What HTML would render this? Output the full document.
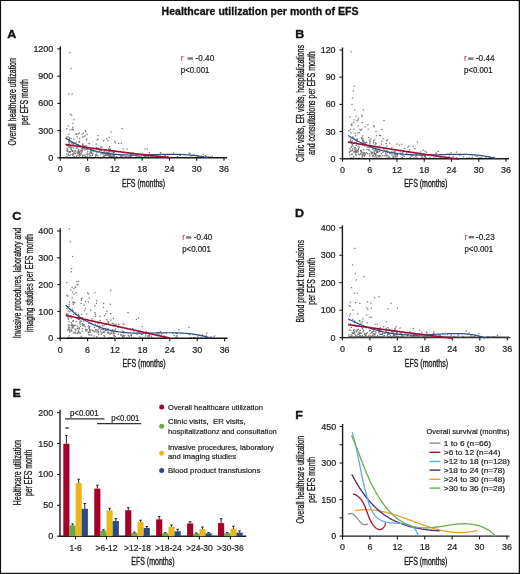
<!DOCTYPE html>
<html><head><meta charset="utf-8"><style>html,body{margin:0;padding:0;background:#fff;width:520px;height:574px;overflow:hidden}</style></head><body>
<svg width="520" height="574" viewBox="0 0 520 574" style="display:block;will-change:transform;font-family:'Liberation Sans', sans-serif">
<rect x="0" y="0" width="520" height="574" fill="#fff"/>
<rect x="0" y="0" width="520" height="1" fill="#111"/>
<rect x="0" y="0" width="1.1" height="574" fill="#111"/>
<rect x="518.7" y="0" width="1.3" height="574" fill="#111"/>
<rect x="0" y="572.8" width="520" height="1.2" fill="#111"/>
<text x="260.0" y="14.9" font-size="10.55" text-anchor="middle" font-weight="bold" fill="#111" stroke="#111" stroke-width="0.3">Healthcare utilization per month of EFS</text>
<text transform="translate(7.20,38.20) scale(1.06,1)" font-size="11.8" font-weight="bold" fill="#111" stroke="#111" stroke-width="0.35">A</text>
<text transform="translate(295.30,38.20) scale(1.06,1)" font-size="11.8" font-weight="bold" fill="#111" stroke="#111" stroke-width="0.35">B</text>
<text transform="translate(12.30,219.70) scale(1.06,1)" font-size="11.8" font-weight="bold" fill="#111" stroke="#111" stroke-width="0.35">C</text>
<text transform="translate(294.90,216.90) scale(1.06,1)" font-size="11.8" font-weight="bold" fill="#111" stroke="#111" stroke-width="0.35">D</text>
<text transform="translate(12.60,396.50) scale(1.06,1)" font-size="11.8" font-weight="bold" fill="#111" stroke="#111" stroke-width="0.35">E</text>
<text transform="translate(295.20,418.70) scale(1.06,1)" font-size="11.8" font-weight="bold" fill="#111" stroke="#111" stroke-width="0.35">F</text>
<rect x="69.23" y="51.91" width="1.25" height="1.25" fill="#727272"/>
<rect x="70.59" y="67.79" width="1.25" height="1.25" fill="#727272"/>
<rect x="68.32" y="93.20" width="1.25" height="1.25" fill="#727272"/>
<rect x="71.50" y="93.20" width="1.25" height="1.25" fill="#727272"/>
<rect x="69.68" y="113.62" width="1.25" height="1.25" fill="#727272"/>
<rect x="71.05" y="114.53" width="1.25" height="1.25" fill="#727272"/>
<rect x="73.32" y="119.06" width="1.25" height="1.25" fill="#727272"/>
<rect x="72.41" y="122.69" width="1.25" height="1.25" fill="#727272"/>
<rect x="84.69" y="129.96" width="1.25" height="1.25" fill="#727272"/>
<rect x="81.51" y="133.59" width="1.25" height="1.25" fill="#727272"/>
<rect x="97.42" y="134.95" width="1.25" height="1.25" fill="#727272"/>
<rect x="106.06" y="138.12" width="1.25" height="1.25" fill="#727272"/>
<rect x="114.24" y="140.84" width="1.25" height="1.25" fill="#727272"/>
<rect x="76.70" y="156.96" width="1.25" height="1.25" fill="#727272"/>
<rect x="98.57" y="157.00" width="1.25" height="1.25" fill="#727272"/>
<rect x="72.99" y="142.42" width="1.25" height="1.25" fill="#727272"/>
<rect x="100.78" y="149.83" width="1.25" height="1.25" fill="#727272"/>
<rect x="205.27" y="156.05" width="1.25" height="1.25" fill="#727272"/>
<rect x="69.00" y="142.40" width="1.25" height="1.25" fill="#727272"/>
<rect x="99.85" y="157.16" width="1.25" height="1.25" fill="#727272"/>
<rect x="73.05" y="153.18" width="1.25" height="1.25" fill="#727272"/>
<rect x="77.49" y="152.15" width="1.25" height="1.25" fill="#727272"/>
<rect x="110.27" y="155.11" width="1.25" height="1.25" fill="#727272"/>
<rect x="78.44" y="150.86" width="1.25" height="1.25" fill="#727272"/>
<rect x="100.65" y="152.39" width="1.25" height="1.25" fill="#727272"/>
<rect x="75.78" y="155.52" width="1.25" height="1.25" fill="#727272"/>
<rect x="192.90" y="156.89" width="1.25" height="1.25" fill="#727272"/>
<rect x="108.58" y="150.94" width="1.25" height="1.25" fill="#727272"/>
<rect x="83.13" y="148.16" width="1.25" height="1.25" fill="#727272"/>
<rect x="68.16" y="141.52" width="1.25" height="1.25" fill="#727272"/>
<rect x="84.98" y="156.01" width="1.25" height="1.25" fill="#727272"/>
<rect x="124.37" y="155.62" width="1.25" height="1.25" fill="#727272"/>
<rect x="112.90" y="152.44" width="1.25" height="1.25" fill="#727272"/>
<rect x="75.69" y="141.51" width="1.25" height="1.25" fill="#727272"/>
<rect x="72.09" y="150.76" width="1.25" height="1.25" fill="#727272"/>
<rect x="103.94" y="156.80" width="1.25" height="1.25" fill="#727272"/>
<rect x="143.27" y="155.83" width="1.25" height="1.25" fill="#727272"/>
<rect x="84.56" y="148.22" width="1.25" height="1.25" fill="#727272"/>
<rect x="66.91" y="157.12" width="1.25" height="1.25" fill="#727272"/>
<rect x="66.46" y="149.64" width="1.25" height="1.25" fill="#727272"/>
<rect x="72.01" y="150.32" width="1.25" height="1.25" fill="#727272"/>
<rect x="131.19" y="153.76" width="1.25" height="1.25" fill="#727272"/>
<rect x="108.80" y="152.36" width="1.25" height="1.25" fill="#727272"/>
<rect x="74.69" y="149.87" width="1.25" height="1.25" fill="#727272"/>
<rect x="109.89" y="153.60" width="1.25" height="1.25" fill="#727272"/>
<rect x="68.78" y="154.92" width="1.25" height="1.25" fill="#727272"/>
<rect x="79.33" y="151.39" width="1.25" height="1.25" fill="#727272"/>
<rect x="144.01" y="154.99" width="1.25" height="1.25" fill="#727272"/>
<rect x="83.30" y="136.08" width="1.25" height="1.25" fill="#727272"/>
<rect x="81.70" y="154.51" width="1.25" height="1.25" fill="#727272"/>
<rect x="164.65" y="155.56" width="1.25" height="1.25" fill="#727272"/>
<rect x="109.17" y="150.33" width="1.25" height="1.25" fill="#727272"/>
<rect x="85.11" y="131.27" width="1.25" height="1.25" fill="#727272"/>
<rect x="120.74" y="155.90" width="1.25" height="1.25" fill="#727272"/>
<rect x="81.95" y="155.92" width="1.25" height="1.25" fill="#727272"/>
<rect x="86.46" y="133.58" width="1.25" height="1.25" fill="#727272"/>
<rect x="159.93" y="151.91" width="1.25" height="1.25" fill="#727272"/>
<rect x="86.58" y="156.77" width="1.25" height="1.25" fill="#727272"/>
<rect x="112.13" y="154.12" width="1.25" height="1.25" fill="#727272"/>
<rect x="121.92" y="154.75" width="1.25" height="1.25" fill="#727272"/>
<rect x="95.75" y="147.10" width="1.25" height="1.25" fill="#727272"/>
<rect x="179.79" y="154.81" width="1.25" height="1.25" fill="#727272"/>
<rect x="184.47" y="156.57" width="1.25" height="1.25" fill="#727272"/>
<rect x="69.04" y="156.85" width="1.25" height="1.25" fill="#727272"/>
<rect x="77.92" y="152.17" width="1.25" height="1.25" fill="#727272"/>
<rect x="85.79" y="139.40" width="1.25" height="1.25" fill="#727272"/>
<rect x="78.69" y="155.20" width="1.25" height="1.25" fill="#727272"/>
<rect x="189.61" y="156.63" width="1.25" height="1.25" fill="#727272"/>
<rect x="96.81" y="156.56" width="1.25" height="1.25" fill="#727272"/>
<rect x="112.40" y="152.37" width="1.25" height="1.25" fill="#727272"/>
<rect x="109.15" y="149.40" width="1.25" height="1.25" fill="#727272"/>
<rect x="67.24" y="135.91" width="1.25" height="1.25" fill="#727272"/>
<rect x="119.86" y="154.86" width="1.25" height="1.25" fill="#727272"/>
<rect x="122.23" y="155.29" width="1.25" height="1.25" fill="#727272"/>
<rect x="113.92" y="151.45" width="1.25" height="1.25" fill="#727272"/>
<rect x="88.65" y="142.98" width="1.25" height="1.25" fill="#727272"/>
<rect x="100.05" y="146.52" width="1.25" height="1.25" fill="#727272"/>
<rect x="84.46" y="149.51" width="1.25" height="1.25" fill="#727272"/>
<rect x="118.06" y="142.81" width="1.25" height="1.25" fill="#727272"/>
<rect x="72.96" y="143.42" width="1.25" height="1.25" fill="#727272"/>
<rect x="119.68" y="156.32" width="1.25" height="1.25" fill="#727272"/>
<rect x="77.31" y="152.58" width="1.25" height="1.25" fill="#727272"/>
<rect x="76.43" y="136.31" width="1.25" height="1.25" fill="#727272"/>
<rect x="73.47" y="155.86" width="1.25" height="1.25" fill="#727272"/>
<rect x="74.67" y="152.61" width="1.25" height="1.25" fill="#727272"/>
<rect x="66.87" y="148.99" width="1.25" height="1.25" fill="#727272"/>
<rect x="132.44" y="152.44" width="1.25" height="1.25" fill="#727272"/>
<rect x="90.39" y="156.87" width="1.25" height="1.25" fill="#727272"/>
<rect x="97.53" y="138.44" width="1.25" height="1.25" fill="#727272"/>
<rect x="108.98" y="146.33" width="1.25" height="1.25" fill="#727272"/>
<rect x="113.69" y="150.20" width="1.25" height="1.25" fill="#727272"/>
<rect x="93.48" y="157.13" width="1.25" height="1.25" fill="#727272"/>
<rect x="70.23" y="154.23" width="1.25" height="1.25" fill="#727272"/>
<rect x="80.30" y="150.38" width="1.25" height="1.25" fill="#727272"/>
<rect x="68.62" y="136.99" width="1.25" height="1.25" fill="#727272"/>
<rect x="81.97" y="149.10" width="1.25" height="1.25" fill="#727272"/>
<rect x="66.06" y="153.27" width="1.25" height="1.25" fill="#727272"/>
<rect x="66.13" y="143.96" width="1.25" height="1.25" fill="#727272"/>
<rect x="66.73" y="157.05" width="1.25" height="1.25" fill="#727272"/>
<rect x="74.71" y="153.09" width="1.25" height="1.25" fill="#727272"/>
<rect x="126.11" y="156.38" width="1.25" height="1.25" fill="#727272"/>
<rect x="76.57" y="156.83" width="1.25" height="1.25" fill="#727272"/>
<rect x="197.34" y="155.34" width="1.25" height="1.25" fill="#727272"/>
<rect x="108.03" y="148.00" width="1.25" height="1.25" fill="#727272"/>
<rect x="104.15" y="152.72" width="1.25" height="1.25" fill="#727272"/>
<rect x="67.76" y="143.78" width="1.25" height="1.25" fill="#727272"/>
<rect x="102.35" y="152.98" width="1.25" height="1.25" fill="#727272"/>
<rect x="132.54" y="154.84" width="1.25" height="1.25" fill="#727272"/>
<rect x="105.87" y="149.36" width="1.25" height="1.25" fill="#727272"/>
<rect x="105.96" y="151.47" width="1.25" height="1.25" fill="#727272"/>
<rect x="97.66" y="151.41" width="1.25" height="1.25" fill="#727272"/>
<rect x="87.11" y="155.28" width="1.25" height="1.25" fill="#727272"/>
<rect x="134.90" y="157.15" width="1.25" height="1.25" fill="#727272"/>
<rect x="77.38" y="150.83" width="1.25" height="1.25" fill="#727272"/>
<rect x="86.19" y="138.04" width="1.25" height="1.25" fill="#727272"/>
<rect x="81.37" y="156.99" width="1.25" height="1.25" fill="#727272"/>
<rect x="130.59" y="153.02" width="1.25" height="1.25" fill="#727272"/>
<rect x="68.37" y="140.50" width="1.25" height="1.25" fill="#727272"/>
<rect x="146.50" y="155.63" width="1.25" height="1.25" fill="#727272"/>
<rect x="74.00" y="157.18" width="1.25" height="1.25" fill="#727272"/>
<rect x="92.03" y="153.43" width="1.25" height="1.25" fill="#727272"/>
<rect x="141.55" y="153.43" width="1.25" height="1.25" fill="#727272"/>
<rect x="77.72" y="150.49" width="1.25" height="1.25" fill="#727272"/>
<rect x="101.17" y="146.39" width="1.25" height="1.25" fill="#727272"/>
<rect x="83.95" y="146.88" width="1.25" height="1.25" fill="#727272"/>
<rect x="167.54" y="156.50" width="1.25" height="1.25" fill="#727272"/>
<rect x="81.70" y="145.03" width="1.25" height="1.25" fill="#727272"/>
<rect x="185.58" y="156.86" width="1.25" height="1.25" fill="#727272"/>
<rect x="73.43" y="151.31" width="1.25" height="1.25" fill="#727272"/>
<rect x="68.13" y="151.26" width="1.25" height="1.25" fill="#727272"/>
<rect x="105.94" y="153.36" width="1.25" height="1.25" fill="#727272"/>
<rect x="72.50" y="144.08" width="1.25" height="1.25" fill="#727272"/>
<rect x="164.63" y="154.94" width="1.25" height="1.25" fill="#727272"/>
<rect x="159.51" y="154.31" width="1.25" height="1.25" fill="#727272"/>
<rect x="70.27" y="141.53" width="1.25" height="1.25" fill="#727272"/>
<rect x="129.26" y="156.13" width="1.25" height="1.25" fill="#727272"/>
<rect x="70.59" y="148.46" width="1.25" height="1.25" fill="#727272"/>
<rect x="76.35" y="147.19" width="1.25" height="1.25" fill="#727272"/>
<rect x="73.34" y="138.52" width="1.25" height="1.25" fill="#727272"/>
<rect x="115.04" y="156.88" width="1.25" height="1.25" fill="#727272"/>
<rect x="188.00" y="157.02" width="1.25" height="1.25" fill="#727272"/>
<rect x="205.08" y="156.32" width="1.25" height="1.25" fill="#727272"/>
<rect x="77.21" y="144.23" width="1.25" height="1.25" fill="#727272"/>
<rect x="106.76" y="153.98" width="1.25" height="1.25" fill="#727272"/>
<rect x="147.71" y="155.57" width="1.25" height="1.25" fill="#727272"/>
<rect x="70.17" y="148.43" width="1.25" height="1.25" fill="#727272"/>
<rect x="75.59" y="151.41" width="1.25" height="1.25" fill="#727272"/>
<rect x="66.22" y="155.95" width="1.25" height="1.25" fill="#727272"/>
<rect x="97.54" y="148.34" width="1.25" height="1.25" fill="#727272"/>
<rect x="77.58" y="133.46" width="1.25" height="1.25" fill="#727272"/>
<rect x="90.60" y="150.24" width="1.25" height="1.25" fill="#727272"/>
<rect x="152.79" y="156.70" width="1.25" height="1.25" fill="#727272"/>
<rect x="78.14" y="141.42" width="1.25" height="1.25" fill="#727272"/>
<rect x="71.15" y="146.59" width="1.25" height="1.25" fill="#727272"/>
<rect x="148.87" y="153.96" width="1.25" height="1.25" fill="#727272"/>
<rect x="72.87" y="142.01" width="1.25" height="1.25" fill="#727272"/>
<rect x="113.42" y="154.20" width="1.25" height="1.25" fill="#727272"/>
<rect x="72.48" y="129.04" width="1.25" height="1.25" fill="#727272"/>
<rect x="171.58" y="156.73" width="1.25" height="1.25" fill="#727272"/>
<rect x="152.65" y="156.33" width="1.25" height="1.25" fill="#727272"/>
<rect x="66.09" y="136.77" width="1.25" height="1.25" fill="#727272"/>
<rect x="86.35" y="148.84" width="1.25" height="1.25" fill="#727272"/>
<rect x="129.97" y="156.98" width="1.25" height="1.25" fill="#727272"/>
<rect x="88.56" y="142.91" width="1.25" height="1.25" fill="#727272"/>
<rect x="176.77" y="156.02" width="1.25" height="1.25" fill="#727272"/>
<rect x="81.11" y="151.30" width="1.25" height="1.25" fill="#727272"/>
<rect x="126.58" y="148.43" width="1.25" height="1.25" fill="#727272"/>
<rect x="71.23" y="150.12" width="1.25" height="1.25" fill="#727272"/>
<rect x="81.05" y="147.99" width="1.25" height="1.25" fill="#727272"/>
<rect x="81.71" y="150.19" width="1.25" height="1.25" fill="#727272"/>
<rect x="96.10" y="148.39" width="1.25" height="1.25" fill="#727272"/>
<rect x="144.17" y="155.73" width="1.25" height="1.25" fill="#727272"/>
<rect x="92.59" y="151.02" width="1.25" height="1.25" fill="#727272"/>
<rect x="70.09" y="157.17" width="1.25" height="1.25" fill="#727272"/>
<rect x="113.62" y="154.74" width="1.25" height="1.25" fill="#727272"/>
<rect x="155.97" y="156.97" width="1.25" height="1.25" fill="#727272"/>
<rect x="89.87" y="154.89" width="1.25" height="1.25" fill="#727272"/>
<rect x="138.41" y="156.36" width="1.25" height="1.25" fill="#727272"/>
<rect x="134.86" y="155.06" width="1.25" height="1.25" fill="#727272"/>
<rect x="68.56" y="151.41" width="1.25" height="1.25" fill="#727272"/>
<rect x="95.02" y="154.37" width="1.25" height="1.25" fill="#727272"/>
<rect x="150.29" y="155.56" width="1.25" height="1.25" fill="#727272"/>
<rect x="109.17" y="149.21" width="1.25" height="1.25" fill="#727272"/>
<rect x="81.97" y="148.19" width="1.25" height="1.25" fill="#727272"/>
<rect x="205.76" y="156.41" width="1.25" height="1.25" fill="#727272"/>
<rect x="188.57" y="152.48" width="1.25" height="1.25" fill="#727272"/>
<rect x="68.36" y="147.03" width="1.25" height="1.25" fill="#727272"/>
<rect x="82.78" y="132.54" width="1.25" height="1.25" fill="#727272"/>
<rect x="92.35" y="149.27" width="1.25" height="1.25" fill="#727272"/>
<rect x="72.52" y="153.99" width="1.25" height="1.25" fill="#727272"/>
<rect x="87.63" y="153.70" width="1.25" height="1.25" fill="#727272"/>
<rect x="71.16" y="142.63" width="1.25" height="1.25" fill="#727272"/>
<rect x="109.92" y="154.62" width="1.25" height="1.25" fill="#727272"/>
<rect x="82.60" y="145.68" width="1.25" height="1.25" fill="#727272"/>
<rect x="95.34" y="154.00" width="1.25" height="1.25" fill="#727272"/>
<rect x="76.53" y="147.44" width="1.25" height="1.25" fill="#727272"/>
<rect x="72.12" y="142.22" width="1.25" height="1.25" fill="#727272"/>
<rect x="85.88" y="145.08" width="1.25" height="1.25" fill="#727272"/>
<rect x="121.42" y="128.03" width="1.25" height="1.25" fill="#727272"/>
<rect x="111.89" y="155.64" width="1.25" height="1.25" fill="#727272"/>
<rect x="203.11" y="156.18" width="1.25" height="1.25" fill="#727272"/>
<rect x="108.81" y="155.09" width="1.25" height="1.25" fill="#727272"/>
<rect x="74.52" y="142.56" width="1.25" height="1.25" fill="#727272"/>
<rect x="83.72" y="145.74" width="1.25" height="1.25" fill="#727272"/>
<rect x="144.73" y="156.45" width="1.25" height="1.25" fill="#727272"/>
<rect x="95.79" y="154.46" width="1.25" height="1.25" fill="#727272"/>
<rect x="96.64" y="139.33" width="1.25" height="1.25" fill="#727272"/>
<rect x="106.72" y="152.28" width="1.25" height="1.25" fill="#727272"/>
<rect x="97.48" y="147.35" width="1.25" height="1.25" fill="#727272"/>
<rect x="74.40" y="156.91" width="1.25" height="1.25" fill="#727272"/>
<rect x="78.78" y="141.09" width="1.25" height="1.25" fill="#727272"/>
<rect x="72.23" y="126.62" width="1.25" height="1.25" fill="#727272"/>
<rect x="202.50" y="153.84" width="1.25" height="1.25" fill="#727272"/>
<rect x="211.52" y="155.34" width="1.25" height="1.25" fill="#727272"/>
<rect x="172.96" y="152.53" width="1.25" height="1.25" fill="#727272"/>
<rect x="70.55" y="137.92" width="1.25" height="1.25" fill="#727272"/>
<rect x="167.35" y="154.24" width="1.25" height="1.25" fill="#727272"/>
<rect x="69.03" y="151.07" width="1.25" height="1.25" fill="#727272"/>
<rect x="200.58" y="156.93" width="1.25" height="1.25" fill="#727272"/>
<rect x="100.09" y="153.45" width="1.25" height="1.25" fill="#727272"/>
<rect x="150.36" y="156.71" width="1.25" height="1.25" fill="#727272"/>
<rect x="75.50" y="133.51" width="1.25" height="1.25" fill="#727272"/>
<rect x="120.67" y="142.56" width="1.25" height="1.25" fill="#727272"/>
<rect x="82.15" y="144.98" width="1.25" height="1.25" fill="#727272"/>
<rect x="82.47" y="157.12" width="1.25" height="1.25" fill="#727272"/>
<rect x="98.73" y="149.55" width="1.25" height="1.25" fill="#727272"/>
<rect x="82.50" y="145.34" width="1.25" height="1.25" fill="#727272"/>
<rect x="69.72" y="151.10" width="1.25" height="1.25" fill="#727272"/>
<rect x="86.70" y="152.39" width="1.25" height="1.25" fill="#727272"/>
<rect x="67.61" y="125.38" width="1.25" height="1.25" fill="#727272"/>
<rect x="82.78" y="154.84" width="1.25" height="1.25" fill="#727272"/>
<rect x="102.96" y="139.97" width="1.25" height="1.25" fill="#727272"/>
<rect x="66.77" y="150.92" width="1.25" height="1.25" fill="#727272"/>
<rect x="84.27" y="135.30" width="1.25" height="1.25" fill="#727272"/>
<rect x="163.32" y="155.70" width="1.25" height="1.25" fill="#727272"/>
<rect x="108.30" y="154.20" width="1.25" height="1.25" fill="#727272"/>
<rect x="78.86" y="140.82" width="1.25" height="1.25" fill="#727272"/>
<rect x="78.24" y="149.41" width="1.25" height="1.25" fill="#727272"/>
<rect x="69.85" y="157.04" width="1.25" height="1.25" fill="#727272"/>
<rect x="144.99" y="156.50" width="1.25" height="1.25" fill="#727272"/>
<rect x="73.18" y="152.55" width="1.25" height="1.25" fill="#727272"/>
<rect x="89.32" y="151.59" width="1.25" height="1.25" fill="#727272"/>
<rect x="69.91" y="151.08" width="1.25" height="1.25" fill="#727272"/>
<rect x="71.42" y="129.01" width="1.25" height="1.25" fill="#727272"/>
<rect x="113.58" y="155.44" width="1.25" height="1.25" fill="#727272"/>
<rect x="145.44" y="155.67" width="1.25" height="1.25" fill="#727272"/>
<rect x="76.24" y="156.80" width="1.25" height="1.25" fill="#727272"/>
<rect x="67.79" y="153.81" width="1.25" height="1.25" fill="#727272"/>
<rect x="83.33" y="156.89" width="1.25" height="1.25" fill="#727272"/>
<rect x="105.87" y="156.93" width="1.25" height="1.25" fill="#727272"/>
<rect x="108.50" y="136.64" width="1.25" height="1.25" fill="#727272"/>
<rect x="157.44" y="154.11" width="1.25" height="1.25" fill="#727272"/>
<rect x="79.92" y="154.62" width="1.25" height="1.25" fill="#727272"/>
<rect x="85.59" y="156.86" width="1.25" height="1.25" fill="#727272"/>
<rect x="72.98" y="157.07" width="1.25" height="1.25" fill="#727272"/>
<rect x="72.07" y="154.45" width="1.25" height="1.25" fill="#727272"/>
<rect x="204.82" y="155.04" width="1.25" height="1.25" fill="#727272"/>
<rect x="93.45" y="150.48" width="1.25" height="1.25" fill="#727272"/>
<rect x="109.86" y="156.84" width="1.25" height="1.25" fill="#727272"/>
<rect x="69.35" y="146.01" width="1.25" height="1.25" fill="#727272"/>
<rect x="107.78" y="153.24" width="1.25" height="1.25" fill="#727272"/>
<rect x="108.89" y="149.44" width="1.25" height="1.25" fill="#727272"/>
<rect x="74.20" y="150.14" width="1.25" height="1.25" fill="#727272"/>
<rect x="107.49" y="151.82" width="1.25" height="1.25" fill="#727272"/>
<rect x="94.97" y="155.61" width="1.25" height="1.25" fill="#727272"/>
<rect x="66.46" y="147.75" width="1.25" height="1.25" fill="#727272"/>
<rect x="110.55" y="131.45" width="1.25" height="1.25" fill="#727272"/>
<rect x="106.43" y="154.70" width="1.25" height="1.25" fill="#727272"/>
<rect x="79.85" y="153.13" width="1.25" height="1.25" fill="#727272"/>
<rect x="130.21" y="155.56" width="1.25" height="1.25" fill="#727272"/>
<rect x="89.99" y="152.30" width="1.25" height="1.25" fill="#727272"/>
<rect x="79.86" y="145.72" width="1.25" height="1.25" fill="#727272"/>
<rect x="68.68" y="138.81" width="1.25" height="1.25" fill="#727272"/>
<rect x="77.97" y="144.83" width="1.25" height="1.25" fill="#727272"/>
<rect x="107.72" y="153.56" width="1.25" height="1.25" fill="#727272"/>
<rect x="102.72" y="151.48" width="1.25" height="1.25" fill="#727272"/>
<rect x="78.99" y="138.22" width="1.25" height="1.25" fill="#727272"/>
<rect x="97.16" y="154.71" width="1.25" height="1.25" fill="#727272"/>
<rect x="129.89" y="155.77" width="1.25" height="1.25" fill="#727272"/>
<rect x="122.56" y="148.30" width="1.25" height="1.25" fill="#727272"/>
<rect x="104.05" y="155.68" width="1.25" height="1.25" fill="#727272"/>
<rect x="102.41" y="157.00" width="1.25" height="1.25" fill="#727272"/>
<rect x="137.15" y="156.30" width="1.25" height="1.25" fill="#727272"/>
<rect x="103.91" y="150.29" width="1.25" height="1.25" fill="#727272"/>
<rect x="78.78" y="156.47" width="1.25" height="1.25" fill="#727272"/>
<rect x="68.68" y="144.96" width="1.25" height="1.25" fill="#727272"/>
<rect x="157.05" y="156.81" width="1.25" height="1.25" fill="#727272"/>
<rect x="108.80" y="154.48" width="1.25" height="1.25" fill="#727272"/>
<rect x="89.10" y="155.29" width="1.25" height="1.25" fill="#727272"/>
<rect x="71.86" y="157.07" width="1.25" height="1.25" fill="#727272"/>
<rect x="95.74" y="143.42" width="1.25" height="1.25" fill="#727272"/>
<rect x="90.85" y="151.86" width="1.25" height="1.25" fill="#727272"/>
<rect x="107.93" y="156.71" width="1.25" height="1.25" fill="#727272"/>
<rect x="78.76" y="153.06" width="1.25" height="1.25" fill="#727272"/>
<rect x="113.09" y="155.53" width="1.25" height="1.25" fill="#727272"/>
<rect x="108.39" y="154.31" width="1.25" height="1.25" fill="#727272"/>
<rect x="71.85" y="128.50" width="1.25" height="1.25" fill="#727272"/>
<rect x="70.20" y="146.86" width="1.25" height="1.25" fill="#727272"/>
<rect x="90.21" y="150.74" width="1.25" height="1.25" fill="#727272"/>
<rect x="102.70" y="156.01" width="1.25" height="1.25" fill="#727272"/>
<rect x="144.36" y="148.24" width="1.25" height="1.25" fill="#727272"/>
<rect x="144.48" y="155.06" width="1.25" height="1.25" fill="#727272"/>
<rect x="166.54" y="155.87" width="1.25" height="1.25" fill="#727272"/>
<rect x="78.75" y="132.45" width="1.25" height="1.25" fill="#727272"/>
<rect x="146.66" y="148.41" width="1.25" height="1.25" fill="#727272"/>
<rect x="146.76" y="154.75" width="1.25" height="1.25" fill="#727272"/>
<rect x="106.03" y="154.68" width="1.25" height="1.25" fill="#727272"/>
<rect x="123.87" y="151.73" width="1.25" height="1.25" fill="#727272"/>
<rect x="68.41" y="133.62" width="1.25" height="1.25" fill="#727272"/>
<rect x="109.88" y="156.83" width="1.25" height="1.25" fill="#727272"/>
<rect x="103.59" y="154.92" width="1.25" height="1.25" fill="#727272"/>
<rect x="191.17" y="155.31" width="1.25" height="1.25" fill="#727272"/>
<rect x="77.22" y="154.73" width="1.25" height="1.25" fill="#727272"/>
<rect x="110.98" y="156.88" width="1.25" height="1.25" fill="#727272"/>
<rect x="109.84" y="155.90" width="1.25" height="1.25" fill="#727272"/>
<rect x="130.07" y="154.27" width="1.25" height="1.25" fill="#727272"/>
<rect x="91.74" y="154.75" width="1.25" height="1.25" fill="#727272"/>
<rect x="82.01" y="143.54" width="1.25" height="1.25" fill="#727272"/>
<rect x="125.78" y="156.28" width="1.25" height="1.25" fill="#727272"/>
<rect x="140.53" y="156.15" width="1.25" height="1.25" fill="#727272"/>
<rect x="91.98" y="157.10" width="1.25" height="1.25" fill="#727272"/>
<rect x="192.51" y="154.47" width="1.25" height="1.25" fill="#727272"/>
<rect x="104.58" y="154.97" width="1.25" height="1.25" fill="#727272"/>
<rect x="103.65" y="152.65" width="1.25" height="1.25" fill="#727272"/>
<rect x="78.72" y="151.84" width="1.25" height="1.25" fill="#727272"/>
<rect x="108.60" y="155.13" width="1.25" height="1.25" fill="#727272"/>
<rect x="71.26" y="149.67" width="1.25" height="1.25" fill="#727272"/>
<rect x="84.15" y="146.25" width="1.25" height="1.25" fill="#727272"/>
<rect x="147.66" y="155.23" width="1.25" height="1.25" fill="#727272"/>
<rect x="75.74" y="133.11" width="1.25" height="1.25" fill="#727272"/>
<rect x="102.93" y="153.24" width="1.25" height="1.25" fill="#727272"/>
<rect x="66.12" y="128.14" width="1.25" height="1.25" fill="#727272"/>
<rect x="77.82" y="149.39" width="1.25" height="1.25" fill="#727272"/>
<rect x="77.73" y="152.52" width="1.25" height="1.25" fill="#727272"/>
<rect x="102.42" y="156.58" width="1.25" height="1.25" fill="#727272"/>
<rect x="77.79" y="157.17" width="1.25" height="1.25" fill="#727272"/>
<rect x="84.95" y="145.65" width="1.25" height="1.25" fill="#727272"/>
<rect x="109.82" y="148.71" width="1.25" height="1.25" fill="#727272"/>
<rect x="103.96" y="151.21" width="1.25" height="1.25" fill="#727272"/>
<rect x="137.70" y="156.21" width="1.25" height="1.25" fill="#727272"/>
<rect x="142.79" y="154.22" width="1.25" height="1.25" fill="#727272"/>
<rect x="81.99" y="146.32" width="1.25" height="1.25" fill="#727272"/>
<rect x="108.87" y="155.28" width="1.25" height="1.25" fill="#727272"/>
<rect x="80.58" y="152.44" width="1.25" height="1.25" fill="#727272"/>
<rect x="168.65" y="157.07" width="1.25" height="1.25" fill="#727272"/>
<rect x="108.39" y="155.90" width="1.25" height="1.25" fill="#727272"/>
<rect x="79.33" y="153.02" width="1.25" height="1.25" fill="#727272"/>
<rect x="139.15" y="155.69" width="1.25" height="1.25" fill="#727272"/>
<rect x="100.04" y="149.62" width="1.25" height="1.25" fill="#727272"/>
<rect x="189.25" y="153.08" width="1.25" height="1.25" fill="#727272"/>
<rect x="90.52" y="149.39" width="1.25" height="1.25" fill="#727272"/>
<rect x="78.69" y="154.10" width="1.25" height="1.25" fill="#727272"/>
<rect x="110.59" y="156.04" width="1.25" height="1.25" fill="#727272"/>
<rect x="69.00" y="144.82" width="1.25" height="1.25" fill="#727272"/>
<rect x="95.23" y="150.88" width="1.25" height="1.25" fill="#727272"/>
<rect x="157.38" y="155.33" width="1.25" height="1.25" fill="#727272"/>
<rect x="135.97" y="155.37" width="1.25" height="1.25" fill="#727272"/>
<rect x="80.22" y="149.57" width="1.25" height="1.25" fill="#727272"/>
<rect x="107.22" y="139.97" width="1.25" height="1.25" fill="#727272"/>
<rect x="123.48" y="157.10" width="1.25" height="1.25" fill="#727272"/>
<rect x="66.88" y="150.58" width="1.25" height="1.25" fill="#727272"/>
<rect x="148.70" y="151.93" width="1.25" height="1.25" fill="#727272"/>
<rect x="112.95" y="151.48" width="1.25" height="1.25" fill="#727272"/>
<rect x="112.86" y="155.54" width="1.25" height="1.25" fill="#727272"/>
<rect x="82.28" y="143.57" width="1.25" height="1.25" fill="#727272"/>
<rect x="71.81" y="153.52" width="1.25" height="1.25" fill="#727272"/>
<rect x="77.66" y="145.93" width="1.25" height="1.25" fill="#727272"/>
<rect x="81.42" y="149.84" width="1.25" height="1.25" fill="#727272"/>
<rect x="78.45" y="151.21" width="1.25" height="1.25" fill="#727272"/>
<rect x="68.81" y="137.80" width="1.25" height="1.25" fill="#727272"/>
<rect x="66.25" y="145.09" width="1.25" height="1.25" fill="#727272"/>
<rect x="210.08" y="156.14" width="1.25" height="1.25" fill="#727272"/>
<rect x="130.51" y="156.79" width="1.25" height="1.25" fill="#727272"/>
<rect x="130.70" y="153.38" width="1.25" height="1.25" fill="#727272"/>
<rect x="89.47" y="156.88" width="1.25" height="1.25" fill="#727272"/>
<rect x="110.13" y="155.68" width="1.25" height="1.25" fill="#727272"/>
<rect x="91.04" y="152.67" width="1.25" height="1.25" fill="#727272"/>
<rect x="111.16" y="151.28" width="1.25" height="1.25" fill="#727272"/>
<rect x="207.60" y="156.10" width="1.25" height="1.25" fill="#727272"/>
<rect x="69.35" y="129.38" width="1.25" height="1.25" fill="#727272"/>
<rect x="209.51" y="157.06" width="1.25" height="1.25" fill="#727272"/>
<rect x="196.87" y="156.10" width="1.25" height="1.25" fill="#727272"/>
<rect x="119.34" y="156.83" width="1.25" height="1.25" fill="#727272"/>
<rect x="96.27" y="152.06" width="1.25" height="1.25" fill="#727272"/>
<rect x="68.31" y="144.52" width="1.25" height="1.25" fill="#727272"/>
<rect x="67.48" y="154.54" width="1.25" height="1.25" fill="#727272"/>
<rect x="88.97" y="153.12" width="1.25" height="1.25" fill="#727272"/>
<rect x="84.51" y="155.75" width="1.25" height="1.25" fill="#727272"/>
<rect x="84.18" y="154.26" width="1.25" height="1.25" fill="#727272"/>
<rect x="114.81" y="142.18" width="1.25" height="1.25" fill="#727272"/>
<rect x="90.89" y="148.08" width="1.25" height="1.25" fill="#727272"/>
<rect x="75.78" y="156.96" width="1.25" height="1.25" fill="#727272"/>
<rect x="86.26" y="154.02" width="1.25" height="1.25" fill="#727272"/>
<rect x="125.92" y="156.30" width="1.25" height="1.25" fill="#727272"/>
<rect x="81.66" y="136.40" width="1.25" height="1.25" fill="#727272"/>
<rect x="99.52" y="156.78" width="1.25" height="1.25" fill="#727272"/>
<rect x="67.73" y="145.44" width="1.25" height="1.25" fill="#727272"/>
<rect x="69.24" y="156.93" width="1.25" height="1.25" fill="#727272"/>
<rect x="104.78" y="153.69" width="1.25" height="1.25" fill="#727272"/>
<rect x="115.89" y="156.03" width="1.25" height="1.25" fill="#727272"/>
<rect x="72.69" y="147.34" width="1.25" height="1.25" fill="#727272"/>
<rect x="87.10" y="150.71" width="1.25" height="1.25" fill="#727272"/>
<rect x="128.38" y="155.70" width="1.25" height="1.25" fill="#727272"/>
<line x1="60.30" y1="46.40" x2="60.30" y2="158.50" stroke="#1a1a1a" stroke-width="1.4"/>
<line x1="59.60" y1="157.80" x2="226.99" y2="157.80" stroke="#1a1a1a" stroke-width="1.4"/>
<line x1="57.30" y1="48.90" x2="60.30" y2="48.90" stroke="#1a1a1a" stroke-width="1.1"/>
<text transform="translate(53.30,51.90) scale(1.080,1)" font-size="8.30" text-anchor="end" fill="#222" font-weight="normal"  stroke="#222" stroke-width="0.20">1200</text>
<line x1="57.30" y1="76.20" x2="60.30" y2="76.20" stroke="#1a1a1a" stroke-width="1.1"/>
<text transform="translate(53.30,79.20) scale(1.080,1)" font-size="8.30" text-anchor="end" fill="#222" font-weight="normal"  stroke="#222" stroke-width="0.20">900</text>
<line x1="57.30" y1="103.40" x2="60.30" y2="103.40" stroke="#1a1a1a" stroke-width="1.1"/>
<text transform="translate(53.30,106.40) scale(1.080,1)" font-size="8.30" text-anchor="end" fill="#222" font-weight="normal"  stroke="#222" stroke-width="0.20">600</text>
<line x1="57.30" y1="130.60" x2="60.30" y2="130.60" stroke="#1a1a1a" stroke-width="1.1"/>
<text transform="translate(53.30,133.60) scale(1.080,1)" font-size="8.30" text-anchor="end" fill="#222" font-weight="normal"  stroke="#222" stroke-width="0.20">300</text>
<line x1="57.30" y1="157.80" x2="60.30" y2="157.80" stroke="#1a1a1a" stroke-width="1.1"/>
<text transform="translate(53.30,160.80) scale(1.080,1)" font-size="8.30" text-anchor="end" fill="#222" font-weight="normal"  stroke="#222" stroke-width="0.20">0</text>
<line x1="60.30" y1="157.80" x2="60.30" y2="160.80" stroke="#1a1a1a" stroke-width="1.1"/>
<text transform="translate(60.30,172.40) scale(1.080,1)" font-size="8.30" text-anchor="middle" fill="#222" font-weight="normal"  stroke="#222" stroke-width="0.20">0</text>
<line x1="87.58" y1="157.80" x2="87.58" y2="160.80" stroke="#1a1a1a" stroke-width="1.1"/>
<text transform="translate(87.58,172.40) scale(1.080,1)" font-size="8.30" text-anchor="middle" fill="#222" font-weight="normal"  stroke="#222" stroke-width="0.20">6</text>
<line x1="114.86" y1="157.80" x2="114.86" y2="160.80" stroke="#1a1a1a" stroke-width="1.1"/>
<text transform="translate(114.86,172.40) scale(1.080,1)" font-size="8.30" text-anchor="middle" fill="#222" font-weight="normal"  stroke="#222" stroke-width="0.20">12</text>
<line x1="142.15" y1="157.80" x2="142.15" y2="160.80" stroke="#1a1a1a" stroke-width="1.1"/>
<text transform="translate(142.15,172.40) scale(1.080,1)" font-size="8.30" text-anchor="middle" fill="#222" font-weight="normal"  stroke="#222" stroke-width="0.20">18</text>
<line x1="169.43" y1="157.80" x2="169.43" y2="160.80" stroke="#1a1a1a" stroke-width="1.1"/>
<text transform="translate(169.43,172.40) scale(1.080,1)" font-size="8.30" text-anchor="middle" fill="#222" font-weight="normal"  stroke="#222" stroke-width="0.20">24</text>
<line x1="196.71" y1="157.80" x2="196.71" y2="160.80" stroke="#1a1a1a" stroke-width="1.1"/>
<text transform="translate(196.71,172.40) scale(1.080,1)" font-size="8.30" text-anchor="middle" fill="#222" font-weight="normal"  stroke="#222" stroke-width="0.20">30</text>
<line x1="223.99" y1="157.80" x2="223.99" y2="160.80" stroke="#1a1a1a" stroke-width="1.1"/>
<text transform="translate(223.99,172.40) scale(1.080,1)" font-size="8.30" text-anchor="middle" fill="#222" font-weight="normal"  stroke="#222" stroke-width="0.20">36</text>
<path d="M65.40,138.02 L66.40,138.65 L67.40,139.27 L68.40,139.87 L69.40,140.46 L70.40,141.03 L71.40,141.58 L72.40,142.13 L73.40,142.65 L74.40,143.17 L75.40,143.67 L76.40,144.15 L77.40,144.63 L78.40,145.09 L79.40,145.53 L80.40,145.96 L81.40,146.38 L82.40,146.79 L83.40,147.19 L84.40,147.57 L85.40,147.94 L86.40,148.30 L87.40,148.64 L88.40,148.98 L89.40,149.30 L90.40,149.61 L91.40,149.92 L92.40,150.21 L93.40,150.49 L94.40,150.76 L95.40,151.02 L96.40,151.26 L97.40,151.50 L98.40,151.73 L99.40,151.95 L100.40,152.16 L101.40,152.36 L102.40,152.56 L103.40,152.74 L104.40,152.92 L105.40,153.08 L106.40,153.24 L107.40,153.39 L108.40,153.53 L109.40,153.67 L110.40,153.79 L111.40,153.91 L112.40,154.03 L113.40,154.13 L114.40,154.23 L115.40,154.32 L116.40,154.41 L117.40,154.49 L118.40,154.56 L119.40,154.63 L120.40,154.69 L121.40,154.75 L122.40,154.80 L123.40,154.84 L124.40,154.88 L125.40,154.92 L126.40,154.95 L127.40,154.97 L128.40,155.00 L129.40,155.01 L130.40,155.03 L131.40,155.04 L132.40,155.04 L133.40,155.05 L134.40,155.04 L135.40,155.04 L136.40,155.03 L137.40,155.03 L138.40,155.01 L139.40,155.00 L140.40,154.98 L141.40,154.96 L142.40,154.94 L143.40,154.92 L144.40,154.90 L145.40,154.87 L146.40,154.84 L147.40,154.82 L148.40,154.79 L149.40,154.76 L150.40,154.73 L151.40,154.70 L152.40,154.67 L153.40,154.64 L154.40,154.61 L155.40,154.58 L156.40,154.55 L157.40,154.52 L158.40,154.49 L159.40,154.47 L160.40,154.44 L161.40,154.42 L162.40,154.40 L163.40,154.37 L164.40,154.35 L165.40,154.34 L166.40,154.32 L167.40,154.31 L168.40,154.30 L169.40,154.29 L170.40,154.29 L171.40,154.29 L172.40,154.29 L173.40,154.29 L174.40,154.30 L175.40,154.31 L176.40,154.33 L177.40,154.35 L178.40,154.37 L179.40,154.40 L180.40,154.43 L181.40,154.47 L182.40,154.51 L183.40,154.56 L184.40,154.61 L185.40,154.67 L186.40,154.73 L187.40,154.80 L188.40,154.87 L189.40,154.95 L190.40,155.04 L191.40,155.13 L192.40,155.23 L193.40,155.33 L194.40,155.45 L195.40,155.57 L196.40,155.69 L197.40,155.82 L198.40,155.96 L199.40,156.11 L200.40,156.27 L201.40,156.43 L202.40,156.60 L203.40,156.78 L204.40,156.97 L205.40,157.17 L206.40,157.37 L207.40,157.59 L207.50,157.61" fill="none" stroke="#2c4c8e" stroke-width="1.2"/>
<path d="M65.40,144.47 L66.40,144.62 L67.40,144.76 L68.40,144.90 L69.40,145.05 L70.40,145.19 L71.40,145.33 L72.40,145.47 L73.40,145.61 L74.40,145.75 L75.40,145.89 L76.40,146.03 L77.40,146.17 L78.40,146.31 L79.40,146.45 L80.40,146.59 L81.40,146.73 L82.40,146.86 L83.40,147.00 L84.40,147.14 L85.40,147.28 L86.40,147.41 L87.40,147.55 L88.40,147.69 L89.40,147.82 L90.40,147.96 L91.40,148.09 L92.40,148.23 L93.40,148.36 L94.40,148.49 L95.40,148.63 L96.40,148.76 L97.40,148.89 L98.40,149.03 L99.40,149.16 L100.40,149.29 L101.40,149.42 L102.40,149.55 L103.40,149.69 L104.40,149.82 L105.40,149.95 L106.40,150.08 L107.40,150.21 L108.40,150.34 L109.40,150.46 L110.40,150.59 L111.40,150.72 L112.40,150.85 L113.40,150.98 L114.40,151.11 L115.40,151.23 L116.40,151.36 L117.40,151.49 L118.40,151.61 L119.40,151.74 L120.40,151.86 L121.40,151.99 L122.40,152.11 L123.40,152.24 L124.40,152.36 L125.40,152.49 L126.40,152.61 L127.40,152.73 L128.40,152.85 L129.40,152.98 L130.40,153.10 L131.40,153.22 L132.40,153.34 L133.40,153.46 L134.40,153.58 L135.40,153.71 L136.40,153.83 L137.40,153.95 L138.40,154.06 L139.40,154.18 L140.40,154.30 L141.40,154.42 L142.40,154.54 L143.40,154.66 L144.40,154.77 L145.40,154.89 L146.40,155.01 L147.40,155.13 L148.40,155.24 L149.40,155.36 L150.40,155.47 L151.40,155.59 L152.40,155.70 L153.40,155.82 L154.40,155.93 L155.40,156.05 L156.40,156.16 L157.40,156.27 L158.40,156.39 L159.40,156.50 L160.40,156.61 L161.40,156.72 L162.40,156.83 L163.40,156.95 L164.40,157.06 L165.40,157.17 L166.40,157.28 L167.40,157.39 L168.40,157.50 L169.40,157.61 L170.30,157.70" fill="none" stroke="#a00c30" stroke-width="1.6"/>
<text x="180.80" y="61.00" font-size="8.4" fill="#c43a66" stroke="#c43a66" stroke-width="0.1">r</text>
<rect x="187.50" y="57.30" width="5.4" height="2.4" fill="#777"/>
<text transform="translate(195.60,61.00) scale(0.950,1)" font-size="8.60" text-anchor="start" fill="#222" font-weight="normal"  stroke="#222" stroke-width="0.20">-0.40</text>
<text transform="translate(180.80,72.90) scale(0.960,1)" font-size="8.20" text-anchor="start" fill="#222" font-weight="normal"  stroke="#222" stroke-width="0.20">p&lt;0.001</text>
<text transform="translate(16.00,145.40) rotate(-90) scale(0.6814,1)" x="-0.00" font-size="10.20" fill="#1a1a1a" stroke="#1a1a1a" stroke-width="0.30">Overall healthcare utilization</text>
<text transform="translate(121.90,186.50) scale(0.7018,1)" x="-0.00" font-size="10.00" fill="#1a1a1a" stroke="#1a1a1a" stroke-width="0.35">EFS (months)</text>
<text transform="translate(27.90,124.90) rotate(-90) scale(0.6691,1)" x="-0.00" font-size="10.20" fill="#1a1a1a" stroke="#1a1a1a" stroke-width="0.30">per EFS month</text>
<rect x="350.51" y="51.19" width="1.25" height="1.25" fill="#727272"/>
<rect x="353.68" y="85.61" width="1.25" height="1.25" fill="#727272"/>
<rect x="352.78" y="90.14" width="1.25" height="1.25" fill="#727272"/>
<rect x="351.87" y="97.39" width="1.25" height="1.25" fill="#727272"/>
<rect x="351.41" y="103.73" width="1.25" height="1.25" fill="#727272"/>
<rect x="354.14" y="109.16" width="1.25" height="1.25" fill="#727272"/>
<rect x="362.76" y="109.16" width="1.25" height="1.25" fill="#727272"/>
<rect x="355.50" y="115.51" width="1.25" height="1.25" fill="#727272"/>
<rect x="353.23" y="121.85" width="1.25" height="1.25" fill="#727272"/>
<rect x="356.41" y="120.03" width="1.25" height="1.25" fill="#727272"/>
<rect x="364.58" y="126.38" width="1.25" height="1.25" fill="#727272"/>
<rect x="410.73" y="154.06" width="1.25" height="1.25" fill="#727272"/>
<rect x="355.36" y="151.45" width="1.25" height="1.25" fill="#727272"/>
<rect x="425.96" y="151.60" width="1.25" height="1.25" fill="#727272"/>
<rect x="448.52" y="155.67" width="1.25" height="1.25" fill="#727272"/>
<rect x="381.45" y="157.81" width="1.25" height="1.25" fill="#727272"/>
<rect x="369.01" y="145.00" width="1.25" height="1.25" fill="#727272"/>
<rect x="392.69" y="157.24" width="1.25" height="1.25" fill="#727272"/>
<rect x="352.58" y="145.47" width="1.25" height="1.25" fill="#727272"/>
<rect x="448.61" y="153.36" width="1.25" height="1.25" fill="#727272"/>
<rect x="373.72" y="151.41" width="1.25" height="1.25" fill="#727272"/>
<rect x="380.91" y="152.94" width="1.25" height="1.25" fill="#727272"/>
<rect x="369.30" y="143.14" width="1.25" height="1.25" fill="#727272"/>
<rect x="372.32" y="157.74" width="1.25" height="1.25" fill="#727272"/>
<rect x="417.07" y="153.00" width="1.25" height="1.25" fill="#727272"/>
<rect x="355.77" y="151.29" width="1.25" height="1.25" fill="#727272"/>
<rect x="351.86" y="149.80" width="1.25" height="1.25" fill="#727272"/>
<rect x="364.96" y="142.54" width="1.25" height="1.25" fill="#727272"/>
<rect x="373.63" y="152.65" width="1.25" height="1.25" fill="#727272"/>
<rect x="350.83" y="157.54" width="1.25" height="1.25" fill="#727272"/>
<rect x="376.91" y="150.50" width="1.25" height="1.25" fill="#727272"/>
<rect x="360.31" y="149.93" width="1.25" height="1.25" fill="#727272"/>
<rect x="359.27" y="128.71" width="1.25" height="1.25" fill="#727272"/>
<rect x="388.20" y="156.29" width="1.25" height="1.25" fill="#727272"/>
<rect x="387.10" y="139.18" width="1.25" height="1.25" fill="#727272"/>
<rect x="357.81" y="117.38" width="1.25" height="1.25" fill="#727272"/>
<rect x="459.24" y="154.86" width="1.25" height="1.25" fill="#727272"/>
<rect x="379.13" y="154.69" width="1.25" height="1.25" fill="#727272"/>
<rect x="357.31" y="151.10" width="1.25" height="1.25" fill="#727272"/>
<rect x="412.49" y="145.93" width="1.25" height="1.25" fill="#727272"/>
<rect x="357.64" y="125.17" width="1.25" height="1.25" fill="#727272"/>
<rect x="361.93" y="143.52" width="1.25" height="1.25" fill="#727272"/>
<rect x="435.70" y="153.20" width="1.25" height="1.25" fill="#727272"/>
<rect x="389.16" y="142.78" width="1.25" height="1.25" fill="#727272"/>
<rect x="376.96" y="150.32" width="1.25" height="1.25" fill="#727272"/>
<rect x="394.70" y="154.52" width="1.25" height="1.25" fill="#727272"/>
<rect x="382.42" y="151.61" width="1.25" height="1.25" fill="#727272"/>
<rect x="414.04" y="157.58" width="1.25" height="1.25" fill="#727272"/>
<rect x="361.57" y="156.32" width="1.25" height="1.25" fill="#727272"/>
<rect x="361.74" y="115.64" width="1.25" height="1.25" fill="#727272"/>
<rect x="396.05" y="143.42" width="1.25" height="1.25" fill="#727272"/>
<rect x="373.79" y="153.02" width="1.25" height="1.25" fill="#727272"/>
<rect x="358.09" y="145.62" width="1.25" height="1.25" fill="#727272"/>
<rect x="435.37" y="155.51" width="1.25" height="1.25" fill="#727272"/>
<rect x="374.26" y="153.77" width="1.25" height="1.25" fill="#727272"/>
<rect x="370.83" y="153.03" width="1.25" height="1.25" fill="#727272"/>
<rect x="396.27" y="154.07" width="1.25" height="1.25" fill="#727272"/>
<rect x="369.56" y="145.49" width="1.25" height="1.25" fill="#727272"/>
<rect x="361.69" y="143.59" width="1.25" height="1.25" fill="#727272"/>
<rect x="396.81" y="155.30" width="1.25" height="1.25" fill="#727272"/>
<rect x="352.59" y="157.52" width="1.25" height="1.25" fill="#727272"/>
<rect x="378.88" y="134.75" width="1.25" height="1.25" fill="#727272"/>
<rect x="357.76" y="153.54" width="1.25" height="1.25" fill="#727272"/>
<rect x="363.45" y="141.43" width="1.25" height="1.25" fill="#727272"/>
<rect x="361.57" y="155.80" width="1.25" height="1.25" fill="#727272"/>
<rect x="372.30" y="155.48" width="1.25" height="1.25" fill="#727272"/>
<rect x="374.41" y="156.05" width="1.25" height="1.25" fill="#727272"/>
<rect x="354.09" y="141.95" width="1.25" height="1.25" fill="#727272"/>
<rect x="468.37" y="157.46" width="1.25" height="1.25" fill="#727272"/>
<rect x="368.50" y="149.87" width="1.25" height="1.25" fill="#727272"/>
<rect x="351.36" y="142.74" width="1.25" height="1.25" fill="#727272"/>
<rect x="369.53" y="146.40" width="1.25" height="1.25" fill="#727272"/>
<rect x="361.88" y="155.32" width="1.25" height="1.25" fill="#727272"/>
<rect x="409.18" y="151.82" width="1.25" height="1.25" fill="#727272"/>
<rect x="371.19" y="152.98" width="1.25" height="1.25" fill="#727272"/>
<rect x="387.03" y="152.06" width="1.25" height="1.25" fill="#727272"/>
<rect x="456.07" y="157.06" width="1.25" height="1.25" fill="#727272"/>
<rect x="414.99" y="155.78" width="1.25" height="1.25" fill="#727272"/>
<rect x="354.53" y="150.68" width="1.25" height="1.25" fill="#727272"/>
<rect x="370.21" y="151.10" width="1.25" height="1.25" fill="#727272"/>
<rect x="350.02" y="149.57" width="1.25" height="1.25" fill="#727272"/>
<rect x="353.32" y="128.64" width="1.25" height="1.25" fill="#727272"/>
<rect x="352.85" y="151.22" width="1.25" height="1.25" fill="#727272"/>
<rect x="401.16" y="143.67" width="1.25" height="1.25" fill="#727272"/>
<rect x="377.69" y="148.46" width="1.25" height="1.25" fill="#727272"/>
<rect x="391.49" y="154.20" width="1.25" height="1.25" fill="#727272"/>
<rect x="360.23" y="149.78" width="1.25" height="1.25" fill="#727272"/>
<rect x="350.88" y="146.27" width="1.25" height="1.25" fill="#727272"/>
<rect x="358.67" y="131.94" width="1.25" height="1.25" fill="#727272"/>
<rect x="422.39" y="157.16" width="1.25" height="1.25" fill="#727272"/>
<rect x="361.87" y="139.47" width="1.25" height="1.25" fill="#727272"/>
<rect x="362.20" y="137.89" width="1.25" height="1.25" fill="#727272"/>
<rect x="351.67" y="140.25" width="1.25" height="1.25" fill="#727272"/>
<rect x="421.59" y="155.31" width="1.25" height="1.25" fill="#727272"/>
<rect x="363.70" y="155.64" width="1.25" height="1.25" fill="#727272"/>
<rect x="479.63" y="157.43" width="1.25" height="1.25" fill="#727272"/>
<rect x="355.24" y="150.84" width="1.25" height="1.25" fill="#727272"/>
<rect x="481.11" y="157.65" width="1.25" height="1.25" fill="#727272"/>
<rect x="416.21" y="156.43" width="1.25" height="1.25" fill="#727272"/>
<rect x="354.08" y="151.53" width="1.25" height="1.25" fill="#727272"/>
<rect x="350.47" y="146.45" width="1.25" height="1.25" fill="#727272"/>
<rect x="355.51" y="150.01" width="1.25" height="1.25" fill="#727272"/>
<rect x="362.70" y="152.30" width="1.25" height="1.25" fill="#727272"/>
<rect x="423.98" y="156.03" width="1.25" height="1.25" fill="#727272"/>
<rect x="379.24" y="149.09" width="1.25" height="1.25" fill="#727272"/>
<rect x="351.61" y="157.91" width="1.25" height="1.25" fill="#727272"/>
<rect x="355.56" y="148.50" width="1.25" height="1.25" fill="#727272"/>
<rect x="354.17" y="142.50" width="1.25" height="1.25" fill="#727272"/>
<rect x="438.02" y="155.88" width="1.25" height="1.25" fill="#727272"/>
<rect x="439.60" y="156.82" width="1.25" height="1.25" fill="#727272"/>
<rect x="393.80" y="151.65" width="1.25" height="1.25" fill="#727272"/>
<rect x="385.32" y="151.62" width="1.25" height="1.25" fill="#727272"/>
<rect x="361.96" y="140.35" width="1.25" height="1.25" fill="#727272"/>
<rect x="362.06" y="135.36" width="1.25" height="1.25" fill="#727272"/>
<rect x="408.22" y="145.32" width="1.25" height="1.25" fill="#727272"/>
<rect x="409.74" y="156.78" width="1.25" height="1.25" fill="#727272"/>
<rect x="357.50" y="119.27" width="1.25" height="1.25" fill="#727272"/>
<rect x="429.24" y="157.13" width="1.25" height="1.25" fill="#727272"/>
<rect x="357.73" y="157.66" width="1.25" height="1.25" fill="#727272"/>
<rect x="364.09" y="158.06" width="1.25" height="1.25" fill="#727272"/>
<rect x="387.56" y="157.56" width="1.25" height="1.25" fill="#727272"/>
<rect x="411.81" y="154.48" width="1.25" height="1.25" fill="#727272"/>
<rect x="377.97" y="155.53" width="1.25" height="1.25" fill="#727272"/>
<rect x="402.33" y="151.39" width="1.25" height="1.25" fill="#727272"/>
<rect x="375.64" y="143.19" width="1.25" height="1.25" fill="#727272"/>
<rect x="393.46" y="150.54" width="1.25" height="1.25" fill="#727272"/>
<rect x="472.08" y="154.15" width="1.25" height="1.25" fill="#727272"/>
<rect x="382.73" y="147.49" width="1.25" height="1.25" fill="#727272"/>
<rect x="374.09" y="148.37" width="1.25" height="1.25" fill="#727272"/>
<rect x="355.55" y="157.67" width="1.25" height="1.25" fill="#727272"/>
<rect x="377.81" y="151.31" width="1.25" height="1.25" fill="#727272"/>
<rect x="368.21" y="136.84" width="1.25" height="1.25" fill="#727272"/>
<rect x="352.38" y="157.75" width="1.25" height="1.25" fill="#727272"/>
<rect x="357.29" y="151.29" width="1.25" height="1.25" fill="#727272"/>
<rect x="380.89" y="143.50" width="1.25" height="1.25" fill="#727272"/>
<rect x="362.35" y="141.23" width="1.25" height="1.25" fill="#727272"/>
<rect x="368.22" y="148.94" width="1.25" height="1.25" fill="#727272"/>
<rect x="402.58" y="155.12" width="1.25" height="1.25" fill="#727272"/>
<rect x="368.93" y="141.45" width="1.25" height="1.25" fill="#727272"/>
<rect x="383.47" y="149.85" width="1.25" height="1.25" fill="#727272"/>
<rect x="355.20" y="153.87" width="1.25" height="1.25" fill="#727272"/>
<rect x="392.25" y="156.31" width="1.25" height="1.25" fill="#727272"/>
<rect x="424.09" y="154.82" width="1.25" height="1.25" fill="#727272"/>
<rect x="394.71" y="154.53" width="1.25" height="1.25" fill="#727272"/>
<rect x="349.86" y="140.26" width="1.25" height="1.25" fill="#727272"/>
<rect x="448.86" y="156.87" width="1.25" height="1.25" fill="#727272"/>
<rect x="383.06" y="148.18" width="1.25" height="1.25" fill="#727272"/>
<rect x="416.49" y="154.76" width="1.25" height="1.25" fill="#727272"/>
<rect x="369.16" y="155.17" width="1.25" height="1.25" fill="#727272"/>
<rect x="396.86" y="154.45" width="1.25" height="1.25" fill="#727272"/>
<rect x="362.51" y="139.55" width="1.25" height="1.25" fill="#727272"/>
<rect x="410.62" y="154.09" width="1.25" height="1.25" fill="#727272"/>
<rect x="354.67" y="147.24" width="1.25" height="1.25" fill="#727272"/>
<rect x="362.85" y="148.95" width="1.25" height="1.25" fill="#727272"/>
<rect x="354.14" y="151.13" width="1.25" height="1.25" fill="#727272"/>
<rect x="357.70" y="149.24" width="1.25" height="1.25" fill="#727272"/>
<rect x="364.36" y="157.99" width="1.25" height="1.25" fill="#727272"/>
<rect x="373.27" y="150.13" width="1.25" height="1.25" fill="#727272"/>
<rect x="396.11" y="157.73" width="1.25" height="1.25" fill="#727272"/>
<rect x="424.48" y="150.53" width="1.25" height="1.25" fill="#727272"/>
<rect x="373.53" y="126.17" width="1.25" height="1.25" fill="#727272"/>
<rect x="388.84" y="156.57" width="1.25" height="1.25" fill="#727272"/>
<rect x="375.72" y="151.68" width="1.25" height="1.25" fill="#727272"/>
<rect x="364.39" y="145.48" width="1.25" height="1.25" fill="#727272"/>
<rect x="372.04" y="148.63" width="1.25" height="1.25" fill="#727272"/>
<rect x="412.54" y="154.40" width="1.25" height="1.25" fill="#727272"/>
<rect x="349.32" y="148.07" width="1.25" height="1.25" fill="#727272"/>
<rect x="375.40" y="130.95" width="1.25" height="1.25" fill="#727272"/>
<rect x="370.26" y="138.46" width="1.25" height="1.25" fill="#727272"/>
<rect x="427.90" y="157.78" width="1.25" height="1.25" fill="#727272"/>
<rect x="449.05" y="157.98" width="1.25" height="1.25" fill="#727272"/>
<rect x="351.80" y="144.03" width="1.25" height="1.25" fill="#727272"/>
<rect x="362.36" y="140.69" width="1.25" height="1.25" fill="#727272"/>
<rect x="437.72" y="150.91" width="1.25" height="1.25" fill="#727272"/>
<rect x="401.32" y="157.18" width="1.25" height="1.25" fill="#727272"/>
<rect x="371.32" y="151.88" width="1.25" height="1.25" fill="#727272"/>
<rect x="411.08" y="155.02" width="1.25" height="1.25" fill="#727272"/>
<rect x="384.48" y="149.84" width="1.25" height="1.25" fill="#727272"/>
<rect x="372.75" y="147.90" width="1.25" height="1.25" fill="#727272"/>
<rect x="366.36" y="148.96" width="1.25" height="1.25" fill="#727272"/>
<rect x="350.57" y="150.48" width="1.25" height="1.25" fill="#727272"/>
<rect x="355.15" y="152.33" width="1.25" height="1.25" fill="#727272"/>
<rect x="375.09" y="153.28" width="1.25" height="1.25" fill="#727272"/>
<rect x="360.71" y="150.91" width="1.25" height="1.25" fill="#727272"/>
<rect x="450.37" y="151.93" width="1.25" height="1.25" fill="#727272"/>
<rect x="433.25" y="157.03" width="1.25" height="1.25" fill="#727272"/>
<rect x="371.83" y="155.24" width="1.25" height="1.25" fill="#727272"/>
<rect x="350.43" y="157.77" width="1.25" height="1.25" fill="#727272"/>
<rect x="394.45" y="151.17" width="1.25" height="1.25" fill="#727272"/>
<rect x="369.73" y="157.60" width="1.25" height="1.25" fill="#727272"/>
<rect x="356.39" y="138.28" width="1.25" height="1.25" fill="#727272"/>
<rect x="355.76" y="139.67" width="1.25" height="1.25" fill="#727272"/>
<rect x="385.09" y="152.91" width="1.25" height="1.25" fill="#727272"/>
<rect x="416.85" y="141.25" width="1.25" height="1.25" fill="#727272"/>
<rect x="372.59" y="154.65" width="1.25" height="1.25" fill="#727272"/>
<rect x="371.04" y="152.11" width="1.25" height="1.25" fill="#727272"/>
<rect x="468.88" y="157.29" width="1.25" height="1.25" fill="#727272"/>
<rect x="406.07" y="152.82" width="1.25" height="1.25" fill="#727272"/>
<rect x="362.80" y="151.83" width="1.25" height="1.25" fill="#727272"/>
<rect x="378.98" y="146.88" width="1.25" height="1.25" fill="#727272"/>
<rect x="424.68" y="156.23" width="1.25" height="1.25" fill="#727272"/>
<rect x="364.50" y="142.31" width="1.25" height="1.25" fill="#727272"/>
<rect x="490.62" y="156.93" width="1.25" height="1.25" fill="#727272"/>
<rect x="369.94" y="140.80" width="1.25" height="1.25" fill="#727272"/>
<rect x="488.74" y="156.46" width="1.25" height="1.25" fill="#727272"/>
<rect x="361.18" y="128.70" width="1.25" height="1.25" fill="#727272"/>
<rect x="349.95" y="157.47" width="1.25" height="1.25" fill="#727272"/>
<rect x="350.20" y="138.65" width="1.25" height="1.25" fill="#727272"/>
<rect x="351.16" y="124.90" width="1.25" height="1.25" fill="#727272"/>
<rect x="375.82" y="135.04" width="1.25" height="1.25" fill="#727272"/>
<rect x="446.35" y="153.32" width="1.25" height="1.25" fill="#727272"/>
<rect x="352.56" y="158.05" width="1.25" height="1.25" fill="#727272"/>
<rect x="382.27" y="155.20" width="1.25" height="1.25" fill="#727272"/>
<rect x="358.91" y="154.23" width="1.25" height="1.25" fill="#727272"/>
<rect x="478.30" y="157.25" width="1.25" height="1.25" fill="#727272"/>
<rect x="364.14" y="152.24" width="1.25" height="1.25" fill="#727272"/>
<rect x="348.32" y="130.01" width="1.25" height="1.25" fill="#727272"/>
<rect x="471.51" y="156.75" width="1.25" height="1.25" fill="#727272"/>
<rect x="361.05" y="138.13" width="1.25" height="1.25" fill="#727272"/>
<rect x="353.54" y="150.75" width="1.25" height="1.25" fill="#727272"/>
<rect x="480.11" y="157.12" width="1.25" height="1.25" fill="#727272"/>
<rect x="396.19" y="156.09" width="1.25" height="1.25" fill="#727272"/>
<rect x="377.09" y="155.08" width="1.25" height="1.25" fill="#727272"/>
<rect x="374.82" y="153.30" width="1.25" height="1.25" fill="#727272"/>
<rect x="393.46" y="153.56" width="1.25" height="1.25" fill="#727272"/>
<rect x="379.73" y="134.98" width="1.25" height="1.25" fill="#727272"/>
<rect x="381.34" y="128.77" width="1.25" height="1.25" fill="#727272"/>
<rect x="361.67" y="153.63" width="1.25" height="1.25" fill="#727272"/>
<rect x="435.43" y="157.39" width="1.25" height="1.25" fill="#727272"/>
<rect x="400.83" y="153.66" width="1.25" height="1.25" fill="#727272"/>
<rect x="356.76" y="139.06" width="1.25" height="1.25" fill="#727272"/>
<rect x="364.53" y="153.57" width="1.25" height="1.25" fill="#727272"/>
<rect x="401.80" y="152.31" width="1.25" height="1.25" fill="#727272"/>
<rect x="372.13" y="152.27" width="1.25" height="1.25" fill="#727272"/>
<rect x="357.56" y="157.97" width="1.25" height="1.25" fill="#727272"/>
<rect x="374.88" y="142.08" width="1.25" height="1.25" fill="#727272"/>
<rect x="419.46" y="154.27" width="1.25" height="1.25" fill="#727272"/>
<rect x="409.86" y="157.81" width="1.25" height="1.25" fill="#727272"/>
<rect x="373.96" y="139.26" width="1.25" height="1.25" fill="#727272"/>
<rect x="375.78" y="156.45" width="1.25" height="1.25" fill="#727272"/>
<rect x="359.87" y="152.98" width="1.25" height="1.25" fill="#727272"/>
<rect x="366.83" y="153.11" width="1.25" height="1.25" fill="#727272"/>
<rect x="388.64" y="157.71" width="1.25" height="1.25" fill="#727272"/>
<rect x="391.26" y="147.24" width="1.25" height="1.25" fill="#727272"/>
<rect x="378.56" y="156.38" width="1.25" height="1.25" fill="#727272"/>
<rect x="377.35" y="157.66" width="1.25" height="1.25" fill="#727272"/>
<rect x="389.05" y="152.85" width="1.25" height="1.25" fill="#727272"/>
<rect x="361.60" y="122.00" width="1.25" height="1.25" fill="#727272"/>
<rect x="386.22" y="145.44" width="1.25" height="1.25" fill="#727272"/>
<rect x="386.54" y="157.54" width="1.25" height="1.25" fill="#727272"/>
<rect x="401.65" y="157.03" width="1.25" height="1.25" fill="#727272"/>
<rect x="396.00" y="153.38" width="1.25" height="1.25" fill="#727272"/>
<rect x="357.32" y="132.30" width="1.25" height="1.25" fill="#727272"/>
<rect x="374.26" y="144.17" width="1.25" height="1.25" fill="#727272"/>
<rect x="349.09" y="154.49" width="1.25" height="1.25" fill="#727272"/>
<rect x="380.12" y="155.29" width="1.25" height="1.25" fill="#727272"/>
<rect x="357.33" y="157.89" width="1.25" height="1.25" fill="#727272"/>
<rect x="382.53" y="138.06" width="1.25" height="1.25" fill="#727272"/>
<rect x="353.00" y="137.65" width="1.25" height="1.25" fill="#727272"/>
<rect x="378.72" y="155.36" width="1.25" height="1.25" fill="#727272"/>
<rect x="358.68" y="157.55" width="1.25" height="1.25" fill="#727272"/>
<rect x="351.18" y="154.08" width="1.25" height="1.25" fill="#727272"/>
<rect x="386.03" y="154.41" width="1.25" height="1.25" fill="#727272"/>
<rect x="350.62" y="141.11" width="1.25" height="1.25" fill="#727272"/>
<rect x="363.78" y="142.48" width="1.25" height="1.25" fill="#727272"/>
<rect x="393.37" y="151.93" width="1.25" height="1.25" fill="#727272"/>
<rect x="391.15" y="151.12" width="1.25" height="1.25" fill="#727272"/>
<rect x="353.45" y="119.25" width="1.25" height="1.25" fill="#727272"/>
<rect x="350.72" y="124.26" width="1.25" height="1.25" fill="#727272"/>
<rect x="358.71" y="146.80" width="1.25" height="1.25" fill="#727272"/>
<rect x="379.34" y="155.60" width="1.25" height="1.25" fill="#727272"/>
<rect x="350.23" y="132.11" width="1.25" height="1.25" fill="#727272"/>
<rect x="466.13" y="157.44" width="1.25" height="1.25" fill="#727272"/>
<rect x="367.54" y="128.58" width="1.25" height="1.25" fill="#727272"/>
<rect x="416.00" y="157.99" width="1.25" height="1.25" fill="#727272"/>
<rect x="362.05" y="144.36" width="1.25" height="1.25" fill="#727272"/>
<rect x="375.52" y="150.68" width="1.25" height="1.25" fill="#727272"/>
<rect x="375.17" y="149.70" width="1.25" height="1.25" fill="#727272"/>
<rect x="353.11" y="157.74" width="1.25" height="1.25" fill="#727272"/>
<rect x="361.11" y="114.37" width="1.25" height="1.25" fill="#727272"/>
<rect x="380.89" y="157.68" width="1.25" height="1.25" fill="#727272"/>
<rect x="354.00" y="147.10" width="1.25" height="1.25" fill="#727272"/>
<rect x="353.66" y="148.65" width="1.25" height="1.25" fill="#727272"/>
<rect x="401.77" y="157.54" width="1.25" height="1.25" fill="#727272"/>
<rect x="357.00" y="149.93" width="1.25" height="1.25" fill="#727272"/>
<rect x="376.24" y="149.29" width="1.25" height="1.25" fill="#727272"/>
<rect x="368.62" y="139.51" width="1.25" height="1.25" fill="#727272"/>
<rect x="492.64" y="157.54" width="1.25" height="1.25" fill="#727272"/>
<rect x="421.38" y="155.23" width="1.25" height="1.25" fill="#727272"/>
<rect x="354.66" y="149.37" width="1.25" height="1.25" fill="#727272"/>
<rect x="349.61" y="140.49" width="1.25" height="1.25" fill="#727272"/>
<rect x="398.62" y="144.47" width="1.25" height="1.25" fill="#727272"/>
<rect x="365.89" y="151.95" width="1.25" height="1.25" fill="#727272"/>
<rect x="355.78" y="154.67" width="1.25" height="1.25" fill="#727272"/>
<rect x="354.97" y="135.22" width="1.25" height="1.25" fill="#727272"/>
<rect x="369.39" y="145.09" width="1.25" height="1.25" fill="#727272"/>
<rect x="351.83" y="148.23" width="1.25" height="1.25" fill="#727272"/>
<rect x="414.42" y="148.01" width="1.25" height="1.25" fill="#727272"/>
<rect x="384.45" y="154.93" width="1.25" height="1.25" fill="#727272"/>
<rect x="422.42" y="149.78" width="1.25" height="1.25" fill="#727272"/>
<rect x="368.87" y="153.15" width="1.25" height="1.25" fill="#727272"/>
<rect x="425.49" y="157.41" width="1.25" height="1.25" fill="#727272"/>
<rect x="407.22" y="151.14" width="1.25" height="1.25" fill="#727272"/>
<rect x="368.26" y="146.84" width="1.25" height="1.25" fill="#727272"/>
<rect x="403.55" y="155.77" width="1.25" height="1.25" fill="#727272"/>
<rect x="363.08" y="148.93" width="1.25" height="1.25" fill="#727272"/>
<rect x="421.16" y="156.76" width="1.25" height="1.25" fill="#727272"/>
<rect x="399.52" y="151.43" width="1.25" height="1.25" fill="#727272"/>
<rect x="389.78" y="157.78" width="1.25" height="1.25" fill="#727272"/>
<rect x="361.51" y="151.87" width="1.25" height="1.25" fill="#727272"/>
<rect x="375.24" y="154.87" width="1.25" height="1.25" fill="#727272"/>
<rect x="367.38" y="124.04" width="1.25" height="1.25" fill="#727272"/>
<rect x="385.59" y="142.78" width="1.25" height="1.25" fill="#727272"/>
<rect x="351.25" y="123.26" width="1.25" height="1.25" fill="#727272"/>
<rect x="446.93" y="157.59" width="1.25" height="1.25" fill="#727272"/>
<rect x="394.95" y="156.36" width="1.25" height="1.25" fill="#727272"/>
<rect x="485.47" y="156.98" width="1.25" height="1.25" fill="#727272"/>
<rect x="355.67" y="144.65" width="1.25" height="1.25" fill="#727272"/>
<rect x="349.89" y="128.87" width="1.25" height="1.25" fill="#727272"/>
<rect x="392.98" y="155.52" width="1.25" height="1.25" fill="#727272"/>
<rect x="355.49" y="151.75" width="1.25" height="1.25" fill="#727272"/>
<rect x="381.17" y="140.73" width="1.25" height="1.25" fill="#727272"/>
<rect x="455.80" y="151.54" width="1.25" height="1.25" fill="#727272"/>
<rect x="378.81" y="145.33" width="1.25" height="1.25" fill="#727272"/>
<rect x="480.34" y="157.88" width="1.25" height="1.25" fill="#727272"/>
<rect x="362.81" y="153.50" width="1.25" height="1.25" fill="#727272"/>
<rect x="360.45" y="151.20" width="1.25" height="1.25" fill="#727272"/>
<rect x="352.99" y="156.01" width="1.25" height="1.25" fill="#727272"/>
<rect x="386.08" y="140.03" width="1.25" height="1.25" fill="#727272"/>
<rect x="476.59" y="155.96" width="1.25" height="1.25" fill="#727272"/>
<rect x="408.97" y="149.07" width="1.25" height="1.25" fill="#727272"/>
<rect x="369.73" y="145.00" width="1.25" height="1.25" fill="#727272"/>
<rect x="354.50" y="132.57" width="1.25" height="1.25" fill="#727272"/>
<rect x="452.35" y="156.00" width="1.25" height="1.25" fill="#727272"/>
<rect x="372.85" y="141.18" width="1.25" height="1.25" fill="#727272"/>
<rect x="373.06" y="140.05" width="1.25" height="1.25" fill="#727272"/>
<rect x="424.64" y="156.42" width="1.25" height="1.25" fill="#727272"/>
<rect x="355.92" y="151.02" width="1.25" height="1.25" fill="#727272"/>
<rect x="363.23" y="154.65" width="1.25" height="1.25" fill="#727272"/>
<rect x="352.48" y="136.57" width="1.25" height="1.25" fill="#727272"/>
<rect x="394.45" y="152.88" width="1.25" height="1.25" fill="#727272"/>
<rect x="386.13" y="149.59" width="1.25" height="1.25" fill="#727272"/>
<rect x="407.51" y="146.49" width="1.25" height="1.25" fill="#727272"/>
<rect x="377.12" y="151.88" width="1.25" height="1.25" fill="#727272"/>
<rect x="410.62" y="155.44" width="1.25" height="1.25" fill="#727272"/>
<rect x="415.29" y="153.18" width="1.25" height="1.25" fill="#727272"/>
<rect x="454.21" y="157.83" width="1.25" height="1.25" fill="#727272"/>
<rect x="385.80" y="155.41" width="1.25" height="1.25" fill="#727272"/>
<rect x="361.12" y="136.87" width="1.25" height="1.25" fill="#727272"/>
<rect x="360.56" y="153.80" width="1.25" height="1.25" fill="#727272"/>
<rect x="419.93" y="151.23" width="1.25" height="1.25" fill="#727272"/>
<rect x="373.32" y="157.71" width="1.25" height="1.25" fill="#727272"/>
<rect x="404.10" y="147.78" width="1.25" height="1.25" fill="#727272"/>
<rect x="364.17" y="153.16" width="1.25" height="1.25" fill="#727272"/>
<rect x="353.55" y="157.69" width="1.25" height="1.25" fill="#727272"/>
<rect x="349.20" y="116.53" width="1.25" height="1.25" fill="#727272"/>
<rect x="365.84" y="142.00" width="1.25" height="1.25" fill="#727272"/>
<rect x="375.10" y="146.25" width="1.25" height="1.25" fill="#727272"/>
<rect x="351.65" y="136.67" width="1.25" height="1.25" fill="#727272"/>
<rect x="348.70" y="151.68" width="1.25" height="1.25" fill="#727272"/>
<rect x="384.60" y="154.84" width="1.25" height="1.25" fill="#727272"/>
<rect x="371.77" y="152.16" width="1.25" height="1.25" fill="#727272"/>
<rect x="493.78" y="156.65" width="1.25" height="1.25" fill="#727272"/>
<rect x="379.01" y="150.82" width="1.25" height="1.25" fill="#727272"/>
<rect x="375.44" y="153.31" width="1.25" height="1.25" fill="#727272"/>
<rect x="356.67" y="139.00" width="1.25" height="1.25" fill="#727272"/>
<rect x="351.45" y="153.34" width="1.25" height="1.25" fill="#727272"/>
<rect x="492.95" y="157.41" width="1.25" height="1.25" fill="#727272"/>
<rect x="366.57" y="146.48" width="1.25" height="1.25" fill="#727272"/>
<rect x="372.96" y="142.54" width="1.25" height="1.25" fill="#727272"/>
<rect x="435.49" y="152.33" width="1.25" height="1.25" fill="#727272"/>
<rect x="361.38" y="142.32" width="1.25" height="1.25" fill="#727272"/>
<rect x="355.94" y="141.28" width="1.25" height="1.25" fill="#727272"/>
<rect x="462.95" y="156.21" width="1.25" height="1.25" fill="#727272"/>
<rect x="371.23" y="146.14" width="1.25" height="1.25" fill="#727272"/>
<rect x="359.84" y="129.75" width="1.25" height="1.25" fill="#727272"/>
<rect x="390.38" y="152.98" width="1.25" height="1.25" fill="#727272"/>
<rect x="351.73" y="144.28" width="1.25" height="1.25" fill="#727272"/>
<rect x="413.20" y="157.53" width="1.25" height="1.25" fill="#727272"/>
<rect x="374.86" y="149.18" width="1.25" height="1.25" fill="#727272"/>
<rect x="419.59" y="154.90" width="1.25" height="1.25" fill="#727272"/>
<rect x="383.37" y="120.03" width="1.25" height="1.25" fill="#727272"/>
<rect x="357.81" y="147.95" width="1.25" height="1.25" fill="#727272"/>
<rect x="349.11" y="151.11" width="1.25" height="1.25" fill="#727272"/>
<rect x="387.26" y="155.13" width="1.25" height="1.25" fill="#727272"/>
<rect x="393.47" y="156.13" width="1.25" height="1.25" fill="#727272"/>
<rect x="364.36" y="154.49" width="1.25" height="1.25" fill="#727272"/>
<rect x="423.30" y="158.02" width="1.25" height="1.25" fill="#727272"/>
<rect x="435.10" y="157.93" width="1.25" height="1.25" fill="#727272"/>
<rect x="475.38" y="155.08" width="1.25" height="1.25" fill="#727272"/>
<rect x="372.94" y="125.07" width="1.25" height="1.25" fill="#727272"/>
<line x1="342.50" y1="47.50" x2="342.50" y2="159.40" stroke="#1a1a1a" stroke-width="1.4"/>
<line x1="341.80" y1="158.70" x2="508.94" y2="158.70" stroke="#1a1a1a" stroke-width="1.4"/>
<line x1="339.50" y1="50.00" x2="342.50" y2="50.00" stroke="#1a1a1a" stroke-width="1.1"/>
<text transform="translate(335.60,53.00) scale(1.080,1)" font-size="8.30" text-anchor="end" fill="#222" font-weight="normal"  stroke="#222" stroke-width="0.20">120</text>
<line x1="339.50" y1="77.20" x2="342.50" y2="77.20" stroke="#1a1a1a" stroke-width="1.1"/>
<text transform="translate(335.60,80.20) scale(1.080,1)" font-size="8.30" text-anchor="end" fill="#222" font-weight="normal"  stroke="#222" stroke-width="0.20">90</text>
<line x1="339.50" y1="104.40" x2="342.50" y2="104.40" stroke="#1a1a1a" stroke-width="1.1"/>
<text transform="translate(335.60,107.40) scale(1.080,1)" font-size="8.30" text-anchor="end" fill="#222" font-weight="normal"  stroke="#222" stroke-width="0.20">60</text>
<line x1="339.50" y1="131.50" x2="342.50" y2="131.50" stroke="#1a1a1a" stroke-width="1.1"/>
<text transform="translate(335.60,134.50) scale(1.080,1)" font-size="8.30" text-anchor="end" fill="#222" font-weight="normal"  stroke="#222" stroke-width="0.20">30</text>
<line x1="339.50" y1="158.70" x2="342.50" y2="158.70" stroke="#1a1a1a" stroke-width="1.1"/>
<text transform="translate(335.60,161.70) scale(1.080,1)" font-size="8.30" text-anchor="end" fill="#222" font-weight="normal"  stroke="#222" stroke-width="0.20">0</text>
<line x1="342.50" y1="158.70" x2="342.50" y2="161.70" stroke="#1a1a1a" stroke-width="1.1"/>
<text transform="translate(342.50,173.30) scale(1.080,1)" font-size="8.30" text-anchor="middle" fill="#222" font-weight="normal"  stroke="#222" stroke-width="0.20">0</text>
<line x1="369.74" y1="158.70" x2="369.74" y2="161.70" stroke="#1a1a1a" stroke-width="1.1"/>
<text transform="translate(369.74,173.30) scale(1.080,1)" font-size="8.30" text-anchor="middle" fill="#222" font-weight="normal"  stroke="#222" stroke-width="0.20">6</text>
<line x1="396.98" y1="158.70" x2="396.98" y2="161.70" stroke="#1a1a1a" stroke-width="1.1"/>
<text transform="translate(396.98,173.30) scale(1.080,1)" font-size="8.30" text-anchor="middle" fill="#222" font-weight="normal"  stroke="#222" stroke-width="0.20">12</text>
<line x1="424.22" y1="158.70" x2="424.22" y2="161.70" stroke="#1a1a1a" stroke-width="1.1"/>
<text transform="translate(424.22,173.30) scale(1.080,1)" font-size="8.30" text-anchor="middle" fill="#222" font-weight="normal"  stroke="#222" stroke-width="0.20">18</text>
<line x1="451.46" y1="158.70" x2="451.46" y2="161.70" stroke="#1a1a1a" stroke-width="1.1"/>
<text transform="translate(451.46,173.30) scale(1.080,1)" font-size="8.30" text-anchor="middle" fill="#222" font-weight="normal"  stroke="#222" stroke-width="0.20">24</text>
<line x1="478.70" y1="158.70" x2="478.70" y2="161.70" stroke="#1a1a1a" stroke-width="1.1"/>
<text transform="translate(478.70,173.30) scale(1.080,1)" font-size="8.30" text-anchor="middle" fill="#222" font-weight="normal"  stroke="#222" stroke-width="0.20">30</text>
<line x1="505.94" y1="158.70" x2="505.94" y2="161.70" stroke="#1a1a1a" stroke-width="1.1"/>
<text transform="translate(505.94,173.30) scale(1.080,1)" font-size="8.30" text-anchor="middle" fill="#222" font-weight="normal"  stroke="#222" stroke-width="0.20">36</text>
<path d="M348.00,135.42 L349.00,136.06 L350.00,136.68 L351.00,137.29 L352.00,137.89 L353.00,138.48 L354.00,139.05 L355.00,139.61 L356.00,140.16 L357.00,140.70 L358.00,141.23 L359.00,141.74 L360.00,142.24 L361.00,142.73 L362.00,143.21 L363.00,143.67 L364.00,144.13 L365.00,144.57 L366.00,145.00 L367.00,145.43 L368.00,145.84 L369.00,146.23 L370.00,146.62 L371.00,147.00 L372.00,147.37 L373.00,147.72 L374.00,148.07 L375.00,148.41 L376.00,148.73 L377.00,149.05 L378.00,149.35 L379.00,149.65 L380.00,149.94 L381.00,150.21 L382.00,150.48 L383.00,150.74 L384.00,150.99 L385.00,151.23 L386.00,151.46 L387.00,151.68 L388.00,151.90 L389.00,152.10 L390.00,152.30 L391.00,152.49 L392.00,152.67 L393.00,152.84 L394.00,153.01 L395.00,153.16 L396.00,153.31 L397.00,153.46 L398.00,153.59 L399.00,153.72 L400.00,153.84 L401.00,153.95 L402.00,154.06 L403.00,154.16 L404.00,154.25 L405.00,154.34 L406.00,154.42 L407.00,154.50 L408.00,154.57 L409.00,154.64 L410.00,154.69 L411.00,154.75 L412.00,154.80 L413.00,154.84 L414.00,154.88 L415.00,154.91 L416.00,154.94 L417.00,154.97 L418.00,154.99 L419.00,155.00 L420.00,155.02 L421.00,155.03 L422.00,155.03 L423.00,155.03 L424.00,155.03 L425.00,155.03 L426.00,155.02 L427.00,155.01 L428.00,155.00 L429.00,154.98 L430.00,154.96 L431.00,154.95 L432.00,154.92 L433.00,154.90 L434.00,154.88 L435.00,154.85 L436.00,154.82 L437.00,154.80 L438.00,154.77 L439.00,154.74 L440.00,154.71 L441.00,154.68 L442.00,154.65 L443.00,154.62 L444.00,154.59 L445.00,154.56 L446.00,154.53 L447.00,154.51 L448.00,154.48 L449.00,154.45 L450.00,154.43 L451.00,154.41 L452.00,154.39 L453.00,154.37 L454.00,154.36 L455.00,154.34 L456.00,154.33 L457.00,154.32 L458.00,154.32 L459.00,154.32 L460.00,154.32 L461.00,154.33 L462.00,154.34 L463.00,154.35 L464.00,154.37 L465.00,154.39 L466.00,154.42 L467.00,154.45 L468.00,154.49 L469.00,154.53 L470.00,154.58 L471.00,154.64 L472.00,154.70 L473.00,154.77 L474.00,154.84 L475.00,154.92 L476.00,155.01 L477.00,155.10 L478.00,155.20 L479.00,155.31 L480.00,155.43 L481.00,155.55 L482.00,155.69 L483.00,155.83 L484.00,155.98 L485.00,156.14 L486.00,156.31 L487.00,156.48 L488.00,156.67 L489.00,156.87 L490.00,157.08 L491.00,157.30 L492.00,157.53 L493.00,157.77 L494.00,158.02 L495.00,158.28 L496.00,158.55 L497.00,158.84" fill="none" stroke="#2c4c8e" stroke-width="1.2"/>
<path d="M348.00,142.08 L349.00,142.25 L350.00,142.42 L351.00,142.59 L352.00,142.75 L353.00,142.92 L354.00,143.09 L355.00,143.26 L356.00,143.42 L357.00,143.59 L358.00,143.76 L359.00,143.92 L360.00,144.09 L361.00,144.25 L362.00,144.42 L363.00,144.59 L364.00,144.75 L365.00,144.91 L366.00,145.08 L367.00,145.24 L368.00,145.41 L369.00,145.57 L370.00,145.73 L371.00,145.90 L372.00,146.06 L373.00,146.22 L374.00,146.38 L375.00,146.55 L376.00,146.71 L377.00,146.87 L378.00,147.03 L379.00,147.19 L380.00,147.35 L381.00,147.51 L382.00,147.67 L383.00,147.83 L384.00,147.99 L385.00,148.15 L386.00,148.31 L387.00,148.47 L388.00,148.63 L389.00,148.79 L390.00,148.94 L391.00,149.10 L392.00,149.26 L393.00,149.42 L394.00,149.57 L395.00,149.73 L396.00,149.89 L397.00,150.04 L398.00,150.20 L399.00,150.35 L400.00,150.51 L401.00,150.66 L402.00,150.82 L403.00,150.97 L404.00,151.13 L405.00,151.28 L406.00,151.44 L407.00,151.59 L408.00,151.74 L409.00,151.90 L410.00,152.05 L411.00,152.20 L412.00,152.35 L413.00,152.51 L414.00,152.66 L415.00,152.81 L416.00,152.96 L417.00,153.11 L418.00,153.26 L419.00,153.41 L420.00,153.56 L421.00,153.71 L422.00,153.86 L423.00,154.01 L424.00,154.16 L425.00,154.31 L426.00,154.46 L427.00,154.60 L428.00,154.75 L429.00,154.90 L430.00,155.05 L431.00,155.19 L432.00,155.34 L433.00,155.49 L434.00,155.63 L435.00,155.78 L436.00,155.93 L437.00,156.07 L438.00,156.22 L439.00,156.36 L440.00,156.51 L441.00,156.65 L442.00,156.80 L443.00,156.94 L444.00,157.08 L445.00,157.23 L446.00,157.37 L447.00,157.51 L448.00,157.65 L449.00,157.80 L450.00,157.94 L451.00,158.08 L452.00,158.22 L453.00,158.36 L454.00,158.51 L455.00,158.65 L456.00,158.79 L457.00,158.93 L458.00,159.07 L458.80,159.18" fill="none" stroke="#a00c30" stroke-width="1.6"/>
<text x="464.00" y="61.10" font-size="8.4" fill="#c43a66" stroke="#c43a66" stroke-width="0.1">r</text>
<rect x="468.00" y="57.40" width="5.4" height="2.4" fill="#777"/>
<text transform="translate(475.90,61.10) scale(0.950,1)" font-size="8.60" text-anchor="start" fill="#222" font-weight="normal"  stroke="#222" stroke-width="0.20">-0.44</text>
<text transform="translate(464.00,73.20) scale(0.960,1)" font-size="8.20" text-anchor="start" fill="#222" font-weight="normal"  stroke="#222" stroke-width="0.20">p&lt;0.001</text>
<text transform="translate(304.10,161.90) rotate(-90) scale(0.6843,1)" x="-0.00" font-size="10.20" fill="#1a1a1a" stroke="#1a1a1a" stroke-width="0.30">Clinic visits, ER visits, hospitalizations</text>
<text transform="translate(404.20,187.20) scale(0.7018,1)" x="-0.00" font-size="10.00" fill="#1a1a1a" stroke="#1a1a1a" stroke-width="0.35">EFS (months)</text>
<text transform="translate(315.20,155.10) rotate(-90) scale(0.6896,1)" x="-0.00" font-size="10.20" fill="#1a1a1a" stroke="#1a1a1a" stroke-width="0.30">and consultations per EFS month</text>
<rect x="68.71" y="228.23" width="1.25" height="1.25" fill="#727272"/>
<rect x="69.63" y="241.11" width="1.25" height="1.25" fill="#727272"/>
<rect x="71.91" y="255.86" width="1.25" height="1.25" fill="#727272"/>
<rect x="71.00" y="267.94" width="1.25" height="1.25" fill="#727272"/>
<rect x="70.54" y="271.15" width="1.25" height="1.25" fill="#727272"/>
<rect x="77.85" y="280.81" width="1.25" height="1.25" fill="#727272"/>
<rect x="71.45" y="286.71" width="1.25" height="1.25" fill="#727272"/>
<rect x="73.28" y="288.05" width="1.25" height="1.25" fill="#727272"/>
<rect x="75.56" y="292.08" width="1.25" height="1.25" fill="#727272"/>
<rect x="87.90" y="293.42" width="1.25" height="1.25" fill="#727272"/>
<rect x="81.50" y="297.44" width="1.25" height="1.25" fill="#727272"/>
<rect x="96.12" y="300.12" width="1.25" height="1.25" fill="#727272"/>
<rect x="102.97" y="302.81" width="1.25" height="1.25" fill="#727272"/>
<rect x="77.65" y="318.65" width="1.25" height="1.25" fill="#727272"/>
<rect x="133.10" y="330.35" width="1.25" height="1.25" fill="#727272"/>
<rect x="205.36" y="337.35" width="1.25" height="1.25" fill="#727272"/>
<rect x="137.03" y="332.59" width="1.25" height="1.25" fill="#727272"/>
<rect x="70.76" y="323.61" width="1.25" height="1.25" fill="#727272"/>
<rect x="66.37" y="308.14" width="1.25" height="1.25" fill="#727272"/>
<rect x="69.38" y="328.99" width="1.25" height="1.25" fill="#727272"/>
<rect x="74.95" y="286.80" width="1.25" height="1.25" fill="#727272"/>
<rect x="118.09" y="323.83" width="1.25" height="1.25" fill="#727272"/>
<rect x="68.40" y="320.89" width="1.25" height="1.25" fill="#727272"/>
<rect x="67.84" y="328.39" width="1.25" height="1.25" fill="#727272"/>
<rect x="101.95" y="332.28" width="1.25" height="1.25" fill="#727272"/>
<rect x="201.85" y="334.28" width="1.25" height="1.25" fill="#727272"/>
<rect x="79.95" y="332.45" width="1.25" height="1.25" fill="#727272"/>
<rect x="148.83" y="334.53" width="1.25" height="1.25" fill="#727272"/>
<rect x="71.31" y="337.32" width="1.25" height="1.25" fill="#727272"/>
<rect x="210.52" y="336.79" width="1.25" height="1.25" fill="#727272"/>
<rect x="141.88" y="333.46" width="1.25" height="1.25" fill="#727272"/>
<rect x="80.55" y="302.82" width="1.25" height="1.25" fill="#727272"/>
<rect x="78.72" y="316.76" width="1.25" height="1.25" fill="#727272"/>
<rect x="71.13" y="330.33" width="1.25" height="1.25" fill="#727272"/>
<rect x="113.29" y="335.29" width="1.25" height="1.25" fill="#727272"/>
<rect x="95.44" y="328.93" width="1.25" height="1.25" fill="#727272"/>
<rect x="85.28" y="328.53" width="1.25" height="1.25" fill="#727272"/>
<rect x="77.74" y="313.78" width="1.25" height="1.25" fill="#727272"/>
<rect x="106.26" y="319.05" width="1.25" height="1.25" fill="#727272"/>
<rect x="66.43" y="312.96" width="1.25" height="1.25" fill="#727272"/>
<rect x="188.72" y="333.98" width="1.25" height="1.25" fill="#727272"/>
<rect x="92.13" y="337.63" width="1.25" height="1.25" fill="#727272"/>
<rect x="68.31" y="335.23" width="1.25" height="1.25" fill="#727272"/>
<rect x="107.01" y="328.44" width="1.25" height="1.25" fill="#727272"/>
<rect x="72.70" y="332.26" width="1.25" height="1.25" fill="#727272"/>
<rect x="71.60" y="308.63" width="1.25" height="1.25" fill="#727272"/>
<rect x="69.69" y="308.78" width="1.25" height="1.25" fill="#727272"/>
<rect x="69.10" y="331.25" width="1.25" height="1.25" fill="#727272"/>
<rect x="75.62" y="317.05" width="1.25" height="1.25" fill="#727272"/>
<rect x="72.27" y="310.03" width="1.25" height="1.25" fill="#727272"/>
<rect x="84.49" y="336.99" width="1.25" height="1.25" fill="#727272"/>
<rect x="71.95" y="291.52" width="1.25" height="1.25" fill="#727272"/>
<rect x="74.57" y="286.31" width="1.25" height="1.25" fill="#727272"/>
<rect x="70.66" y="317.48" width="1.25" height="1.25" fill="#727272"/>
<rect x="72.29" y="327.22" width="1.25" height="1.25" fill="#727272"/>
<rect x="110.22" y="337.15" width="1.25" height="1.25" fill="#727272"/>
<rect x="115.46" y="323.88" width="1.25" height="1.25" fill="#727272"/>
<rect x="86.18" y="313.40" width="1.25" height="1.25" fill="#727272"/>
<rect x="73.21" y="301.68" width="1.25" height="1.25" fill="#727272"/>
<rect x="100.15" y="337.50" width="1.25" height="1.25" fill="#727272"/>
<rect x="146.18" y="332.35" width="1.25" height="1.25" fill="#727272"/>
<rect x="148.86" y="333.85" width="1.25" height="1.25" fill="#727272"/>
<rect x="117.42" y="326.56" width="1.25" height="1.25" fill="#727272"/>
<rect x="197.68" y="337.32" width="1.25" height="1.25" fill="#727272"/>
<rect x="76.87" y="327.61" width="1.25" height="1.25" fill="#727272"/>
<rect x="74.44" y="337.30" width="1.25" height="1.25" fill="#727272"/>
<rect x="122.94" y="331.22" width="1.25" height="1.25" fill="#727272"/>
<rect x="87.05" y="292.21" width="1.25" height="1.25" fill="#727272"/>
<rect x="147.37" y="335.22" width="1.25" height="1.25" fill="#727272"/>
<rect x="80.80" y="337.51" width="1.25" height="1.25" fill="#727272"/>
<rect x="68.28" y="317.59" width="1.25" height="1.25" fill="#727272"/>
<rect x="194.34" y="336.92" width="1.25" height="1.25" fill="#727272"/>
<rect x="74.39" y="331.58" width="1.25" height="1.25" fill="#727272"/>
<rect x="102.27" y="325.34" width="1.25" height="1.25" fill="#727272"/>
<rect x="165.39" y="335.91" width="1.25" height="1.25" fill="#727272"/>
<rect x="71.62" y="297.36" width="1.25" height="1.25" fill="#727272"/>
<rect x="65.98" y="313.82" width="1.25" height="1.25" fill="#727272"/>
<rect x="75.21" y="312.33" width="1.25" height="1.25" fill="#727272"/>
<rect x="68.43" y="305.99" width="1.25" height="1.25" fill="#727272"/>
<rect x="110.76" y="337.49" width="1.25" height="1.25" fill="#727272"/>
<rect x="73.41" y="293.46" width="1.25" height="1.25" fill="#727272"/>
<rect x="124.21" y="334.90" width="1.25" height="1.25" fill="#727272"/>
<rect x="111.66" y="322.82" width="1.25" height="1.25" fill="#727272"/>
<rect x="80.29" y="321.15" width="1.25" height="1.25" fill="#727272"/>
<rect x="108.22" y="332.11" width="1.25" height="1.25" fill="#727272"/>
<rect x="75.61" y="321.12" width="1.25" height="1.25" fill="#727272"/>
<rect x="163.24" y="336.96" width="1.25" height="1.25" fill="#727272"/>
<rect x="104.54" y="328.12" width="1.25" height="1.25" fill="#727272"/>
<rect x="84.76" y="307.95" width="1.25" height="1.25" fill="#727272"/>
<rect x="103.90" y="315.16" width="1.25" height="1.25" fill="#727272"/>
<rect x="103.12" y="327.91" width="1.25" height="1.25" fill="#727272"/>
<rect x="165.81" y="332.94" width="1.25" height="1.25" fill="#727272"/>
<rect x="111.19" y="330.94" width="1.25" height="1.25" fill="#727272"/>
<rect x="103.62" y="324.10" width="1.25" height="1.25" fill="#727272"/>
<rect x="66.56" y="306.01" width="1.25" height="1.25" fill="#727272"/>
<rect x="84.90" y="300.75" width="1.25" height="1.25" fill="#727272"/>
<rect x="96.39" y="330.29" width="1.25" height="1.25" fill="#727272"/>
<rect x="104.02" y="335.45" width="1.25" height="1.25" fill="#727272"/>
<rect x="137.84" y="317.37" width="1.25" height="1.25" fill="#727272"/>
<rect x="88.69" y="327.20" width="1.25" height="1.25" fill="#727272"/>
<rect x="145.43" y="330.60" width="1.25" height="1.25" fill="#727272"/>
<rect x="82.89" y="324.54" width="1.25" height="1.25" fill="#727272"/>
<rect x="68.82" y="327.04" width="1.25" height="1.25" fill="#727272"/>
<rect x="70.33" y="315.08" width="1.25" height="1.25" fill="#727272"/>
<rect x="81.92" y="323.06" width="1.25" height="1.25" fill="#727272"/>
<rect x="71.24" y="327.44" width="1.25" height="1.25" fill="#727272"/>
<rect x="68.64" y="337.18" width="1.25" height="1.25" fill="#727272"/>
<rect x="107.73" y="328.59" width="1.25" height="1.25" fill="#727272"/>
<rect x="88.44" y="327.63" width="1.25" height="1.25" fill="#727272"/>
<rect x="72.31" y="320.93" width="1.25" height="1.25" fill="#727272"/>
<rect x="79.16" y="337.21" width="1.25" height="1.25" fill="#727272"/>
<rect x="79.19" y="321.26" width="1.25" height="1.25" fill="#727272"/>
<rect x="86.83" y="318.84" width="1.25" height="1.25" fill="#727272"/>
<rect x="102.68" y="328.76" width="1.25" height="1.25" fill="#727272"/>
<rect x="83.40" y="304.57" width="1.25" height="1.25" fill="#727272"/>
<rect x="76.49" y="333.09" width="1.25" height="1.25" fill="#727272"/>
<rect x="76.87" y="332.35" width="1.25" height="1.25" fill="#727272"/>
<rect x="78.66" y="327.25" width="1.25" height="1.25" fill="#727272"/>
<rect x="125.91" y="336.88" width="1.25" height="1.25" fill="#727272"/>
<rect x="67.44" y="337.27" width="1.25" height="1.25" fill="#727272"/>
<rect x="80.40" y="320.22" width="1.25" height="1.25" fill="#727272"/>
<rect x="94.01" y="321.14" width="1.25" height="1.25" fill="#727272"/>
<rect x="85.81" y="337.37" width="1.25" height="1.25" fill="#727272"/>
<rect x="103.79" y="331.44" width="1.25" height="1.25" fill="#727272"/>
<rect x="94.30" y="312.00" width="1.25" height="1.25" fill="#727272"/>
<rect x="190.48" y="337.01" width="1.25" height="1.25" fill="#727272"/>
<rect x="82.11" y="317.52" width="1.25" height="1.25" fill="#727272"/>
<rect x="76.16" y="280.96" width="1.25" height="1.25" fill="#727272"/>
<rect x="117.52" y="325.80" width="1.25" height="1.25" fill="#727272"/>
<rect x="66.82" y="315.70" width="1.25" height="1.25" fill="#727272"/>
<rect x="68.67" y="324.61" width="1.25" height="1.25" fill="#727272"/>
<rect x="120.73" y="334.35" width="1.25" height="1.25" fill="#727272"/>
<rect x="81.95" y="317.16" width="1.25" height="1.25" fill="#727272"/>
<rect x="80.64" y="335.56" width="1.25" height="1.25" fill="#727272"/>
<rect x="97.29" y="322.91" width="1.25" height="1.25" fill="#727272"/>
<rect x="88.61" y="297.58" width="1.25" height="1.25" fill="#727272"/>
<rect x="70.17" y="289.40" width="1.25" height="1.25" fill="#727272"/>
<rect x="205.56" y="334.55" width="1.25" height="1.25" fill="#727272"/>
<rect x="95.79" y="302.72" width="1.25" height="1.25" fill="#727272"/>
<rect x="114.76" y="335.80" width="1.25" height="1.25" fill="#727272"/>
<rect x="205.17" y="337.10" width="1.25" height="1.25" fill="#727272"/>
<rect x="72.13" y="323.67" width="1.25" height="1.25" fill="#727272"/>
<rect x="72.72" y="313.80" width="1.25" height="1.25" fill="#727272"/>
<rect x="123.31" y="324.00" width="1.25" height="1.25" fill="#727272"/>
<rect x="108.41" y="336.86" width="1.25" height="1.25" fill="#727272"/>
<rect x="109.26" y="333.67" width="1.25" height="1.25" fill="#727272"/>
<rect x="145.22" y="334.36" width="1.25" height="1.25" fill="#727272"/>
<rect x="148.66" y="335.45" width="1.25" height="1.25" fill="#727272"/>
<rect x="74.98" y="331.57" width="1.25" height="1.25" fill="#727272"/>
<rect x="78.83" y="318.98" width="1.25" height="1.25" fill="#727272"/>
<rect x="71.35" y="337.04" width="1.25" height="1.25" fill="#727272"/>
<rect x="67.09" y="295.30" width="1.25" height="1.25" fill="#727272"/>
<rect x="72.58" y="302.20" width="1.25" height="1.25" fill="#727272"/>
<rect x="97.46" y="329.08" width="1.25" height="1.25" fill="#727272"/>
<rect x="110.35" y="319.39" width="1.25" height="1.25" fill="#727272"/>
<rect x="132.07" y="327.88" width="1.25" height="1.25" fill="#727272"/>
<rect x="121.98" y="336.02" width="1.25" height="1.25" fill="#727272"/>
<rect x="111.65" y="337.20" width="1.25" height="1.25" fill="#727272"/>
<rect x="96.14" y="337.26" width="1.25" height="1.25" fill="#727272"/>
<rect x="127.41" y="311.98" width="1.25" height="1.25" fill="#727272"/>
<rect x="122.39" y="323.23" width="1.25" height="1.25" fill="#727272"/>
<rect x="112.14" y="330.36" width="1.25" height="1.25" fill="#727272"/>
<rect x="78.01" y="331.11" width="1.25" height="1.25" fill="#727272"/>
<rect x="113.00" y="331.99" width="1.25" height="1.25" fill="#727272"/>
<rect x="88.28" y="334.12" width="1.25" height="1.25" fill="#727272"/>
<rect x="148.14" y="335.23" width="1.25" height="1.25" fill="#727272"/>
<rect x="80.75" y="299.58" width="1.25" height="1.25" fill="#727272"/>
<rect x="160.11" y="335.33" width="1.25" height="1.25" fill="#727272"/>
<rect x="136.38" y="333.60" width="1.25" height="1.25" fill="#727272"/>
<rect x="85.37" y="337.41" width="1.25" height="1.25" fill="#727272"/>
<rect x="89.99" y="309.53" width="1.25" height="1.25" fill="#727272"/>
<rect x="101.69" y="324.61" width="1.25" height="1.25" fill="#727272"/>
<rect x="105.18" y="313.31" width="1.25" height="1.25" fill="#727272"/>
<rect x="81.18" y="336.92" width="1.25" height="1.25" fill="#727272"/>
<rect x="84.64" y="326.22" width="1.25" height="1.25" fill="#727272"/>
<rect x="114.31" y="332.79" width="1.25" height="1.25" fill="#727272"/>
<rect x="121.65" y="335.23" width="1.25" height="1.25" fill="#727272"/>
<rect x="69.57" y="337.52" width="1.25" height="1.25" fill="#727272"/>
<rect x="68.99" y="301.62" width="1.25" height="1.25" fill="#727272"/>
<rect x="97.96" y="331.55" width="1.25" height="1.25" fill="#727272"/>
<rect x="87.82" y="337.12" width="1.25" height="1.25" fill="#727272"/>
<rect x="173.56" y="334.94" width="1.25" height="1.25" fill="#727272"/>
<rect x="94.94" y="315.71" width="1.25" height="1.25" fill="#727272"/>
<rect x="77.95" y="330.29" width="1.25" height="1.25" fill="#727272"/>
<rect x="95.26" y="329.57" width="1.25" height="1.25" fill="#727272"/>
<rect x="112.76" y="317.82" width="1.25" height="1.25" fill="#727272"/>
<rect x="107.70" y="331.61" width="1.25" height="1.25" fill="#727272"/>
<rect x="176.66" y="336.44" width="1.25" height="1.25" fill="#727272"/>
<rect x="79.13" y="337.42" width="1.25" height="1.25" fill="#727272"/>
<rect x="94.03" y="331.35" width="1.25" height="1.25" fill="#727272"/>
<rect x="181.41" y="332.72" width="1.25" height="1.25" fill="#727272"/>
<rect x="107.54" y="332.80" width="1.25" height="1.25" fill="#727272"/>
<rect x="99.64" y="319.94" width="1.25" height="1.25" fill="#727272"/>
<rect x="68.61" y="303.92" width="1.25" height="1.25" fill="#727272"/>
<rect x="68.39" y="316.00" width="1.25" height="1.25" fill="#727272"/>
<rect x="78.03" y="331.94" width="1.25" height="1.25" fill="#727272"/>
<rect x="85.28" y="329.18" width="1.25" height="1.25" fill="#727272"/>
<rect x="128.48" y="336.98" width="1.25" height="1.25" fill="#727272"/>
<rect x="150.07" y="337.63" width="1.25" height="1.25" fill="#727272"/>
<rect x="77.62" y="317.51" width="1.25" height="1.25" fill="#727272"/>
<rect x="68.95" y="330.27" width="1.25" height="1.25" fill="#727272"/>
<rect x="96.30" y="336.02" width="1.25" height="1.25" fill="#727272"/>
<rect x="82.00" y="324.78" width="1.25" height="1.25" fill="#727272"/>
<rect x="71.74" y="326.09" width="1.25" height="1.25" fill="#727272"/>
<rect x="77.17" y="337.33" width="1.25" height="1.25" fill="#727272"/>
<rect x="130.88" y="334.78" width="1.25" height="1.25" fill="#727272"/>
<rect x="109.89" y="332.48" width="1.25" height="1.25" fill="#727272"/>
<rect x="88.01" y="325.13" width="1.25" height="1.25" fill="#727272"/>
<rect x="133.19" y="337.04" width="1.25" height="1.25" fill="#727272"/>
<rect x="100.63" y="328.59" width="1.25" height="1.25" fill="#727272"/>
<rect x="112.96" y="333.24" width="1.25" height="1.25" fill="#727272"/>
<rect x="111.31" y="332.79" width="1.25" height="1.25" fill="#727272"/>
<rect x="150.58" y="335.62" width="1.25" height="1.25" fill="#727272"/>
<rect x="68.58" y="327.08" width="1.25" height="1.25" fill="#727272"/>
<rect x="210.40" y="335.99" width="1.25" height="1.25" fill="#727272"/>
<rect x="75.40" y="329.34" width="1.25" height="1.25" fill="#727272"/>
<rect x="200.61" y="336.53" width="1.25" height="1.25" fill="#727272"/>
<rect x="80.30" y="323.65" width="1.25" height="1.25" fill="#727272"/>
<rect x="85.53" y="330.26" width="1.25" height="1.25" fill="#727272"/>
<rect x="103.33" y="335.00" width="1.25" height="1.25" fill="#727272"/>
<rect x="178.21" y="329.07" width="1.25" height="1.25" fill="#727272"/>
<rect x="131.05" y="336.63" width="1.25" height="1.25" fill="#727272"/>
<rect x="106.36" y="310.77" width="1.25" height="1.25" fill="#727272"/>
<rect x="114.01" y="330.54" width="1.25" height="1.25" fill="#727272"/>
<rect x="90.38" y="329.66" width="1.25" height="1.25" fill="#727272"/>
<rect x="67.40" y="313.30" width="1.25" height="1.25" fill="#727272"/>
<rect x="105.39" y="329.96" width="1.25" height="1.25" fill="#727272"/>
<rect x="88.34" y="322.64" width="1.25" height="1.25" fill="#727272"/>
<rect x="71.50" y="324.72" width="1.25" height="1.25" fill="#727272"/>
<rect x="201.17" y="334.82" width="1.25" height="1.25" fill="#727272"/>
<rect x="213.01" y="336.51" width="1.25" height="1.25" fill="#727272"/>
<rect x="109.74" y="303.71" width="1.25" height="1.25" fill="#727272"/>
<rect x="141.59" y="325.86" width="1.25" height="1.25" fill="#727272"/>
<rect x="113.17" y="323.43" width="1.25" height="1.25" fill="#727272"/>
<rect x="87.78" y="301.44" width="1.25" height="1.25" fill="#727272"/>
<rect x="90.98" y="334.31" width="1.25" height="1.25" fill="#727272"/>
<rect x="110.74" y="332.68" width="1.25" height="1.25" fill="#727272"/>
<rect x="159.89" y="331.02" width="1.25" height="1.25" fill="#727272"/>
<rect x="83.33" y="325.50" width="1.25" height="1.25" fill="#727272"/>
<rect x="76.32" y="284.40" width="1.25" height="1.25" fill="#727272"/>
<rect x="102.68" y="331.35" width="1.25" height="1.25" fill="#727272"/>
<rect x="127.55" y="334.80" width="1.25" height="1.25" fill="#727272"/>
<rect x="67.03" y="337.23" width="1.25" height="1.25" fill="#727272"/>
<rect x="67.92" y="326.38" width="1.25" height="1.25" fill="#727272"/>
<rect x="194.28" y="337.02" width="1.25" height="1.25" fill="#727272"/>
<rect x="72.99" y="325.51" width="1.25" height="1.25" fill="#727272"/>
<rect x="80.81" y="298.14" width="1.25" height="1.25" fill="#727272"/>
<rect x="121.79" y="330.19" width="1.25" height="1.25" fill="#727272"/>
<rect x="207.22" y="336.48" width="1.25" height="1.25" fill="#727272"/>
<rect x="72.63" y="303.71" width="1.25" height="1.25" fill="#727272"/>
<rect x="198.63" y="334.82" width="1.25" height="1.25" fill="#727272"/>
<rect x="114.19" y="324.24" width="1.25" height="1.25" fill="#727272"/>
<rect x="87.57" y="331.31" width="1.25" height="1.25" fill="#727272"/>
<rect x="159.98" y="335.26" width="1.25" height="1.25" fill="#727272"/>
<rect x="79.14" y="332.14" width="1.25" height="1.25" fill="#727272"/>
<rect x="99.79" y="337.63" width="1.25" height="1.25" fill="#727272"/>
<rect x="106.61" y="329.26" width="1.25" height="1.25" fill="#727272"/>
<rect x="117.77" y="333.77" width="1.25" height="1.25" fill="#727272"/>
<rect x="138.86" y="330.55" width="1.25" height="1.25" fill="#727272"/>
<rect x="111.94" y="328.98" width="1.25" height="1.25" fill="#727272"/>
<rect x="67.43" y="310.49" width="1.25" height="1.25" fill="#727272"/>
<rect x="98.79" y="327.35" width="1.25" height="1.25" fill="#727272"/>
<rect x="80.93" y="313.61" width="1.25" height="1.25" fill="#727272"/>
<rect x="83.87" y="310.13" width="1.25" height="1.25" fill="#727272"/>
<rect x="66.93" y="329.57" width="1.25" height="1.25" fill="#727272"/>
<rect x="78.18" y="327.75" width="1.25" height="1.25" fill="#727272"/>
<rect x="103.55" y="336.95" width="1.25" height="1.25" fill="#727272"/>
<rect x="72.52" y="319.91" width="1.25" height="1.25" fill="#727272"/>
<rect x="82.31" y="324.68" width="1.25" height="1.25" fill="#727272"/>
<rect x="77.29" y="283.81" width="1.25" height="1.25" fill="#727272"/>
<rect x="74.90" y="313.71" width="1.25" height="1.25" fill="#727272"/>
<rect x="88.62" y="327.01" width="1.25" height="1.25" fill="#727272"/>
<rect x="91.75" y="320.71" width="1.25" height="1.25" fill="#727272"/>
<rect x="68.06" y="328.83" width="1.25" height="1.25" fill="#727272"/>
<rect x="113.63" y="337.10" width="1.25" height="1.25" fill="#727272"/>
<rect x="126.15" y="337.21" width="1.25" height="1.25" fill="#727272"/>
<rect x="104.65" y="329.99" width="1.25" height="1.25" fill="#727272"/>
<rect x="151.15" y="337.10" width="1.25" height="1.25" fill="#727272"/>
<rect x="120.06" y="334.22" width="1.25" height="1.25" fill="#727272"/>
<rect x="94.58" y="323.58" width="1.25" height="1.25" fill="#727272"/>
<rect x="114.27" y="330.35" width="1.25" height="1.25" fill="#727272"/>
<rect x="206.23" y="332.50" width="1.25" height="1.25" fill="#727272"/>
<rect x="163.49" y="335.35" width="1.25" height="1.25" fill="#727272"/>
<rect x="94.36" y="330.77" width="1.25" height="1.25" fill="#727272"/>
<rect x="74.26" y="324.59" width="1.25" height="1.25" fill="#727272"/>
<rect x="99.42" y="325.96" width="1.25" height="1.25" fill="#727272"/>
<rect x="123.48" y="335.93" width="1.25" height="1.25" fill="#727272"/>
<rect x="91.70" y="329.55" width="1.25" height="1.25" fill="#727272"/>
<rect x="89.22" y="334.67" width="1.25" height="1.25" fill="#727272"/>
<rect x="93.91" y="326.99" width="1.25" height="1.25" fill="#727272"/>
<rect x="76.74" y="327.99" width="1.25" height="1.25" fill="#727272"/>
<rect x="91.14" y="337.39" width="1.25" height="1.25" fill="#727272"/>
<rect x="74.60" y="324.74" width="1.25" height="1.25" fill="#727272"/>
<rect x="67.76" y="318.67" width="1.25" height="1.25" fill="#727272"/>
<rect x="97.99" y="333.57" width="1.25" height="1.25" fill="#727272"/>
<rect x="206.40" y="336.77" width="1.25" height="1.25" fill="#727272"/>
<rect x="161.01" y="333.48" width="1.25" height="1.25" fill="#727272"/>
<rect x="172.12" y="332.79" width="1.25" height="1.25" fill="#727272"/>
<rect x="72.13" y="326.84" width="1.25" height="1.25" fill="#727272"/>
<rect x="176.33" y="335.30" width="1.25" height="1.25" fill="#727272"/>
<rect x="82.77" y="320.60" width="1.25" height="1.25" fill="#727272"/>
<rect x="139.21" y="332.97" width="1.25" height="1.25" fill="#727272"/>
<rect x="91.81" y="323.90" width="1.25" height="1.25" fill="#727272"/>
<rect x="122.91" y="334.43" width="1.25" height="1.25" fill="#727272"/>
<rect x="76.57" y="325.52" width="1.25" height="1.25" fill="#727272"/>
<rect x="89.22" y="331.17" width="1.25" height="1.25" fill="#727272"/>
<rect x="213.99" y="335.39" width="1.25" height="1.25" fill="#727272"/>
<rect x="135.84" y="318.78" width="1.25" height="1.25" fill="#727272"/>
<rect x="142.74" y="331.87" width="1.25" height="1.25" fill="#727272"/>
<rect x="175.24" y="336.77" width="1.25" height="1.25" fill="#727272"/>
<rect x="128.53" y="335.64" width="1.25" height="1.25" fill="#727272"/>
<rect x="78.35" y="314.91" width="1.25" height="1.25" fill="#727272"/>
<rect x="82.48" y="337.61" width="1.25" height="1.25" fill="#727272"/>
<rect x="98.65" y="327.64" width="1.25" height="1.25" fill="#727272"/>
<rect x="113.80" y="334.78" width="1.25" height="1.25" fill="#727272"/>
<rect x="89.11" y="325.85" width="1.25" height="1.25" fill="#727272"/>
<rect x="102.07" y="328.87" width="1.25" height="1.25" fill="#727272"/>
<rect x="158.23" y="333.29" width="1.25" height="1.25" fill="#727272"/>
<rect x="92.91" y="330.23" width="1.25" height="1.25" fill="#727272"/>
<rect x="176.62" y="332.85" width="1.25" height="1.25" fill="#727272"/>
<rect x="96.68" y="325.28" width="1.25" height="1.25" fill="#727272"/>
<rect x="94.40" y="292.06" width="1.25" height="1.25" fill="#727272"/>
<rect x="81.77" y="327.94" width="1.25" height="1.25" fill="#727272"/>
<rect x="87.95" y="332.09" width="1.25" height="1.25" fill="#727272"/>
<rect x="103.02" y="331.29" width="1.25" height="1.25" fill="#727272"/>
<rect x="100.02" y="330.50" width="1.25" height="1.25" fill="#727272"/>
<rect x="86.72" y="329.09" width="1.25" height="1.25" fill="#727272"/>
<rect x="100.68" y="333.74" width="1.25" height="1.25" fill="#727272"/>
<rect x="100.53" y="332.17" width="1.25" height="1.25" fill="#727272"/>
<rect x="192.66" y="333.94" width="1.25" height="1.25" fill="#727272"/>
<rect x="112.27" y="330.71" width="1.25" height="1.25" fill="#727272"/>
<rect x="144.63" y="335.54" width="1.25" height="1.25" fill="#727272"/>
<rect x="73.21" y="325.23" width="1.25" height="1.25" fill="#727272"/>
<rect x="147.21" y="336.15" width="1.25" height="1.25" fill="#727272"/>
<rect x="67.06" y="337.18" width="1.25" height="1.25" fill="#727272"/>
<rect x="70.78" y="329.40" width="1.25" height="1.25" fill="#727272"/>
<rect x="130.47" y="334.00" width="1.25" height="1.25" fill="#727272"/>
<rect x="122.70" y="336.94" width="1.25" height="1.25" fill="#727272"/>
<rect x="109.97" y="289.71" width="1.25" height="1.25" fill="#727272"/>
<rect x="107.54" y="321.45" width="1.25" height="1.25" fill="#727272"/>
<rect x="79.64" y="325.80" width="1.25" height="1.25" fill="#727272"/>
<rect x="81.66" y="330.69" width="1.25" height="1.25" fill="#727272"/>
<rect x="83.26" y="324.01" width="1.25" height="1.25" fill="#727272"/>
<rect x="93.52" y="335.45" width="1.25" height="1.25" fill="#727272"/>
<rect x="99.19" y="315.53" width="1.25" height="1.25" fill="#727272"/>
<rect x="88.74" y="329.52" width="1.25" height="1.25" fill="#727272"/>
<rect x="85.43" y="330.21" width="1.25" height="1.25" fill="#727272"/>
<rect x="89.38" y="331.41" width="1.25" height="1.25" fill="#727272"/>
<rect x="70.15" y="330.74" width="1.25" height="1.25" fill="#727272"/>
<rect x="107.26" y="331.72" width="1.25" height="1.25" fill="#727272"/>
<rect x="139.16" y="336.21" width="1.25" height="1.25" fill="#727272"/>
<rect x="157.36" y="332.58" width="1.25" height="1.25" fill="#727272"/>
<rect x="89.49" y="328.85" width="1.25" height="1.25" fill="#727272"/>
<rect x="69.10" y="311.03" width="1.25" height="1.25" fill="#727272"/>
<rect x="98.52" y="325.28" width="1.25" height="1.25" fill="#727272"/>
<rect x="78.59" y="328.42" width="1.25" height="1.25" fill="#727272"/>
<rect x="140.94" y="333.92" width="1.25" height="1.25" fill="#727272"/>
<rect x="94.30" y="305.50" width="1.25" height="1.25" fill="#727272"/>
<rect x="100.02" y="322.05" width="1.25" height="1.25" fill="#727272"/>
<rect x="80.28" y="337.48" width="1.25" height="1.25" fill="#727272"/>
<rect x="67.39" y="317.05" width="1.25" height="1.25" fill="#727272"/>
<rect x="107.62" y="321.19" width="1.25" height="1.25" fill="#727272"/>
<rect x="66.11" y="281.99" width="1.25" height="1.25" fill="#727272"/>
<rect x="122.02" y="337.07" width="1.25" height="1.25" fill="#727272"/>
<rect x="94.96" y="313.63" width="1.25" height="1.25" fill="#727272"/>
<rect x="74.39" y="332.71" width="1.25" height="1.25" fill="#727272"/>
<rect x="120.89" y="326.92" width="1.25" height="1.25" fill="#727272"/>
<rect x="193.18" y="336.98" width="1.25" height="1.25" fill="#727272"/>
<rect x="80.19" y="337.38" width="1.25" height="1.25" fill="#727272"/>
<rect x="114.87" y="328.42" width="1.25" height="1.25" fill="#727272"/>
<rect x="97.44" y="330.61" width="1.25" height="1.25" fill="#727272"/>
<rect x="102.96" y="306.84" width="1.25" height="1.25" fill="#727272"/>
<rect x="96.53" y="331.78" width="1.25" height="1.25" fill="#727272"/>
<rect x="70.69" y="325.05" width="1.25" height="1.25" fill="#727272"/>
<rect x="79.26" y="322.50" width="1.25" height="1.25" fill="#727272"/>
<rect x="197.21" y="336.31" width="1.25" height="1.25" fill="#727272"/>
<rect x="74.22" y="302.15" width="1.25" height="1.25" fill="#727272"/>
<rect x="72.27" y="301.37" width="1.25" height="1.25" fill="#727272"/>
<rect x="71.26" y="309.59" width="1.25" height="1.25" fill="#727272"/>
<rect x="118.39" y="337.32" width="1.25" height="1.25" fill="#727272"/>
<rect x="130.48" y="335.06" width="1.25" height="1.25" fill="#727272"/>
<rect x="74.51" y="328.47" width="1.25" height="1.25" fill="#727272"/>
<rect x="72.82" y="337.32" width="1.25" height="1.25" fill="#727272"/>
<rect x="188.40" y="326.77" width="1.25" height="1.25" fill="#727272"/>
<rect x="77.74" y="337.38" width="1.25" height="1.25" fill="#727272"/>
<rect x="66.23" y="294.89" width="1.25" height="1.25" fill="#727272"/>
<rect x="67.46" y="324.28" width="1.25" height="1.25" fill="#727272"/>
<rect x="123.59" y="331.95" width="1.25" height="1.25" fill="#727272"/>
<rect x="141.50" y="336.92" width="1.25" height="1.25" fill="#727272"/>
<rect x="110.01" y="312.94" width="1.25" height="1.25" fill="#727272"/>
<rect x="91.30" y="318.27" width="1.25" height="1.25" fill="#727272"/>
<rect x="70.60" y="321.89" width="1.25" height="1.25" fill="#727272"/>
<rect x="108.03" y="322.35" width="1.25" height="1.25" fill="#727272"/>
<line x1="60.20" y1="228.30" x2="60.20" y2="339.00" stroke="#1a1a1a" stroke-width="1.4"/>
<line x1="59.50" y1="338.30" x2="227.61" y2="338.30" stroke="#1a1a1a" stroke-width="1.4"/>
<line x1="57.20" y1="231.00" x2="60.20" y2="231.00" stroke="#1a1a1a" stroke-width="1.1"/>
<text transform="translate(53.30,234.00) scale(1.080,1)" font-size="8.30" text-anchor="end" fill="#222" font-weight="normal"  stroke="#222" stroke-width="0.20">400</text>
<line x1="57.20" y1="257.80" x2="60.20" y2="257.80" stroke="#1a1a1a" stroke-width="1.1"/>
<text transform="translate(53.30,260.80) scale(1.080,1)" font-size="8.30" text-anchor="end" fill="#222" font-weight="normal"  stroke="#222" stroke-width="0.20">300</text>
<line x1="57.20" y1="284.60" x2="60.20" y2="284.60" stroke="#1a1a1a" stroke-width="1.1"/>
<text transform="translate(53.30,287.60) scale(1.080,1)" font-size="8.30" text-anchor="end" fill="#222" font-weight="normal"  stroke="#222" stroke-width="0.20">200</text>
<line x1="57.20" y1="311.50" x2="60.20" y2="311.50" stroke="#1a1a1a" stroke-width="1.1"/>
<text transform="translate(53.30,314.50) scale(1.080,1)" font-size="8.30" text-anchor="end" fill="#222" font-weight="normal"  stroke="#222" stroke-width="0.20">100</text>
<line x1="57.20" y1="338.30" x2="60.20" y2="338.30" stroke="#1a1a1a" stroke-width="1.1"/>
<text transform="translate(53.30,341.30) scale(1.080,1)" font-size="8.30" text-anchor="end" fill="#222" font-weight="normal"  stroke="#222" stroke-width="0.20">0</text>
<line x1="60.20" y1="338.30" x2="60.20" y2="341.30" stroke="#1a1a1a" stroke-width="1.1"/>
<text transform="translate(60.20,352.90) scale(1.080,1)" font-size="8.30" text-anchor="middle" fill="#222" font-weight="normal"  stroke="#222" stroke-width="0.20">0</text>
<line x1="87.60" y1="338.30" x2="87.60" y2="341.30" stroke="#1a1a1a" stroke-width="1.1"/>
<text transform="translate(87.60,352.90) scale(1.080,1)" font-size="8.30" text-anchor="middle" fill="#222" font-weight="normal"  stroke="#222" stroke-width="0.20">6</text>
<line x1="115.00" y1="338.30" x2="115.00" y2="341.30" stroke="#1a1a1a" stroke-width="1.1"/>
<text transform="translate(115.00,352.90) scale(1.080,1)" font-size="8.30" text-anchor="middle" fill="#222" font-weight="normal"  stroke="#222" stroke-width="0.20">12</text>
<line x1="142.41" y1="338.30" x2="142.41" y2="341.30" stroke="#1a1a1a" stroke-width="1.1"/>
<text transform="translate(142.41,352.90) scale(1.080,1)" font-size="8.30" text-anchor="middle" fill="#222" font-weight="normal"  stroke="#222" stroke-width="0.20">18</text>
<line x1="169.81" y1="338.30" x2="169.81" y2="341.30" stroke="#1a1a1a" stroke-width="1.1"/>
<text transform="translate(169.81,352.90) scale(1.080,1)" font-size="8.30" text-anchor="middle" fill="#222" font-weight="normal"  stroke="#222" stroke-width="0.20">24</text>
<line x1="197.21" y1="338.30" x2="197.21" y2="341.30" stroke="#1a1a1a" stroke-width="1.1"/>
<text transform="translate(197.21,352.90) scale(1.080,1)" font-size="8.30" text-anchor="middle" fill="#222" font-weight="normal"  stroke="#222" stroke-width="0.20">30</text>
<line x1="224.61" y1="338.30" x2="224.61" y2="341.30" stroke="#1a1a1a" stroke-width="1.1"/>
<text transform="translate(224.61,352.90) scale(1.080,1)" font-size="8.30" text-anchor="middle" fill="#222" font-weight="normal"  stroke="#222" stroke-width="0.20">36</text>
<path d="M65.70,305.21 L66.70,306.19 L67.70,307.14 L68.70,308.07 L69.70,308.98 L70.70,309.87 L71.70,310.73 L72.70,311.58 L73.70,312.40 L74.70,313.20 L75.70,313.98 L76.70,314.74 L77.70,315.48 L78.70,316.20 L79.70,316.90 L80.70,317.58 L81.70,318.25 L82.70,318.89 L83.70,319.52 L84.70,320.12 L85.70,320.71 L86.70,321.29 L87.70,321.84 L88.70,322.38 L89.70,322.90 L90.70,323.40 L91.70,323.89 L92.70,324.36 L93.70,324.82 L94.70,325.26 L95.70,325.68 L96.70,326.09 L97.70,326.49 L98.70,326.87 L99.70,327.24 L100.70,327.59 L101.70,327.93 L102.70,328.26 L103.70,328.57 L104.70,328.87 L105.70,329.15 L106.70,329.43 L107.70,329.69 L108.70,329.94 L109.70,330.18 L110.70,330.41 L111.70,330.63 L112.70,330.83 L113.70,331.03 L114.70,331.21 L115.70,331.39 L116.70,331.55 L117.70,331.70 L118.70,331.85 L119.70,331.99 L120.70,332.12 L121.70,332.23 L122.70,332.35 L123.70,332.45 L124.70,332.54 L125.70,332.63 L126.70,332.71 L127.70,332.79 L128.70,332.85 L129.70,332.91 L130.70,332.97 L131.70,333.01 L132.70,333.05 L133.70,333.09 L134.70,333.12 L135.70,333.15 L136.70,333.17 L137.70,333.18 L138.70,333.20 L139.70,333.20 L140.70,333.21 L141.70,333.21 L142.70,333.21 L143.70,333.20 L144.70,333.19 L145.70,333.18 L146.70,333.17 L147.70,333.15 L148.70,333.13 L149.70,333.11 L150.70,333.09 L151.70,333.07 L152.70,333.05 L153.70,333.02 L154.70,333.00 L155.70,332.97 L156.70,332.95 L157.70,332.93 L158.70,332.90 L159.70,332.88 L160.70,332.86 L161.70,332.84 L162.70,332.82 L163.70,332.80 L164.70,332.79 L165.70,332.77 L166.70,332.76 L167.70,332.75 L168.70,332.75 L169.70,332.75 L170.70,332.75 L171.70,332.75 L172.70,332.76 L173.70,332.77 L174.70,332.79 L175.70,332.81 L176.70,332.84 L177.70,332.87 L178.70,332.90 L179.70,332.95 L180.70,332.99 L181.70,333.05 L182.70,333.11 L183.70,333.17 L184.70,333.24 L185.70,333.32 L186.70,333.41 L187.70,333.50 L188.70,333.60 L189.70,333.71 L190.70,333.83 L191.70,333.95 L192.70,334.08 L193.70,334.23 L194.70,334.38 L195.70,334.54 L196.70,334.70 L197.70,334.88 L198.70,335.07 L199.70,335.27 L200.70,335.48 L201.70,335.70 L202.70,335.92 L203.70,336.16 L204.70,336.42 L205.70,336.68 L206.70,336.95 L207.70,337.24 L208.70,337.53 L209.70,337.84 L210.40,338.07" fill="none" stroke="#2c4c8e" stroke-width="1.2"/>
<path d="M65.70,315.35 L66.70,315.56 L67.70,315.77 L68.70,315.98 L69.70,316.19 L70.70,316.41 L71.70,316.62 L72.70,316.83 L73.70,317.04 L74.70,317.25 L75.70,317.47 L76.70,317.68 L77.70,317.89 L78.70,318.10 L79.70,318.32 L80.70,318.53 L81.70,318.74 L82.70,318.95 L83.70,319.17 L84.70,319.38 L85.70,319.59 L86.70,319.81 L87.70,320.02 L88.70,320.24 L89.70,320.45 L90.70,320.67 L91.70,320.88 L92.70,321.09 L93.70,321.31 L94.70,321.52 L95.70,321.74 L96.70,321.95 L97.70,322.17 L98.70,322.39 L99.70,322.60 L100.70,322.82 L101.70,323.03 L102.70,323.25 L103.70,323.47 L104.70,323.68 L105.70,323.90 L106.70,324.12 L107.70,324.33 L108.70,324.55 L109.70,324.77 L110.70,324.99 L111.70,325.20 L112.70,325.42 L113.70,325.64 L114.70,325.86 L115.70,326.08 L116.70,326.29 L117.70,326.51 L118.70,326.73 L119.70,326.95 L120.70,327.17 L121.70,327.39 L122.70,327.61 L123.70,327.83 L124.70,328.05 L125.70,328.27 L126.70,328.49 L127.70,328.71 L128.70,328.93 L129.70,329.15 L130.70,329.37 L131.70,329.59 L132.70,329.81 L133.70,330.03 L134.70,330.25 L135.70,330.47 L136.70,330.69 L137.70,330.92 L138.70,331.14 L139.70,331.36 L140.70,331.58 L141.70,331.80 L142.70,332.03 L143.70,332.25 L144.70,332.47 L145.70,332.69 L146.70,332.92 L147.70,333.14 L148.70,333.36 L149.70,333.59 L150.70,333.81 L151.70,334.03 L152.70,334.26 L153.70,334.48 L154.70,334.71 L155.70,334.93 L156.70,335.15 L157.70,335.38 L158.70,335.60 L159.70,335.83 L160.70,336.05 L161.70,336.28 L162.70,336.50 L163.70,336.73 L164.70,336.96 L165.70,337.18 L166.70,337.41 L167.70,337.63 L168.70,337.86 L169.70,338.09 L170.20,338.20" fill="none" stroke="#a00c30" stroke-width="1.6"/>
<text x="182.20" y="240.00" font-size="8.4" fill="#c43a66" stroke="#c43a66" stroke-width="0.1">r</text>
<rect x="186.00" y="236.30" width="5.4" height="2.4" fill="#777"/>
<text transform="translate(193.80,240.00) scale(0.950,1)" font-size="8.60" text-anchor="start" fill="#222" font-weight="normal"  stroke="#222" stroke-width="0.20">-0.40</text>
<text transform="translate(182.20,251.90) scale(0.960,1)" font-size="8.20" text-anchor="start" fill="#222" font-weight="normal"  stroke="#222" stroke-width="0.20">p&lt;0.001</text>
<text transform="translate(20.80,338.20) rotate(-90) scale(0.6801,1)" x="-0.00" font-size="10.20" fill="#1a1a1a" stroke="#1a1a1a" stroke-width="0.30">Invasive procedures, laboratory and</text>
<text transform="translate(122.50,366.70) scale(0.7010,1)" x="-0.00" font-size="10.00" fill="#1a1a1a" stroke="#1a1a1a" stroke-width="0.35">EFS (months)</text>
<text transform="translate(32.60,332.10) rotate(-90) scale(0.6908,1)" x="-0.00" font-size="10.20" fill="#1a1a1a" stroke="#1a1a1a" stroke-width="0.30">imaging studies per EFS month</text>
<rect x="354.15" y="247.77" width="1.25" height="1.25" fill="#727272"/>
<rect x="351.86" y="264.24" width="1.25" height="1.25" fill="#727272"/>
<rect x="354.60" y="273.02" width="1.25" height="1.25" fill="#727272"/>
<rect x="355.52" y="279.34" width="1.25" height="1.25" fill="#727272"/>
<rect x="363.31" y="276.04" width="1.25" height="1.25" fill="#727272"/>
<rect x="350.94" y="287.02" width="1.25" height="1.25" fill="#727272"/>
<rect x="353.69" y="292.51" width="1.25" height="1.25" fill="#727272"/>
<rect x="356.44" y="292.51" width="1.25" height="1.25" fill="#727272"/>
<rect x="373.84" y="297.18" width="1.25" height="1.25" fill="#727272"/>
<rect x="359.18" y="302.67" width="1.25" height="1.25" fill="#727272"/>
<rect x="366.97" y="301.30" width="1.25" height="1.25" fill="#727272"/>
<rect x="387.58" y="308.16" width="1.25" height="1.25" fill="#727272"/>
<rect x="356.58" y="329.98" width="1.25" height="1.25" fill="#727272"/>
<rect x="373.46" y="334.76" width="1.25" height="1.25" fill="#727272"/>
<rect x="493.86" y="336.09" width="1.25" height="1.25" fill="#727272"/>
<rect x="396.66" y="331.93" width="1.25" height="1.25" fill="#727272"/>
<rect x="351.08" y="336.30" width="1.25" height="1.25" fill="#727272"/>
<rect x="359.96" y="336.25" width="1.25" height="1.25" fill="#727272"/>
<rect x="358.90" y="334.44" width="1.25" height="1.25" fill="#727272"/>
<rect x="364.02" y="333.94" width="1.25" height="1.25" fill="#727272"/>
<rect x="385.53" y="330.71" width="1.25" height="1.25" fill="#727272"/>
<rect x="370.70" y="307.83" width="1.25" height="1.25" fill="#727272"/>
<rect x="487.18" y="336.16" width="1.25" height="1.25" fill="#727272"/>
<rect x="427.28" y="335.67" width="1.25" height="1.25" fill="#727272"/>
<rect x="356.03" y="336.58" width="1.25" height="1.25" fill="#727272"/>
<rect x="427.69" y="334.54" width="1.25" height="1.25" fill="#727272"/>
<rect x="375.47" y="336.81" width="1.25" height="1.25" fill="#727272"/>
<rect x="427.81" y="336.05" width="1.25" height="1.25" fill="#727272"/>
<rect x="377.34" y="336.50" width="1.25" height="1.25" fill="#727272"/>
<rect x="392.30" y="331.21" width="1.25" height="1.25" fill="#727272"/>
<rect x="351.96" y="336.95" width="1.25" height="1.25" fill="#727272"/>
<rect x="357.79" y="328.74" width="1.25" height="1.25" fill="#727272"/>
<rect x="496.82" y="334.67" width="1.25" height="1.25" fill="#727272"/>
<rect x="348.54" y="319.38" width="1.25" height="1.25" fill="#727272"/>
<rect x="369.63" y="335.45" width="1.25" height="1.25" fill="#727272"/>
<rect x="351.35" y="334.80" width="1.25" height="1.25" fill="#727272"/>
<rect x="394.24" y="335.34" width="1.25" height="1.25" fill="#727272"/>
<rect x="394.43" y="330.24" width="1.25" height="1.25" fill="#727272"/>
<rect x="420.40" y="333.49" width="1.25" height="1.25" fill="#727272"/>
<rect x="461.94" y="335.64" width="1.25" height="1.25" fill="#727272"/>
<rect x="361.53" y="336.23" width="1.25" height="1.25" fill="#727272"/>
<rect x="442.08" y="336.30" width="1.25" height="1.25" fill="#727272"/>
<rect x="396.63" y="332.34" width="1.25" height="1.25" fill="#727272"/>
<rect x="351.07" y="336.48" width="1.25" height="1.25" fill="#727272"/>
<rect x="354.99" y="334.60" width="1.25" height="1.25" fill="#727272"/>
<rect x="389.68" y="332.98" width="1.25" height="1.25" fill="#727272"/>
<rect x="385.38" y="327.70" width="1.25" height="1.25" fill="#727272"/>
<rect x="396.63" y="336.61" width="1.25" height="1.25" fill="#727272"/>
<rect x="349.11" y="315.29" width="1.25" height="1.25" fill="#727272"/>
<rect x="470.95" y="336.64" width="1.25" height="1.25" fill="#727272"/>
<rect x="352.51" y="309.43" width="1.25" height="1.25" fill="#727272"/>
<rect x="377.64" y="336.18" width="1.25" height="1.25" fill="#727272"/>
<rect x="400.98" y="332.21" width="1.25" height="1.25" fill="#727272"/>
<rect x="424.53" y="336.02" width="1.25" height="1.25" fill="#727272"/>
<rect x="394.18" y="330.97" width="1.25" height="1.25" fill="#727272"/>
<rect x="374.17" y="333.51" width="1.25" height="1.25" fill="#727272"/>
<rect x="382.09" y="336.33" width="1.25" height="1.25" fill="#727272"/>
<rect x="365.61" y="334.16" width="1.25" height="1.25" fill="#727272"/>
<rect x="395.74" y="336.11" width="1.25" height="1.25" fill="#727272"/>
<rect x="395.04" y="336.63" width="1.25" height="1.25" fill="#727272"/>
<rect x="425.70" y="336.27" width="1.25" height="1.25" fill="#727272"/>
<rect x="410.71" y="336.21" width="1.25" height="1.25" fill="#727272"/>
<rect x="375.12" y="330.66" width="1.25" height="1.25" fill="#727272"/>
<rect x="494.41" y="336.41" width="1.25" height="1.25" fill="#727272"/>
<rect x="390.44" y="336.37" width="1.25" height="1.25" fill="#727272"/>
<rect x="397.42" y="336.44" width="1.25" height="1.25" fill="#727272"/>
<rect x="487.29" y="336.84" width="1.25" height="1.25" fill="#727272"/>
<rect x="350.76" y="336.65" width="1.25" height="1.25" fill="#727272"/>
<rect x="401.20" y="335.43" width="1.25" height="1.25" fill="#727272"/>
<rect x="390.98" y="331.15" width="1.25" height="1.25" fill="#727272"/>
<rect x="396.78" y="307.76" width="1.25" height="1.25" fill="#727272"/>
<rect x="424.82" y="336.39" width="1.25" height="1.25" fill="#727272"/>
<rect x="486.85" y="336.69" width="1.25" height="1.25" fill="#727272"/>
<rect x="386.62" y="334.98" width="1.25" height="1.25" fill="#727272"/>
<rect x="350.42" y="329.80" width="1.25" height="1.25" fill="#727272"/>
<rect x="478.09" y="333.21" width="1.25" height="1.25" fill="#727272"/>
<rect x="400.34" y="336.13" width="1.25" height="1.25" fill="#727272"/>
<rect x="369.80" y="336.60" width="1.25" height="1.25" fill="#727272"/>
<rect x="399.43" y="327.38" width="1.25" height="1.25" fill="#727272"/>
<rect x="349.57" y="336.25" width="1.25" height="1.25" fill="#727272"/>
<rect x="413.21" y="336.61" width="1.25" height="1.25" fill="#727272"/>
<rect x="359.97" y="335.18" width="1.25" height="1.25" fill="#727272"/>
<rect x="353.02" y="336.17" width="1.25" height="1.25" fill="#727272"/>
<rect x="352.85" y="330.11" width="1.25" height="1.25" fill="#727272"/>
<rect x="376.86" y="323.77" width="1.25" height="1.25" fill="#727272"/>
<rect x="372.90" y="336.87" width="1.25" height="1.25" fill="#727272"/>
<rect x="369.70" y="332.91" width="1.25" height="1.25" fill="#727272"/>
<rect x="457.90" y="334.27" width="1.25" height="1.25" fill="#727272"/>
<rect x="360.40" y="332.74" width="1.25" height="1.25" fill="#727272"/>
<rect x="381.19" y="336.49" width="1.25" height="1.25" fill="#727272"/>
<rect x="393.72" y="336.68" width="1.25" height="1.25" fill="#727272"/>
<rect x="358.75" y="325.92" width="1.25" height="1.25" fill="#727272"/>
<rect x="365.48" y="327.17" width="1.25" height="1.25" fill="#727272"/>
<rect x="424.31" y="336.13" width="1.25" height="1.25" fill="#727272"/>
<rect x="390.33" y="302.67" width="1.25" height="1.25" fill="#727272"/>
<rect x="355.03" y="302.02" width="1.25" height="1.25" fill="#727272"/>
<rect x="473.98" y="335.42" width="1.25" height="1.25" fill="#727272"/>
<rect x="379.02" y="330.99" width="1.25" height="1.25" fill="#727272"/>
<rect x="378.08" y="335.95" width="1.25" height="1.25" fill="#727272"/>
<rect x="378.33" y="336.63" width="1.25" height="1.25" fill="#727272"/>
<rect x="396.08" y="333.41" width="1.25" height="1.25" fill="#727272"/>
<rect x="361.09" y="326.91" width="1.25" height="1.25" fill="#727272"/>
<rect x="355.47" y="330.45" width="1.25" height="1.25" fill="#727272"/>
<rect x="359.55" y="329.68" width="1.25" height="1.25" fill="#727272"/>
<rect x="452.74" y="336.37" width="1.25" height="1.25" fill="#727272"/>
<rect x="366.09" y="307.13" width="1.25" height="1.25" fill="#727272"/>
<rect x="378.97" y="336.78" width="1.25" height="1.25" fill="#727272"/>
<rect x="355.67" y="325.09" width="1.25" height="1.25" fill="#727272"/>
<rect x="383.78" y="335.33" width="1.25" height="1.25" fill="#727272"/>
<rect x="359.27" y="320.31" width="1.25" height="1.25" fill="#727272"/>
<rect x="375.40" y="336.05" width="1.25" height="1.25" fill="#727272"/>
<rect x="362.51" y="330.85" width="1.25" height="1.25" fill="#727272"/>
<rect x="353.12" y="332.83" width="1.25" height="1.25" fill="#727272"/>
<rect x="383.05" y="326.00" width="1.25" height="1.25" fill="#727272"/>
<rect x="489.63" y="336.38" width="1.25" height="1.25" fill="#727272"/>
<rect x="374.78" y="336.12" width="1.25" height="1.25" fill="#727272"/>
<rect x="380.37" y="336.13" width="1.25" height="1.25" fill="#727272"/>
<rect x="348.20" y="336.25" width="1.25" height="1.25" fill="#727272"/>
<rect x="412.98" y="334.80" width="1.25" height="1.25" fill="#727272"/>
<rect x="381.84" y="332.86" width="1.25" height="1.25" fill="#727272"/>
<rect x="367.76" y="336.18" width="1.25" height="1.25" fill="#727272"/>
<rect x="388.14" y="336.16" width="1.25" height="1.25" fill="#727272"/>
<rect x="352.34" y="331.99" width="1.25" height="1.25" fill="#727272"/>
<rect x="363.66" y="336.16" width="1.25" height="1.25" fill="#727272"/>
<rect x="372.85" y="330.54" width="1.25" height="1.25" fill="#727272"/>
<rect x="371.04" y="331.42" width="1.25" height="1.25" fill="#727272"/>
<rect x="486.97" y="336.97" width="1.25" height="1.25" fill="#727272"/>
<rect x="446.98" y="336.58" width="1.25" height="1.25" fill="#727272"/>
<rect x="352.32" y="332.64" width="1.25" height="1.25" fill="#727272"/>
<rect x="387.89" y="335.97" width="1.25" height="1.25" fill="#727272"/>
<rect x="414.16" y="336.83" width="1.25" height="1.25" fill="#727272"/>
<rect x="439.70" y="334.90" width="1.25" height="1.25" fill="#727272"/>
<rect x="478.30" y="336.39" width="1.25" height="1.25" fill="#727272"/>
<rect x="415.00" y="333.31" width="1.25" height="1.25" fill="#727272"/>
<rect x="370.70" y="316.65" width="1.25" height="1.25" fill="#727272"/>
<rect x="350.13" y="336.40" width="1.25" height="1.25" fill="#727272"/>
<rect x="349.78" y="323.29" width="1.25" height="1.25" fill="#727272"/>
<rect x="355.95" y="331.17" width="1.25" height="1.25" fill="#727272"/>
<rect x="395.38" y="335.92" width="1.25" height="1.25" fill="#727272"/>
<rect x="468.38" y="332.20" width="1.25" height="1.25" fill="#727272"/>
<rect x="418.75" y="335.93" width="1.25" height="1.25" fill="#727272"/>
<rect x="360.12" y="336.23" width="1.25" height="1.25" fill="#727272"/>
<rect x="366.07" y="314.30" width="1.25" height="1.25" fill="#727272"/>
<rect x="379.80" y="333.75" width="1.25" height="1.25" fill="#727272"/>
<rect x="349.50" y="305.86" width="1.25" height="1.25" fill="#727272"/>
<rect x="395.92" y="332.17" width="1.25" height="1.25" fill="#727272"/>
<rect x="418.94" y="335.97" width="1.25" height="1.25" fill="#727272"/>
<rect x="390.80" y="336.95" width="1.25" height="1.25" fill="#727272"/>
<rect x="436.02" y="335.89" width="1.25" height="1.25" fill="#727272"/>
<rect x="402.11" y="334.37" width="1.25" height="1.25" fill="#727272"/>
<rect x="368.89" y="330.41" width="1.25" height="1.25" fill="#727272"/>
<rect x="396.67" y="335.93" width="1.25" height="1.25" fill="#727272"/>
<rect x="398.29" y="333.93" width="1.25" height="1.25" fill="#727272"/>
<rect x="369.34" y="329.87" width="1.25" height="1.25" fill="#727272"/>
<rect x="406.49" y="336.48" width="1.25" height="1.25" fill="#727272"/>
<rect x="393.21" y="334.82" width="1.25" height="1.25" fill="#727272"/>
<rect x="371.58" y="336.62" width="1.25" height="1.25" fill="#727272"/>
<rect x="378.09" y="335.97" width="1.25" height="1.25" fill="#727272"/>
<rect x="387.04" y="332.82" width="1.25" height="1.25" fill="#727272"/>
<rect x="417.07" y="335.99" width="1.25" height="1.25" fill="#727272"/>
<rect x="409.35" y="330.87" width="1.25" height="1.25" fill="#727272"/>
<rect x="349.95" y="336.14" width="1.25" height="1.25" fill="#727272"/>
<rect x="425.30" y="336.71" width="1.25" height="1.25" fill="#727272"/>
<rect x="383.56" y="335.07" width="1.25" height="1.25" fill="#727272"/>
<rect x="401.47" y="335.77" width="1.25" height="1.25" fill="#727272"/>
<rect x="377.22" y="328.91" width="1.25" height="1.25" fill="#727272"/>
<rect x="367.58" y="336.19" width="1.25" height="1.25" fill="#727272"/>
<rect x="383.65" y="332.63" width="1.25" height="1.25" fill="#727272"/>
<rect x="407.22" y="333.87" width="1.25" height="1.25" fill="#727272"/>
<rect x="393.30" y="333.36" width="1.25" height="1.25" fill="#727272"/>
<rect x="379.74" y="327.23" width="1.25" height="1.25" fill="#727272"/>
<rect x="362.43" y="318.23" width="1.25" height="1.25" fill="#727272"/>
<rect x="462.83" y="336.91" width="1.25" height="1.25" fill="#727272"/>
<rect x="426.38" y="332.57" width="1.25" height="1.25" fill="#727272"/>
<rect x="394.58" y="327.54" width="1.25" height="1.25" fill="#727272"/>
<rect x="394.45" y="329.85" width="1.25" height="1.25" fill="#727272"/>
<rect x="353.84" y="331.34" width="1.25" height="1.25" fill="#727272"/>
<rect x="423.13" y="335.94" width="1.25" height="1.25" fill="#727272"/>
<rect x="472.24" y="336.53" width="1.25" height="1.25" fill="#727272"/>
<rect x="375.66" y="336.84" width="1.25" height="1.25" fill="#727272"/>
<rect x="374.49" y="323.71" width="1.25" height="1.25" fill="#727272"/>
<rect x="449.71" y="335.89" width="1.25" height="1.25" fill="#727272"/>
<rect x="355.42" y="325.20" width="1.25" height="1.25" fill="#727272"/>
<rect x="353.67" y="321.61" width="1.25" height="1.25" fill="#727272"/>
<rect x="414.15" y="333.81" width="1.25" height="1.25" fill="#727272"/>
<rect x="372.72" y="336.25" width="1.25" height="1.25" fill="#727272"/>
<rect x="376.91" y="336.83" width="1.25" height="1.25" fill="#727272"/>
<rect x="478.18" y="336.37" width="1.25" height="1.25" fill="#727272"/>
<rect x="359.43" y="330.02" width="1.25" height="1.25" fill="#727272"/>
<rect x="355.33" y="336.69" width="1.25" height="1.25" fill="#727272"/>
<rect x="357.26" y="336.71" width="1.25" height="1.25" fill="#727272"/>
<rect x="353.90" y="324.26" width="1.25" height="1.25" fill="#727272"/>
<rect x="440.66" y="336.80" width="1.25" height="1.25" fill="#727272"/>
<rect x="361.75" y="335.23" width="1.25" height="1.25" fill="#727272"/>
<rect x="396.15" y="334.18" width="1.25" height="1.25" fill="#727272"/>
<rect x="487.73" y="336.26" width="1.25" height="1.25" fill="#727272"/>
<rect x="374.20" y="336.76" width="1.25" height="1.25" fill="#727272"/>
<rect x="420.30" y="334.31" width="1.25" height="1.25" fill="#727272"/>
<rect x="349.62" y="301.72" width="1.25" height="1.25" fill="#727272"/>
<rect x="378.66" y="330.11" width="1.25" height="1.25" fill="#727272"/>
<rect x="358.57" y="332.62" width="1.25" height="1.25" fill="#727272"/>
<rect x="403.12" y="336.42" width="1.25" height="1.25" fill="#727272"/>
<rect x="387.99" y="333.23" width="1.25" height="1.25" fill="#727272"/>
<rect x="391.32" y="336.63" width="1.25" height="1.25" fill="#727272"/>
<rect x="361.08" y="336.66" width="1.25" height="1.25" fill="#727272"/>
<rect x="400.71" y="333.09" width="1.25" height="1.25" fill="#727272"/>
<rect x="353.46" y="336.80" width="1.25" height="1.25" fill="#727272"/>
<rect x="377.03" y="335.01" width="1.25" height="1.25" fill="#727272"/>
<rect x="390.33" y="336.62" width="1.25" height="1.25" fill="#727272"/>
<rect x="492.42" y="336.77" width="1.25" height="1.25" fill="#727272"/>
<rect x="372.87" y="336.02" width="1.25" height="1.25" fill="#727272"/>
<rect x="381.94" y="336.21" width="1.25" height="1.25" fill="#727272"/>
<rect x="429.02" y="336.82" width="1.25" height="1.25" fill="#727272"/>
<rect x="410.35" y="336.81" width="1.25" height="1.25" fill="#727272"/>
<rect x="426.49" y="336.63" width="1.25" height="1.25" fill="#727272"/>
<rect x="392.98" y="334.57" width="1.25" height="1.25" fill="#727272"/>
<rect x="392.30" y="335.46" width="1.25" height="1.25" fill="#727272"/>
<rect x="361.40" y="336.89" width="1.25" height="1.25" fill="#727272"/>
<rect x="348.84" y="329.46" width="1.25" height="1.25" fill="#727272"/>
<rect x="381.98" y="333.94" width="1.25" height="1.25" fill="#727272"/>
<rect x="442.28" y="335.64" width="1.25" height="1.25" fill="#727272"/>
<rect x="386.88" y="332.42" width="1.25" height="1.25" fill="#727272"/>
<rect x="350.71" y="326.82" width="1.25" height="1.25" fill="#727272"/>
<rect x="416.07" y="334.77" width="1.25" height="1.25" fill="#727272"/>
<rect x="395.48" y="335.70" width="1.25" height="1.25" fill="#727272"/>
<rect x="388.14" y="331.89" width="1.25" height="1.25" fill="#727272"/>
<rect x="462.28" y="336.44" width="1.25" height="1.25" fill="#727272"/>
<rect x="431.92" y="335.99" width="1.25" height="1.25" fill="#727272"/>
<rect x="427.88" y="336.61" width="1.25" height="1.25" fill="#727272"/>
<rect x="410.40" y="334.89" width="1.25" height="1.25" fill="#727272"/>
<rect x="357.59" y="336.69" width="1.25" height="1.25" fill="#727272"/>
<rect x="393.82" y="334.25" width="1.25" height="1.25" fill="#727272"/>
<rect x="374.57" y="335.77" width="1.25" height="1.25" fill="#727272"/>
<rect x="486.34" y="336.84" width="1.25" height="1.25" fill="#727272"/>
<rect x="378.23" y="296.20" width="1.25" height="1.25" fill="#727272"/>
<rect x="404.86" y="336.95" width="1.25" height="1.25" fill="#727272"/>
<rect x="356.90" y="336.24" width="1.25" height="1.25" fill="#727272"/>
<rect x="374.29" y="333.92" width="1.25" height="1.25" fill="#727272"/>
<rect x="373.85" y="336.47" width="1.25" height="1.25" fill="#727272"/>
<rect x="392.25" y="336.10" width="1.25" height="1.25" fill="#727272"/>
<rect x="414.63" y="336.68" width="1.25" height="1.25" fill="#727272"/>
<rect x="400.82" y="336.59" width="1.25" height="1.25" fill="#727272"/>
<rect x="368.28" y="334.90" width="1.25" height="1.25" fill="#727272"/>
<rect x="370.32" y="302.41" width="1.25" height="1.25" fill="#727272"/>
<rect x="366.70" y="332.15" width="1.25" height="1.25" fill="#727272"/>
<rect x="457.31" y="336.89" width="1.25" height="1.25" fill="#727272"/>
<rect x="372.81" y="335.94" width="1.25" height="1.25" fill="#727272"/>
<rect x="354.14" y="333.47" width="1.25" height="1.25" fill="#727272"/>
<rect x="426.82" y="336.52" width="1.25" height="1.25" fill="#727272"/>
<rect x="456.93" y="335.47" width="1.25" height="1.25" fill="#727272"/>
<rect x="394.18" y="336.22" width="1.25" height="1.25" fill="#727272"/>
<rect x="367.18" y="308.80" width="1.25" height="1.25" fill="#727272"/>
<rect x="425.85" y="331.50" width="1.25" height="1.25" fill="#727272"/>
<rect x="364.37" y="332.93" width="1.25" height="1.25" fill="#727272"/>
<rect x="377.79" y="329.86" width="1.25" height="1.25" fill="#727272"/>
<rect x="416.42" y="335.65" width="1.25" height="1.25" fill="#727272"/>
<rect x="355.44" y="336.53" width="1.25" height="1.25" fill="#727272"/>
<rect x="364.77" y="336.20" width="1.25" height="1.25" fill="#727272"/>
<rect x="361.51" y="325.64" width="1.25" height="1.25" fill="#727272"/>
<rect x="358.07" y="331.59" width="1.25" height="1.25" fill="#727272"/>
<rect x="352.10" y="319.09" width="1.25" height="1.25" fill="#727272"/>
<rect x="349.97" y="336.50" width="1.25" height="1.25" fill="#727272"/>
<rect x="453.63" y="335.71" width="1.25" height="1.25" fill="#727272"/>
<rect x="359.74" y="336.11" width="1.25" height="1.25" fill="#727272"/>
<rect x="358.53" y="325.27" width="1.25" height="1.25" fill="#727272"/>
<rect x="410.31" y="336.31" width="1.25" height="1.25" fill="#727272"/>
<rect x="414.05" y="335.12" width="1.25" height="1.25" fill="#727272"/>
<rect x="370.65" y="336.13" width="1.25" height="1.25" fill="#727272"/>
<rect x="454.45" y="336.29" width="1.25" height="1.25" fill="#727272"/>
<rect x="422.03" y="335.89" width="1.25" height="1.25" fill="#727272"/>
<rect x="378.68" y="329.57" width="1.25" height="1.25" fill="#727272"/>
<rect x="366.77" y="336.46" width="1.25" height="1.25" fill="#727272"/>
<rect x="430.81" y="335.87" width="1.25" height="1.25" fill="#727272"/>
<rect x="348.80" y="304.87" width="1.25" height="1.25" fill="#727272"/>
<rect x="392.13" y="332.64" width="1.25" height="1.25" fill="#727272"/>
<rect x="473.13" y="335.95" width="1.25" height="1.25" fill="#727272"/>
<rect x="353.48" y="330.00" width="1.25" height="1.25" fill="#727272"/>
<rect x="361.53" y="336.12" width="1.25" height="1.25" fill="#727272"/>
<rect x="378.18" y="332.10" width="1.25" height="1.25" fill="#727272"/>
<rect x="492.24" y="336.06" width="1.25" height="1.25" fill="#727272"/>
<rect x="359.29" y="332.26" width="1.25" height="1.25" fill="#727272"/>
<rect x="394.20" y="328.92" width="1.25" height="1.25" fill="#727272"/>
<rect x="396.04" y="333.33" width="1.25" height="1.25" fill="#727272"/>
<rect x="412.04" y="336.18" width="1.25" height="1.25" fill="#727272"/>
<rect x="425.75" y="336.97" width="1.25" height="1.25" fill="#727272"/>
<rect x="361.86" y="328.25" width="1.25" height="1.25" fill="#727272"/>
<rect x="348.22" y="334.43" width="1.25" height="1.25" fill="#727272"/>
<rect x="432.90" y="333.00" width="1.25" height="1.25" fill="#727272"/>
<rect x="438.64" y="335.15" width="1.25" height="1.25" fill="#727272"/>
<rect x="366.61" y="322.12" width="1.25" height="1.25" fill="#727272"/>
<rect x="356.37" y="335.30" width="1.25" height="1.25" fill="#727272"/>
<rect x="388.55" y="333.84" width="1.25" height="1.25" fill="#727272"/>
<rect x="487.77" y="336.52" width="1.25" height="1.25" fill="#727272"/>
<rect x="367.79" y="336.84" width="1.25" height="1.25" fill="#727272"/>
<rect x="360.25" y="332.05" width="1.25" height="1.25" fill="#727272"/>
<rect x="361.81" y="328.30" width="1.25" height="1.25" fill="#727272"/>
<rect x="369.44" y="316.71" width="1.25" height="1.25" fill="#727272"/>
<rect x="370.20" y="336.42" width="1.25" height="1.25" fill="#727272"/>
<rect x="357.10" y="313.43" width="1.25" height="1.25" fill="#727272"/>
<rect x="389.86" y="335.06" width="1.25" height="1.25" fill="#727272"/>
<rect x="361.26" y="336.86" width="1.25" height="1.25" fill="#727272"/>
<rect x="350.35" y="336.44" width="1.25" height="1.25" fill="#727272"/>
<rect x="354.49" y="336.98" width="1.25" height="1.25" fill="#727272"/>
<rect x="353.54" y="331.69" width="1.25" height="1.25" fill="#727272"/>
<rect x="360.36" y="322.50" width="1.25" height="1.25" fill="#727272"/>
<rect x="363.04" y="325.47" width="1.25" height="1.25" fill="#727272"/>
<rect x="465.51" y="330.24" width="1.25" height="1.25" fill="#727272"/>
<rect x="358.39" y="333.79" width="1.25" height="1.25" fill="#727272"/>
<rect x="365.20" y="334.40" width="1.25" height="1.25" fill="#727272"/>
<rect x="399.52" y="332.36" width="1.25" height="1.25" fill="#727272"/>
<rect x="361.70" y="321.14" width="1.25" height="1.25" fill="#727272"/>
<rect x="373.02" y="332.97" width="1.25" height="1.25" fill="#727272"/>
<rect x="390.22" y="336.83" width="1.25" height="1.25" fill="#727272"/>
<rect x="358.70" y="332.71" width="1.25" height="1.25" fill="#727272"/>
<rect x="404.43" y="333.07" width="1.25" height="1.25" fill="#727272"/>
<rect x="353.97" y="320.42" width="1.25" height="1.25" fill="#727272"/>
<rect x="371.70" y="332.39" width="1.25" height="1.25" fill="#727272"/>
<rect x="358.10" y="336.13" width="1.25" height="1.25" fill="#727272"/>
<rect x="356.93" y="335.94" width="1.25" height="1.25" fill="#727272"/>
<rect x="382.00" y="332.69" width="1.25" height="1.25" fill="#727272"/>
<rect x="467.92" y="336.72" width="1.25" height="1.25" fill="#727272"/>
<rect x="447.26" y="336.75" width="1.25" height="1.25" fill="#727272"/>
<rect x="389.73" y="336.20" width="1.25" height="1.25" fill="#727272"/>
<rect x="387.34" y="333.83" width="1.25" height="1.25" fill="#727272"/>
<rect x="421.26" y="331.58" width="1.25" height="1.25" fill="#727272"/>
<rect x="379.75" y="333.75" width="1.25" height="1.25" fill="#727272"/>
<rect x="380.20" y="336.79" width="1.25" height="1.25" fill="#727272"/>
<rect x="380.71" y="333.86" width="1.25" height="1.25" fill="#727272"/>
<rect x="364.19" y="336.59" width="1.25" height="1.25" fill="#727272"/>
<rect x="380.49" y="330.56" width="1.25" height="1.25" fill="#727272"/>
<rect x="351.59" y="332.52" width="1.25" height="1.25" fill="#727272"/>
<rect x="470.29" y="334.89" width="1.25" height="1.25" fill="#727272"/>
<rect x="391.23" y="336.94" width="1.25" height="1.25" fill="#727272"/>
<rect x="470.71" y="336.16" width="1.25" height="1.25" fill="#727272"/>
<rect x="373.77" y="333.75" width="1.25" height="1.25" fill="#727272"/>
<rect x="450.75" y="334.51" width="1.25" height="1.25" fill="#727272"/>
<rect x="446.87" y="333.46" width="1.25" height="1.25" fill="#727272"/>
<rect x="425.80" y="336.00" width="1.25" height="1.25" fill="#727272"/>
<rect x="379.80" y="329.63" width="1.25" height="1.25" fill="#727272"/>
<rect x="369.51" y="326.64" width="1.25" height="1.25" fill="#727272"/>
<rect x="428.37" y="336.45" width="1.25" height="1.25" fill="#727272"/>
<rect x="373.13" y="330.42" width="1.25" height="1.25" fill="#727272"/>
<rect x="419.07" y="329.73" width="1.25" height="1.25" fill="#727272"/>
<rect x="350.91" y="336.83" width="1.25" height="1.25" fill="#727272"/>
<rect x="379.43" y="333.69" width="1.25" height="1.25" fill="#727272"/>
<rect x="357.05" y="336.06" width="1.25" height="1.25" fill="#727272"/>
<rect x="496.53" y="336.55" width="1.25" height="1.25" fill="#727272"/>
<rect x="388.53" y="329.00" width="1.25" height="1.25" fill="#727272"/>
<rect x="462.29" y="336.48" width="1.25" height="1.25" fill="#727272"/>
<rect x="370.64" y="335.90" width="1.25" height="1.25" fill="#727272"/>
<rect x="349.76" y="313.35" width="1.25" height="1.25" fill="#727272"/>
<rect x="371.84" y="331.05" width="1.25" height="1.25" fill="#727272"/>
<rect x="354.60" y="325.20" width="1.25" height="1.25" fill="#727272"/>
<rect x="365.78" y="332.64" width="1.25" height="1.25" fill="#727272"/>
<rect x="375.18" y="332.26" width="1.25" height="1.25" fill="#727272"/>
<rect x="368.08" y="336.69" width="1.25" height="1.25" fill="#727272"/>
<rect x="395.74" y="326.07" width="1.25" height="1.25" fill="#727272"/>
<rect x="433.22" y="331.32" width="1.25" height="1.25" fill="#727272"/>
<rect x="350.33" y="334.39" width="1.25" height="1.25" fill="#727272"/>
<rect x="364.23" y="336.69" width="1.25" height="1.25" fill="#727272"/>
<rect x="425.79" y="336.47" width="1.25" height="1.25" fill="#727272"/>
<rect x="364.87" y="335.01" width="1.25" height="1.25" fill="#727272"/>
<rect x="371.82" y="335.03" width="1.25" height="1.25" fill="#727272"/>
<rect x="352.33" y="333.02" width="1.25" height="1.25" fill="#727272"/>
<rect x="448.68" y="335.87" width="1.25" height="1.25" fill="#727272"/>
<rect x="412.66" y="327.79" width="1.25" height="1.25" fill="#727272"/>
<rect x="353.49" y="328.87" width="1.25" height="1.25" fill="#727272"/>
<rect x="415.34" y="336.32" width="1.25" height="1.25" fill="#727272"/>
<rect x="419.81" y="336.70" width="1.25" height="1.25" fill="#727272"/>
<rect x="371.84" y="334.65" width="1.25" height="1.25" fill="#727272"/>
<rect x="363.06" y="329.89" width="1.25" height="1.25" fill="#727272"/>
<rect x="358.61" y="336.04" width="1.25" height="1.25" fill="#727272"/>
<rect x="378.83" y="329.17" width="1.25" height="1.25" fill="#727272"/>
<rect x="418.19" y="336.74" width="1.25" height="1.25" fill="#727272"/>
<rect x="358.74" y="320.02" width="1.25" height="1.25" fill="#727272"/>
<rect x="492.27" y="336.48" width="1.25" height="1.25" fill="#727272"/>
<rect x="380.32" y="336.59" width="1.25" height="1.25" fill="#727272"/>
<rect x="356.59" y="329.32" width="1.25" height="1.25" fill="#727272"/>
<rect x="438.98" y="336.21" width="1.25" height="1.25" fill="#727272"/>
<rect x="380.72" y="336.48" width="1.25" height="1.25" fill="#727272"/>
<rect x="398.36" y="335.99" width="1.25" height="1.25" fill="#727272"/>
<rect x="387.33" y="327.19" width="1.25" height="1.25" fill="#727272"/>
<rect x="413.72" y="336.14" width="1.25" height="1.25" fill="#727272"/>
<rect x="392.43" y="331.98" width="1.25" height="1.25" fill="#727272"/>
<rect x="384.48" y="332.69" width="1.25" height="1.25" fill="#727272"/>
<rect x="351.19" y="336.82" width="1.25" height="1.25" fill="#727272"/>
<rect x="385.73" y="321.28" width="1.25" height="1.25" fill="#727272"/>
<rect x="357.14" y="333.69" width="1.25" height="1.25" fill="#727272"/>
<rect x="387.25" y="335.90" width="1.25" height="1.25" fill="#727272"/>
<rect x="380.47" y="336.25" width="1.25" height="1.25" fill="#727272"/>
<rect x="406.84" y="334.70" width="1.25" height="1.25" fill="#727272"/>
<rect x="359.04" y="336.68" width="1.25" height="1.25" fill="#727272"/>
<line x1="342.40" y1="225.30" x2="342.40" y2="338.30" stroke="#1a1a1a" stroke-width="1.4"/>
<line x1="341.70" y1="337.60" x2="510.28" y2="337.60" stroke="#1a1a1a" stroke-width="1.4"/>
<line x1="339.40" y1="227.80" x2="342.40" y2="227.80" stroke="#1a1a1a" stroke-width="1.1"/>
<text transform="translate(335.60,230.80) scale(1.080,1)" font-size="8.30" text-anchor="end" fill="#222" font-weight="normal"  stroke="#222" stroke-width="0.20">400</text>
<line x1="339.40" y1="255.30" x2="342.40" y2="255.30" stroke="#1a1a1a" stroke-width="1.1"/>
<text transform="translate(335.60,258.30) scale(1.080,1)" font-size="8.30" text-anchor="end" fill="#222" font-weight="normal"  stroke="#222" stroke-width="0.20">300</text>
<line x1="339.40" y1="282.70" x2="342.40" y2="282.70" stroke="#1a1a1a" stroke-width="1.1"/>
<text transform="translate(335.60,285.70) scale(1.080,1)" font-size="8.30" text-anchor="end" fill="#222" font-weight="normal"  stroke="#222" stroke-width="0.20">200</text>
<line x1="339.40" y1="310.20" x2="342.40" y2="310.20" stroke="#1a1a1a" stroke-width="1.1"/>
<text transform="translate(335.60,313.20) scale(1.080,1)" font-size="8.30" text-anchor="end" fill="#222" font-weight="normal"  stroke="#222" stroke-width="0.20">100</text>
<line x1="339.40" y1="337.60" x2="342.40" y2="337.60" stroke="#1a1a1a" stroke-width="1.1"/>
<text transform="translate(335.60,340.60) scale(1.080,1)" font-size="8.30" text-anchor="end" fill="#222" font-weight="normal"  stroke="#222" stroke-width="0.20">0</text>
<line x1="342.40" y1="337.60" x2="342.40" y2="340.60" stroke="#1a1a1a" stroke-width="1.1"/>
<text transform="translate(342.40,352.20) scale(1.080,1)" font-size="8.30" text-anchor="middle" fill="#222" font-weight="normal"  stroke="#222" stroke-width="0.20">0</text>
<line x1="369.88" y1="337.60" x2="369.88" y2="340.60" stroke="#1a1a1a" stroke-width="1.1"/>
<text transform="translate(369.88,352.20) scale(1.080,1)" font-size="8.30" text-anchor="middle" fill="#222" font-weight="normal"  stroke="#222" stroke-width="0.20">6</text>
<line x1="397.36" y1="337.60" x2="397.36" y2="340.60" stroke="#1a1a1a" stroke-width="1.1"/>
<text transform="translate(397.36,352.20) scale(1.080,1)" font-size="8.30" text-anchor="middle" fill="#222" font-weight="normal"  stroke="#222" stroke-width="0.20">12</text>
<line x1="424.84" y1="337.60" x2="424.84" y2="340.60" stroke="#1a1a1a" stroke-width="1.1"/>
<text transform="translate(424.84,352.20) scale(1.080,1)" font-size="8.30" text-anchor="middle" fill="#222" font-weight="normal"  stroke="#222" stroke-width="0.20">18</text>
<line x1="452.32" y1="337.60" x2="452.32" y2="340.60" stroke="#1a1a1a" stroke-width="1.1"/>
<text transform="translate(452.32,352.20) scale(1.080,1)" font-size="8.30" text-anchor="middle" fill="#222" font-weight="normal"  stroke="#222" stroke-width="0.20">24</text>
<line x1="479.80" y1="337.60" x2="479.80" y2="340.60" stroke="#1a1a1a" stroke-width="1.1"/>
<text transform="translate(479.80,352.20) scale(1.080,1)" font-size="8.30" text-anchor="middle" fill="#222" font-weight="normal"  stroke="#222" stroke-width="0.20">30</text>
<line x1="507.28" y1="337.60" x2="507.28" y2="340.60" stroke="#1a1a1a" stroke-width="1.1"/>
<text transform="translate(507.28,352.20) scale(1.080,1)" font-size="8.30" text-anchor="middle" fill="#222" font-weight="normal"  stroke="#222" stroke-width="0.20">36</text>
<line x1="349" y1="336.9" x2="509" y2="336.9" stroke="#666" stroke-width="1.0"/>
<path d="M348.10,318.80 L349.10,319.31 L350.10,319.81 L351.10,320.30 L352.10,320.79 L353.10,321.26 L354.10,321.73 L355.10,322.20 L356.10,322.65 L357.10,323.10 L358.10,323.54 L359.10,323.97 L360.10,324.39 L361.10,324.81 L362.10,325.21 L363.10,325.61 L364.10,326.00 L365.10,326.39 L366.10,326.76 L367.10,327.13 L368.10,327.48 L369.10,327.83 L370.10,328.17 L371.10,328.50 L372.10,328.83 L373.10,329.14 L374.10,329.45 L375.10,329.74 L376.10,330.03 L377.10,330.31 L378.10,330.58 L379.10,330.85 L380.10,331.10 L381.10,331.35 L382.10,331.58 L383.10,331.81 L384.10,332.03 L385.10,332.25 L386.10,332.45 L387.10,332.65 L388.10,332.83 L389.10,333.01 L390.10,333.18 L391.10,333.35 L392.10,333.50 L393.10,333.65 L394.10,333.79 L395.10,333.92 L396.10,334.04 L397.10,334.16 L398.10,334.27 L399.10,334.37 L400.10,334.46 L401.10,334.55 L402.10,334.63 L403.10,334.70 L404.10,334.77 L405.10,334.83 L406.10,334.88 L407.10,334.93 L408.10,334.97 L409.10,335.00 L410.10,335.03 L411.10,335.05 L412.10,335.07 L413.10,335.08 L414.10,335.09 L415.10,335.09 L416.10,335.09 L417.10,335.08 L418.10,335.06 L419.10,335.05 L420.10,335.03 L421.10,335.00 L422.10,334.97 L423.10,334.94 L424.10,334.90 L425.10,334.86 L426.10,334.82 L427.10,334.78 L428.10,334.73 L429.10,334.68 L430.10,334.63 L431.10,334.58 L432.10,334.52 L433.10,334.47 L434.10,334.41 L435.10,334.35 L436.10,334.30 L437.10,334.24 L438.10,334.18 L439.10,334.13 L440.10,334.07 L441.10,334.01 L442.10,333.96 L443.10,333.91 L444.10,333.86 L445.10,333.81 L446.10,333.77 L447.10,333.73 L448.10,333.69 L449.10,333.65 L450.10,333.62 L451.10,333.59 L452.10,333.57 L453.10,333.55 L454.10,333.54 L455.10,333.54 L456.10,333.54 L457.10,333.54 L458.10,333.55 L459.10,333.57 L460.10,333.60 L461.10,333.64 L462.10,333.68 L463.10,333.73 L464.10,333.79 L465.10,333.87 L466.10,333.95 L467.10,334.04 L468.10,334.14 L469.10,334.25 L470.10,334.38 L471.10,334.51 L472.10,334.66 L473.10,334.82 L474.10,335.00 L475.10,335.19 L476.10,335.39 L477.10,335.61 L478.10,335.84 L479.10,336.09 L480.10,336.36 L481.10,336.64 L482.10,336.94 L483.10,337.25 L484.10,337.59 L485.00,337.90" fill="none" stroke="#2c4c8e" stroke-width="1.2"/>
<path d="M348.10,324.62 L349.10,324.76 L350.10,324.90 L351.10,325.04 L352.10,325.18 L353.10,325.32 L354.10,325.46 L355.10,325.60 L356.10,325.74 L357.10,325.88 L358.10,326.02 L359.10,326.16 L360.10,326.30 L361.10,326.44 L362.10,326.58 L363.10,326.71 L364.10,326.85 L365.10,326.99 L366.10,327.13 L367.10,327.26 L368.10,327.40 L369.10,327.54 L370.10,327.68 L371.10,327.81 L372.10,327.95 L373.10,328.09 L374.10,328.22 L375.10,328.36 L376.10,328.49 L377.10,328.63 L378.10,328.76 L379.10,328.90 L380.10,329.03 L381.10,329.17 L382.10,329.30 L383.10,329.44 L384.10,329.57 L385.10,329.70 L386.10,329.84 L387.10,329.97 L388.10,330.10 L389.10,330.24 L390.10,330.37 L391.10,330.50 L392.10,330.63 L393.10,330.77 L394.10,330.90 L395.10,331.03 L396.10,331.16 L397.10,331.29 L398.10,331.42 L399.10,331.56 L400.10,331.69 L401.10,331.82 L402.10,331.95 L403.10,332.08 L404.10,332.21 L405.10,332.34 L406.10,332.47 L407.10,332.59 L408.10,332.72 L409.10,332.85 L410.10,332.98 L411.10,333.11 L412.10,333.24 L413.10,333.37 L414.10,333.49 L415.10,333.62 L416.10,333.75 L417.10,333.88 L418.10,334.00 L419.10,334.13 L420.10,334.26 L421.10,334.38 L422.10,334.51 L423.10,334.63 L424.10,334.76 L425.10,334.88 L426.10,335.01 L427.10,335.14 L428.10,335.26 L429.10,335.38 L430.10,335.51 L431.10,335.63 L432.10,335.76 L433.10,335.88 L434.10,336.00 L435.10,336.13 L436.10,336.25 L437.10,336.37 L438.10,336.50 L439.10,336.62 L440.10,336.74 L441.10,336.86 L442.10,336.99 L443.10,337.11 L444.10,337.23 L445.10,337.35 L446.10,337.47 L447.10,337.59 L448.10,337.71 L449.10,337.83 L450.10,337.95 L451.10,338.07 L452.10,338.19 L452.80,338.28" fill="none" stroke="#a00c30" stroke-width="1.6"/>
<text x="464.50" y="239.70" font-size="8.4" fill="#c43a66" stroke="#c43a66" stroke-width="0.1">r</text>
<rect x="468.60" y="236.00" width="5.4" height="2.4" fill="#777"/>
<text transform="translate(476.10,239.70) scale(0.950,1)" font-size="8.60" text-anchor="start" fill="#222" font-weight="normal"  stroke="#222" stroke-width="0.20">-0.23</text>
<text transform="translate(464.50,251.60) scale(0.960,1)" font-size="8.20" text-anchor="start" fill="#222" font-weight="normal"  stroke="#222" stroke-width="0.20">p&lt;0.001</text>
<text transform="translate(303.80,322.50) rotate(-90) scale(0.6840,1)" x="-0.00" font-size="10.20" fill="#1a1a1a" stroke="#1a1a1a" stroke-width="0.30">Blood product transfusions</text>
<text transform="translate(404.80,366.50) scale(0.7018,1)" x="-0.00" font-size="10.00" fill="#1a1a1a" stroke="#1a1a1a" stroke-width="0.35">EFS (months)</text>
<text transform="translate(314.90,304.70) rotate(-90) scale(0.6823,1)" x="-0.00" font-size="10.20" fill="#1a1a1a" stroke="#1a1a1a" stroke-width="0.30">per EFS month</text>
<line x1="60.0" y1="409.7" x2="60.0" y2="536.9" stroke="#1a1a1a" stroke-width="1.4"/>
<line x1="59.3" y1="536.2" x2="246.3" y2="536.2" stroke="#1a1a1a" stroke-width="1.4"/>
<line x1="57" y1="536.20" x2="60" y2="536.20" stroke="#1a1a1a" stroke-width="1.1"/>
<text transform="translate(53.30,539.20) scale(1.080,1)" font-size="8.30" text-anchor="end" fill="#222" font-weight="normal"  stroke="#222" stroke-width="0.20">0</text>
<line x1="57" y1="505.30" x2="60" y2="505.30" stroke="#1a1a1a" stroke-width="1.1"/>
<text transform="translate(53.30,508.30) scale(1.080,1)" font-size="8.30" text-anchor="end" fill="#222" font-weight="normal"  stroke="#222" stroke-width="0.20">50</text>
<line x1="57" y1="474.40" x2="60" y2="474.40" stroke="#1a1a1a" stroke-width="1.1"/>
<text transform="translate(53.30,477.40) scale(1.080,1)" font-size="8.30" text-anchor="end" fill="#222" font-weight="normal"  stroke="#222" stroke-width="0.20">100</text>
<line x1="57" y1="443.50" x2="60" y2="443.50" stroke="#1a1a1a" stroke-width="1.1"/>
<text transform="translate(53.30,446.50) scale(1.080,1)" font-size="8.30" text-anchor="end" fill="#222" font-weight="normal"  stroke="#222" stroke-width="0.20">150</text>
<line x1="57" y1="412.60" x2="60" y2="412.60" stroke="#1a1a1a" stroke-width="1.1"/>
<text transform="translate(53.30,415.60) scale(1.080,1)" font-size="8.30" text-anchor="end" fill="#222" font-weight="normal"  stroke="#222" stroke-width="0.20">200</text>
<rect x="63.30" y="443.75" width="6.15" height="92.45" fill="#a6002a"/>
<line x1="66.37" y1="443.75" x2="66.37" y2="435.40" stroke="#222" stroke-width="1"/>
<line x1="65.10" y1="435.40" x2="67.65" y2="435.40" stroke="#222" stroke-width="1"/>
<rect x="69.45" y="525.32" width="6.15" height="10.88" fill="#68ab45"/>
<line x1="72.52" y1="525.32" x2="72.52" y2="523.96" stroke="#222" stroke-width="1"/>
<line x1="71.25" y1="523.96" x2="73.80" y2="523.96" stroke="#222" stroke-width="1"/>
<rect x="75.60" y="483.11" width="6.15" height="53.09" fill="#e9b81c"/>
<line x1="78.67" y1="483.11" x2="78.67" y2="479.22" stroke="#222" stroke-width="1"/>
<line x1="77.40" y1="479.22" x2="79.95" y2="479.22" stroke="#222" stroke-width="1"/>
<rect x="81.75" y="508.76" width="6.15" height="27.44" fill="#2a4a88"/>
<line x1="84.82" y1="508.76" x2="84.82" y2="503.51" stroke="#222" stroke-width="1"/>
<line x1="83.55" y1="503.51" x2="86.10" y2="503.51" stroke="#222" stroke-width="1"/>
<line x1="75.60" y1="536.2" x2="75.60" y2="539.5" stroke="#1a1a1a" stroke-width="1.1"/>
<text transform="translate(75.60,550.70) scale(1.030,1)" font-size="8.30" text-anchor="middle" fill="#222" font-weight="normal"  stroke="#222" stroke-width="0.20">1-6</text>
<rect x="94.25" y="488.61" width="6.15" height="47.59" fill="#a6002a"/>
<line x1="97.32" y1="488.61" x2="97.32" y2="485.22" stroke="#222" stroke-width="1"/>
<line x1="96.05" y1="485.22" x2="98.60" y2="485.22" stroke="#222" stroke-width="1"/>
<rect x="100.40" y="530.64" width="6.15" height="5.56" fill="#68ab45"/>
<line x1="103.47" y1="530.64" x2="103.47" y2="529.77" stroke="#222" stroke-width="1"/>
<line x1="102.20" y1="529.77" x2="104.75" y2="529.77" stroke="#222" stroke-width="1"/>
<rect x="106.55" y="510.49" width="6.15" height="25.71" fill="#e9b81c"/>
<line x1="109.62" y1="510.49" x2="109.62" y2="508.33" stroke="#222" stroke-width="1"/>
<line x1="108.35" y1="508.33" x2="110.90" y2="508.33" stroke="#222" stroke-width="1"/>
<rect x="112.70" y="521.06" width="6.15" height="15.14" fill="#2a4a88"/>
<line x1="115.77" y1="521.06" x2="115.77" y2="518.59" stroke="#222" stroke-width="1"/>
<line x1="114.50" y1="518.59" x2="117.05" y2="518.59" stroke="#222" stroke-width="1"/>
<line x1="106.55" y1="536.2" x2="106.55" y2="539.5" stroke="#1a1a1a" stroke-width="1.1"/>
<text transform="translate(106.55,550.70) scale(1.030,1)" font-size="8.30" text-anchor="middle" fill="#222" font-weight="normal"  stroke="#222" stroke-width="0.20">&gt;6-12</text>
<rect x="125.20" y="510.24" width="6.15" height="25.96" fill="#a6002a"/>
<line x1="128.27" y1="510.24" x2="128.27" y2="507.65" stroke="#222" stroke-width="1"/>
<line x1="127.00" y1="507.65" x2="129.55" y2="507.65" stroke="#222" stroke-width="1"/>
<rect x="131.35" y="532.80" width="6.15" height="3.40" fill="#68ab45"/>
<line x1="134.42" y1="532.80" x2="134.42" y2="532.18" stroke="#222" stroke-width="1"/>
<line x1="133.15" y1="532.18" x2="135.70" y2="532.18" stroke="#222" stroke-width="1"/>
<rect x="137.50" y="522.11" width="6.15" height="14.09" fill="#e9b81c"/>
<line x1="140.57" y1="522.11" x2="140.57" y2="520.26" stroke="#222" stroke-width="1"/>
<line x1="139.30" y1="520.26" x2="141.85" y2="520.26" stroke="#222" stroke-width="1"/>
<rect x="143.65" y="527.98" width="6.15" height="8.22" fill="#2a4a88"/>
<line x1="146.72" y1="527.98" x2="146.72" y2="526.50" stroke="#222" stroke-width="1"/>
<line x1="145.45" y1="526.50" x2="148.00" y2="526.50" stroke="#222" stroke-width="1"/>
<line x1="137.50" y1="536.2" x2="137.50" y2="539.5" stroke="#1a1a1a" stroke-width="1.1"/>
<text transform="translate(137.50,550.70) scale(1.030,1)" font-size="8.30" text-anchor="middle" fill="#222" font-weight="normal"  stroke="#222" stroke-width="0.20">&gt;12-18</text>
<rect x="156.15" y="519.33" width="6.15" height="16.87" fill="#a6002a"/>
<line x1="159.22" y1="519.33" x2="159.22" y2="516.61" stroke="#222" stroke-width="1"/>
<line x1="157.95" y1="516.61" x2="160.50" y2="516.61" stroke="#222" stroke-width="1"/>
<rect x="162.30" y="533.30" width="6.15" height="2.90" fill="#68ab45"/>
<line x1="165.37" y1="533.30" x2="165.37" y2="532.68" stroke="#222" stroke-width="1"/>
<line x1="164.10" y1="532.68" x2="166.65" y2="532.68" stroke="#222" stroke-width="1"/>
<rect x="168.45" y="526.74" width="6.15" height="9.46" fill="#e9b81c"/>
<line x1="171.52" y1="526.74" x2="171.52" y2="525.01" stroke="#222" stroke-width="1"/>
<line x1="170.25" y1="525.01" x2="172.80" y2="525.01" stroke="#222" stroke-width="1"/>
<rect x="174.60" y="531.26" width="6.15" height="4.94" fill="#2a4a88"/>
<line x1="177.67" y1="531.26" x2="177.67" y2="529.28" stroke="#222" stroke-width="1"/>
<line x1="176.40" y1="529.28" x2="178.95" y2="529.28" stroke="#222" stroke-width="1"/>
<line x1="168.45" y1="536.2" x2="168.45" y2="539.5" stroke="#1a1a1a" stroke-width="1.1"/>
<text transform="translate(168.45,550.70) scale(1.030,1)" font-size="8.30" text-anchor="middle" fill="#222" font-weight="normal"  stroke="#222" stroke-width="0.20">&gt;18-24</text>
<rect x="187.10" y="523.41" width="6.15" height="12.79" fill="#a6002a"/>
<line x1="190.17" y1="523.41" x2="190.17" y2="521.68" stroke="#222" stroke-width="1"/>
<line x1="188.90" y1="521.68" x2="191.45" y2="521.68" stroke="#222" stroke-width="1"/>
<rect x="193.25" y="533.60" width="6.15" height="2.60" fill="#68ab45"/>
<line x1="196.32" y1="533.60" x2="196.32" y2="532.99" stroke="#222" stroke-width="1"/>
<line x1="195.05" y1="532.99" x2="197.60" y2="532.99" stroke="#222" stroke-width="1"/>
<rect x="199.40" y="528.97" width="6.15" height="7.23" fill="#e9b81c"/>
<line x1="202.47" y1="528.97" x2="202.47" y2="526.99" stroke="#222" stroke-width="1"/>
<line x1="201.20" y1="526.99" x2="203.75" y2="526.99" stroke="#222" stroke-width="1"/>
<rect x="205.55" y="533.30" width="6.15" height="2.90" fill="#2a4a88"/>
<line x1="208.62" y1="533.30" x2="208.62" y2="532.68" stroke="#222" stroke-width="1"/>
<line x1="207.35" y1="532.68" x2="209.90" y2="532.68" stroke="#222" stroke-width="1"/>
<line x1="199.40" y1="536.2" x2="199.40" y2="539.5" stroke="#1a1a1a" stroke-width="1.1"/>
<text transform="translate(199.40,550.70) scale(1.030,1)" font-size="8.30" text-anchor="middle" fill="#222" font-weight="normal"  stroke="#222" stroke-width="0.20">&gt;24-30</text>
<rect x="218.05" y="523.10" width="6.15" height="13.10" fill="#a6002a"/>
<line x1="221.12" y1="523.10" x2="221.12" y2="518.77" stroke="#222" stroke-width="1"/>
<line x1="219.85" y1="518.77" x2="222.40" y2="518.77" stroke="#222" stroke-width="1"/>
<rect x="224.20" y="533.11" width="6.15" height="3.09" fill="#68ab45"/>
<line x1="227.27" y1="533.11" x2="227.27" y2="532.49" stroke="#222" stroke-width="1"/>
<line x1="226.00" y1="532.49" x2="228.55" y2="532.49" stroke="#222" stroke-width="1"/>
<rect x="230.35" y="528.97" width="6.15" height="7.23" fill="#e9b81c"/>
<line x1="233.42" y1="528.97" x2="233.42" y2="526.25" stroke="#222" stroke-width="1"/>
<line x1="232.15" y1="526.25" x2="234.70" y2="526.25" stroke="#222" stroke-width="1"/>
<rect x="236.50" y="532.62" width="6.15" height="3.58" fill="#2a4a88"/>
<line x1="239.57" y1="532.62" x2="239.57" y2="530.89" stroke="#222" stroke-width="1"/>
<line x1="238.30" y1="530.89" x2="240.85" y2="530.89" stroke="#222" stroke-width="1"/>
<line x1="230.35" y1="536.2" x2="230.35" y2="539.5" stroke="#1a1a1a" stroke-width="1.1"/>
<text transform="translate(230.35,550.70) scale(1.030,1)" font-size="8.30" text-anchor="middle" fill="#222" font-weight="normal"  stroke="#222" stroke-width="0.20">&gt;30-36</text>
<text transform="translate(131.30,564.80) scale(0.7018,1)" x="-0.00" font-size="10.00" fill="#1a1a1a" stroke="#1a1a1a" stroke-width="0.35">EFS (months)</text>
<text transform="translate(20.80,505.20) rotate(-90) scale(0.6895,1)" x="-0.00" font-size="10.20" fill="#1a1a1a" stroke="#1a1a1a" stroke-width="0.30">Healthcare utilization</text>
<text transform="translate(31.90,496.10) rotate(-90) scale(0.6779,1)" x="-0.00" font-size="10.20" fill="#1a1a1a" stroke="#1a1a1a" stroke-width="0.30">per EFS month</text>
<line x1="65" y1="418.8" x2="104.5" y2="418.8" stroke="#333" stroke-width="1.2"/>
<line x1="97" y1="423.7" x2="141.3" y2="423.7" stroke="#333" stroke-width="1.2"/>
<text transform="translate(70.00,415.60) scale(0.957,1)" font-size="8.20" text-anchor="start" fill="#222" font-weight="normal"  stroke="#222" stroke-width="0.20">p&lt;0.001</text>
<text transform="translate(111.20,420.60) scale(0.945,1)" font-size="8.20" text-anchor="start" fill="#222" font-weight="normal"  stroke="#222" stroke-width="0.20">p&lt;0.001</text>
<rect x="65.4" y="427.3" width="3.3" height="1.4" fill="#333"/>
<circle cx="161.7" cy="407.10" r="2.5" fill="#a6002a"/>
<text transform="translate(168.00,409.50) scale(0.971,1)" font-size="7.80" text-anchor="start" fill="#222" font-weight="normal" xml:space="preserve" stroke="#222" stroke-width="0.20">Overall healthcare utilization</text>
<circle cx="161.7" cy="426.25" r="2.5" fill="#68ab45"/>
<text x="168.00" y="423.80" font-size="7.80" text-anchor="start" fill="#222" font-weight="normal" xml:space="preserve" stroke="#222" stroke-width="0.20">Clinic visits,  ER visits,</text>
<text transform="translate(168.00,433.60) scale(0.971,1)" font-size="7.80" text-anchor="start" fill="#222" font-weight="normal" xml:space="preserve" stroke="#222" stroke-width="0.20">hospitalizationz and consultation</text>
<circle cx="161.7" cy="453.20" r="2.5" fill="#e9b81c"/>
<text transform="translate(168.00,450.10) scale(0.973,1)" font-size="7.80" text-anchor="start" fill="#222" font-weight="normal" xml:space="preserve" stroke="#222" stroke-width="0.20">Invasive procedures, laboratory</text>
<text transform="translate(168.00,459.20) scale(0.982,1)" font-size="7.80" text-anchor="start" fill="#222" font-weight="normal" xml:space="preserve" stroke="#222" stroke-width="0.20">and imaging studies</text>
<circle cx="161.7" cy="470.50" r="2.5" fill="#2a4a88"/>
<text x="168.00" y="472.50" font-size="7.80" text-anchor="start" fill="#222" font-weight="normal" xml:space="preserve" stroke="#222" stroke-width="0.20">Blood product transfusions</text>
<line x1="342.6" y1="424" x2="342.6" y2="536.8" stroke="#1a1a1a" stroke-width="1.4"/>
<line x1="341.9" y1="536.1" x2="509.5" y2="536.1" stroke="#1a1a1a" stroke-width="1.4"/>
<line x1="339.6" y1="536.10" x2="342.6" y2="536.10" stroke="#1a1a1a" stroke-width="1.1"/>
<text transform="translate(336.20,539.10) scale(1.080,1)" font-size="8.30" text-anchor="end" fill="#222" font-weight="normal"  stroke="#222" stroke-width="0.20">0</text>
<line x1="339.6" y1="517.83" x2="342.6" y2="517.83" stroke="#1a1a1a" stroke-width="1.1"/>
<line x1="339.6" y1="499.57" x2="342.6" y2="499.57" stroke="#1a1a1a" stroke-width="1.1"/>
<text transform="translate(336.20,502.57) scale(1.080,1)" font-size="8.30" text-anchor="end" fill="#222" font-weight="normal"  stroke="#222" stroke-width="0.20">150</text>
<line x1="339.6" y1="481.30" x2="342.6" y2="481.30" stroke="#1a1a1a" stroke-width="1.1"/>
<line x1="339.6" y1="463.03" x2="342.6" y2="463.03" stroke="#1a1a1a" stroke-width="1.1"/>
<text transform="translate(336.20,466.03) scale(1.080,1)" font-size="8.30" text-anchor="end" fill="#222" font-weight="normal"  stroke="#222" stroke-width="0.20">300</text>
<line x1="339.6" y1="444.77" x2="342.6" y2="444.77" stroke="#1a1a1a" stroke-width="1.1"/>
<line x1="339.6" y1="426.50" x2="342.6" y2="426.50" stroke="#1a1a1a" stroke-width="1.1"/>
<text transform="translate(336.20,429.50) scale(1.080,1)" font-size="8.30" text-anchor="end" fill="#222" font-weight="normal"  stroke="#222" stroke-width="0.20">450</text>
<line x1="342.60" y1="536.1" x2="342.60" y2="539.4" stroke="#1a1a1a" stroke-width="1.1"/>
<text transform="translate(342.60,550.40) scale(1.080,1)" font-size="8.30" text-anchor="middle" fill="#222" font-weight="normal"  stroke="#222" stroke-width="0.20">0</text>
<line x1="369.98" y1="536.1" x2="369.98" y2="539.4" stroke="#1a1a1a" stroke-width="1.1"/>
<text transform="translate(369.98,550.40) scale(1.080,1)" font-size="8.30" text-anchor="middle" fill="#222" font-weight="normal"  stroke="#222" stroke-width="0.20">6</text>
<line x1="397.37" y1="536.1" x2="397.37" y2="539.4" stroke="#1a1a1a" stroke-width="1.1"/>
<text transform="translate(397.37,550.40) scale(1.080,1)" font-size="8.30" text-anchor="middle" fill="#222" font-weight="normal"  stroke="#222" stroke-width="0.20">12</text>
<line x1="424.75" y1="536.1" x2="424.75" y2="539.4" stroke="#1a1a1a" stroke-width="1.1"/>
<text transform="translate(424.75,550.40) scale(1.080,1)" font-size="8.30" text-anchor="middle" fill="#222" font-weight="normal"  stroke="#222" stroke-width="0.20">18</text>
<line x1="452.14" y1="536.1" x2="452.14" y2="539.4" stroke="#1a1a1a" stroke-width="1.1"/>
<text transform="translate(452.14,550.40) scale(1.080,1)" font-size="8.30" text-anchor="middle" fill="#222" font-weight="normal"  stroke="#222" stroke-width="0.20">24</text>
<line x1="479.52" y1="536.1" x2="479.52" y2="539.4" stroke="#1a1a1a" stroke-width="1.1"/>
<text transform="translate(479.52,550.40) scale(1.080,1)" font-size="8.30" text-anchor="middle" fill="#222" font-weight="normal"  stroke="#222" stroke-width="0.20">30</text>
<line x1="506.90" y1="536.1" x2="506.90" y2="539.4" stroke="#1a1a1a" stroke-width="1.1"/>
<text transform="translate(506.90,550.40) scale(1.080,1)" font-size="8.30" text-anchor="middle" fill="#222" font-weight="normal"  stroke="#222" stroke-width="0.20">36</text>
<text transform="translate(404.20,564.80) scale(0.7018,1)" x="-0.00" font-size="10.00" fill="#1a1a1a" stroke="#1a1a1a" stroke-width="0.35">EFS (months)</text>
<text transform="translate(303.80,523.60) rotate(-90) scale(0.6846,1)" x="-0.00" font-size="10.20" fill="#1a1a1a" stroke="#1a1a1a" stroke-width="0.30">Overall healthcare utilization</text>
<text transform="translate(315.10,502.80) rotate(-90) scale(0.6706,1)" x="-0.00" font-size="10.20" fill="#1a1a1a" stroke="#1a1a1a" stroke-width="0.30">per EFS month</text>
<path d="M347.84,514.54 L348.05,514.40 L348.26,514.27 L348.47,514.15 L348.67,514.04 L348.87,513.94 L349.07,513.85 L349.27,513.77 L349.46,513.71 L349.66,513.65 L349.85,513.60 L350.04,513.56 L350.23,513.53 L350.41,513.51 L350.60,513.49 L350.78,513.49 L350.96,513.49 L351.14,513.51 L351.32,513.53 L351.50,513.56 L351.67,513.59 L351.84,513.64 L352.02,513.69 L352.19,513.75 L352.36,513.81 L352.52,513.88 L352.69,513.96 L352.86,514.04 L353.02,514.14 L353.18,514.23 L353.34,514.33 L353.51,514.44 L353.67,514.56 L353.82,514.67 L353.98,514.80 L354.14,514.93 L354.30,515.06 L354.45,515.20 L354.60,515.34 L354.76,515.49 L354.91,515.64 L355.06,515.79 L355.21,515.95 L355.37,516.11 L355.52,516.27 L355.67,516.44 L355.82,516.61 L355.96,516.78 L356.11,516.95 L356.26,517.13 L356.41,517.31 L356.56,517.49 L356.70,517.67 L356.85,517.85 L357.00,518.04 L357.14,518.22 L357.29,518.41 L357.44,518.60 L357.58,518.79 L357.73,518.97 L357.88,519.16 L358.02,519.35 L358.17,519.54 L358.31,519.73 L358.46,519.91 L358.61,520.10 L358.76,520.28 L358.90,520.47 L359.05,520.65 L359.20,520.83 L359.35,521.01 L359.50,521.19 L359.65,521.36 L359.80,521.54 L359.95,521.71 L360.10,521.88 L360.25,522.04 L360.41,522.20 L360.56,522.36 L360.72,522.52 L360.87,522.67 L361.03,522.82 L361.18,522.96 L361.34,523.10 L361.50,523.24 L361.66,523.37 L361.82,523.49 L361.98,523.61 L362.15,523.73 L362.31,523.84 L362.48,523.95 L362.64,524.05 L362.81,524.14 L362.98,524.23 L363.15,524.31 L363.33,524.38 L363.50,524.45 L363.67,524.51 L363.85,524.57 L364.03,524.61 L364.21,524.65 L364.39,524.69 L364.57,524.71 L364.76,524.73 L364.94,524.74 L365.13,524.74 L365.32,524.73 L365.51,524.71 L365.71,524.68 L365.90,524.65 L366.10,524.60 L366.30,524.55 L366.50,524.49 L366.71,524.41 L366.91,524.33 L367.12,524.24 L367.33,524.13 L367.54,524.02 L367.76,523.89 L367.98,523.76" fill="none" stroke="#8a8a8a" stroke-width="1.3"/>
<path d="M355.01,510.66 L356.09,510.49 L357.16,510.34 L358.22,510.20 L359.29,510.09 L360.35,509.99 L361.41,509.91 L362.47,509.85 L363.53,509.80 L364.58,509.77 L365.64,509.76 L366.69,509.76 L367.73,509.78 L368.78,509.82 L369.82,509.87 L370.87,509.94 L371.91,510.02 L372.95,510.11 L373.98,510.22 L375.02,510.34 L376.05,510.47 L377.08,510.62 L378.11,510.78 L379.14,510.95 L380.17,511.13 L381.19,511.32 L382.22,511.53 L383.24,511.74 L384.26,511.97 L385.28,512.21 L386.30,512.45 L387.32,512.70 L388.33,512.97 L389.35,513.24 L390.36,513.52 L391.38,513.81 L392.39,514.10 L393.40,514.40 L394.41,514.71 L395.42,515.03 L396.43,515.35 L397.44,515.68 L398.44,516.01 L399.45,516.35 L400.46,516.69 L401.46,517.03 L402.47,517.38 L403.47,517.74 L404.48,518.10 L405.48,518.46 L406.48,518.82 L407.49,519.18 L408.49,519.55 L409.49,519.92 L410.49,520.29 L411.50,520.66 L412.50,521.03 L413.50,521.40 L414.50,521.77 L415.51,522.14 L416.51,522.51 L417.51,522.88 L418.51,523.25 L419.52,523.61 L420.52,523.98 L421.53,524.34 L422.53,524.69 L423.53,525.05 L424.54,525.40 L425.55,525.74 L426.55,526.09 L427.56,526.42 L428.57,526.76 L429.58,527.08 L430.58,527.40 L431.59,527.72 L432.60,528.03 L433.62,528.33 L434.63,528.62 L435.64,528.91 L436.66,529.19 L437.67,529.46 L438.69,529.72 L439.71,529.97 L440.73,530.22 L441.75,530.45 L442.77,530.68 L443.79,530.89 L444.82,531.10 L445.84,531.29 L446.87,531.47 L447.90,531.64 L448.93,531.80 L449.96,531.94 L451.00,532.08 L452.03,532.20 L453.07,532.30 L454.11,532.39 L455.15,532.47 L456.19,532.54 L457.24,532.59 L458.28,532.62 L459.33,532.64 L460.38,532.64 L461.44,532.63 L462.49,532.60 L463.55,532.55 L464.61,532.49 L465.67,532.41 L466.73,532.31 L467.80,532.19 L468.87,532.05 L469.94,531.90 L471.02,531.72 L472.09,531.53 L473.17,531.31 L474.25,531.08 L475.34,530.82 L476.43,530.55 L477.52,530.25" fill="none" stroke="#ef9d2d" stroke-width="1.3"/>
<path d="M351.84,474.28 L352.26,475.10 L352.68,475.92 L353.11,476.74 L353.54,477.55 L353.98,478.37 L354.43,479.18 L354.88,480.00 L355.34,480.81 L355.80,481.62 L356.27,482.43 L356.74,483.24 L357.22,484.04 L357.70,484.85 L358.19,485.65 L358.69,486.44 L359.19,487.24 L359.70,488.03 L360.21,488.82 L360.73,489.61 L361.25,490.39 L361.78,491.17 L362.32,491.94 L362.86,492.71 L363.41,493.48 L363.96,494.24 L364.52,495.00 L365.08,495.75 L365.65,496.50 L366.23,497.24 L366.81,497.98 L367.40,498.71 L368.00,499.43 L368.60,500.16 L369.20,500.87 L369.82,501.58 L370.44,502.28 L371.06,502.98 L371.69,503.66 L372.33,504.35 L372.97,505.02 L373.62,505.69 L374.28,506.35 L374.94,507.00 L375.61,507.65 L376.29,508.28 L376.97,508.91 L377.65,509.53 L378.35,510.15 L379.05,510.75 L379.75,511.35 L380.47,511.93 L381.19,512.51 L381.91,513.08 L382.64,513.63 L383.38,514.18 L384.13,514.72 L384.88,515.25 L385.64,515.77 L386.40,516.28 L387.17,516.77 L387.95,517.26 L388.73,517.74 L389.52,518.20 L390.32,518.66 L391.12,519.10 L391.93,519.54 L392.75,519.96 L393.57,520.38 L394.39,520.78 L395.22,521.18 L396.06,521.56 L396.90,521.94 L397.75,522.31 L398.60,522.66 L399.46,523.01 L400.32,523.35 L401.18,523.68 L402.05,524.00 L402.92,524.31 L403.80,524.62 L404.68,524.91 L405.57,525.20 L406.45,525.48 L407.35,525.75 L408.24,526.01 L409.14,526.26 L410.04,526.51 L410.95,526.75 L411.85,526.98 L412.76,527.20 L413.67,527.42 L414.59,527.62 L415.51,527.83 L416.42,528.02 L417.34,528.21 L418.27,528.39 L419.19,528.56 L420.12,528.73 L421.04,528.89 L421.97,529.04 L422.90,529.19 L423.83,529.33 L424.76,529.46 L425.70,529.59 L426.63,529.71 L427.56,529.83 L428.49,529.94 L429.43,530.05 L430.36,530.15 L431.30,530.24 L432.23,530.33 L433.16,530.42 L434.09,530.49 L435.02,530.57 L435.96,530.64 L436.89,530.70 L437.81,530.76 L438.74,530.82 L439.67,530.87" fill="none" stroke="#4a2a7e" stroke-width="1.3"/>
<path d="M352.99,493.76 L353.49,493.93 L353.97,494.11 L354.44,494.30 L354.89,494.50 L355.33,494.72 L355.76,494.94 L356.18,495.17 L356.59,495.41 L356.99,495.67 L357.37,495.93 L357.75,496.20 L358.11,496.48 L358.47,496.76 L358.81,497.06 L359.14,497.36 L359.47,497.68 L359.79,498.00 L360.09,498.33 L360.39,498.66 L360.68,499.01 L360.97,499.36 L361.24,499.71 L361.51,500.08 L361.77,500.45 L362.02,500.82 L362.27,501.20 L362.51,501.59 L362.74,501.98 L362.97,502.38 L363.19,502.79 L363.41,503.20 L363.62,503.61 L363.83,504.03 L364.03,504.45 L364.23,504.87 L364.42,505.30 L364.62,505.74 L364.80,506.17 L364.99,506.61 L365.17,507.06 L365.35,507.50 L365.52,507.95 L365.69,508.40 L365.87,508.85 L366.04,509.31 L366.20,509.77 L366.37,510.22 L366.54,510.68 L366.70,511.14 L366.87,511.60 L367.04,512.07 L367.20,512.53 L367.37,512.99 L367.53,513.45 L367.70,513.91 L367.87,514.38 L368.04,514.84 L368.21,515.30 L368.39,515.76 L368.57,516.21 L368.75,516.67 L368.93,517.12 L369.11,517.58 L369.30,518.03 L369.50,518.48 L369.69,518.92 L369.89,519.36 L370.10,519.80 L370.31,520.24 L370.52,520.67 L370.74,521.10 L370.97,521.53 L371.20,521.95 L371.44,522.37 L371.68,522.78 L371.93,523.19 L372.19,523.59 L372.45,523.99 L372.72,524.38 L373.00,524.77 L373.29,525.15 L373.58,525.53 L373.89,525.90 L374.20,526.26 L374.52,526.62 L374.85,526.96 L375.18,527.29 L375.52,527.61 L375.87,527.91 L376.22,528.19 L376.58,528.45 L376.95,528.69 L377.32,528.91 L377.69,529.10 L378.07,529.26 L378.45,529.39 L378.83,529.49 L379.22,529.56 L379.61,529.59 L380.00,529.59 L380.39,529.55 L380.78,529.46 L381.17,529.33 L381.57,529.16 L381.96,528.94 L382.35,528.67 L382.74,528.36 L383.12,528.00 L383.48,527.60 L383.83,527.18 L384.15,526.72 L384.44,526.24 L384.70,525.74 L384.92,525.23 L385.10,524.71 L385.22,524.18 L385.29,523.66 L385.30,523.14 L385.25,522.63" fill="none" stroke="#b0102f" stroke-width="1.3"/>
<path d="M352.26,432.28 L352.57,433.42 L352.89,434.56 L353.19,435.70 L353.49,436.84 L353.78,437.97 L354.07,439.10 L354.36,440.24 L354.63,441.37 L354.91,442.50 L355.17,443.63 L355.44,444.76 L355.70,445.88 L355.96,447.01 L356.21,448.13 L356.46,449.26 L356.70,450.38 L356.95,451.51 L357.19,452.63 L357.42,453.75 L357.66,454.87 L357.89,455.99 L358.13,457.11 L358.36,458.23 L358.59,459.35 L358.81,460.47 L359.04,461.59 L359.27,462.71 L359.49,463.83 L359.72,464.95 L359.95,466.07 L360.17,467.19 L360.40,468.32 L360.63,469.44 L360.86,470.56 L361.09,471.68 L361.32,472.80 L361.55,473.93 L361.79,475.05 L362.02,476.18 L362.26,477.30 L362.51,478.43 L362.75,479.56 L363.00,480.69 L363.25,481.82 L363.51,482.95 L363.77,484.08 L364.03,485.21 L364.30,486.35 L364.57,487.49 L364.85,488.62 L365.13,489.76 L365.41,490.90 L365.71,492.05 L366.00,493.19 L366.31,494.34 L366.62,495.49 L366.93,496.64 L367.26,497.79 L367.59,498.95 L367.92,500.10 L368.27,501.26 L368.62,502.42 L368.99,503.57 L369.37,504.71 L369.78,505.85 L370.20,506.96 L370.64,508.07 L371.11,509.15 L371.61,510.20 L372.14,511.23 L372.70,512.23 L373.30,513.20 L373.93,514.12 L374.61,515.01 L375.33,515.86 L376.08,516.67 L376.88,517.42 L377.71,518.14 L378.58,518.80 L379.48,519.42 L380.42,519.98 L381.39,520.49 L382.39,520.94 L383.42,521.34 L384.48,521.68 L385.57,521.98 L386.69,522.22 L387.82,522.43 L388.98,522.59 L390.14,522.73 L391.33,522.84 L392.52,522.93 L393.72,523.01 L394.92,523.07 L396.13,523.14 L397.33,523.20 L398.53,523.26 L399.72,523.34 L400.91,523.43 L402.08,523.54 L403.24,523.68 L404.38,523.84 L405.50,524.05 L406.59,524.29 L407.66,524.58 L408.70,524.93 L409.71,525.33 L410.69,525.79 L411.63,526.31 L412.52,526.91 L413.38,527.59 L414.19,528.34 L414.95,529.19 L415.67,530.12 L416.33,531.15 L416.94,532.28 L417.48,533.52 L417.97,534.87 L418.40,536.34" fill="none" stroke="#5aaee6" stroke-width="1.3"/>
<path d="M351.60,435.56 L352.27,437.09 L352.93,438.62 L353.58,440.16 L354.22,441.71 L354.85,443.26 L355.48,444.81 L356.10,446.37 L356.72,447.93 L357.33,449.49 L357.93,451.05 L358.54,452.62 L359.14,454.19 L359.74,455.76 L360.35,457.33 L360.95,458.90 L361.55,460.48 L362.16,462.05 L362.77,463.62 L363.38,465.18 L364.00,466.75 L364.62,468.31 L365.25,469.88 L365.88,471.43 L366.53,472.99 L367.18,474.54 L367.84,476.08 L368.52,477.62 L369.20,479.16 L369.90,480.69 L370.61,482.21 L371.33,483.72 L372.07,485.23 L372.82,486.73 L373.59,488.22 L374.38,489.71 L375.18,491.18 L376.00,492.65 L376.85,494.10 L377.71,495.54 L378.59,496.98 L379.50,498.40 L380.43,499.81 L381.38,501.21 L382.36,502.59 L383.36,503.97 L384.38,505.32 L385.44,506.66 L386.52,507.99 L387.62,509.29 L388.75,510.56 L389.91,511.81 L391.09,513.04 L392.30,514.23 L393.53,515.38 L394.79,516.50 L396.07,517.58 L397.38,518.62 L398.71,519.62 L400.07,520.56 L401.46,521.46 L402.86,522.31 L404.30,523.11 L405.76,523.84 L407.24,524.52 L408.75,525.14 L410.28,525.69 L411.84,526.18 L413.42,526.60 L415.03,526.96 L416.66,527.25 L418.30,527.48 L419.96,527.65 L421.63,527.78 L423.32,527.85 L425.01,527.88 L426.72,527.86 L428.42,527.80 L430.13,527.71 L431.85,527.58 L433.56,527.42 L435.26,527.23 L436.97,527.02 L438.66,526.79 L440.36,526.55 L442.05,526.29 L443.73,526.02 L445.41,525.76 L447.09,525.49 L448.77,525.22 L450.44,524.97 L452.11,524.73 L453.78,524.50 L455.45,524.30 L457.12,524.12 L458.79,523.97 L460.45,523.86 L462.12,523.78 L463.79,523.74 L465.46,523.75 L467.12,523.81 L468.79,523.92 L470.44,524.07 L472.09,524.29 L473.73,524.55 L475.36,524.87 L476.98,525.25 L478.58,525.69 L480.16,526.19 L481.72,526.76 L483.26,527.38 L484.78,528.08 L486.26,528.84 L487.72,529.67 L489.15,530.57 L490.55,531.54 L491.91,532.59 L493.23,533.71 L494.51,534.91 L495.76,536.19" fill="none" stroke="#6ab04c" stroke-width="1.3"/>
<text transform="translate(426.40,433.90) scale(0.990,1)" font-size="7.60" text-anchor="start" fill="#222" font-weight="normal"  stroke="#222" stroke-width="0.20">Overall survival (months)</text>
<line x1="429.5" y1="443.10" x2="440.4" y2="443.10" stroke="#8a8a8a" stroke-width="1.4"/>
<text transform="translate(443.80,445.90) scale(1.077,1)" font-size="7.70" text-anchor="start" fill="#222" font-weight="normal"  stroke="#222" stroke-width="0.20">1 to 6 (n=66)</text>
<line x1="429.5" y1="452.30" x2="440.4" y2="452.30" stroke="#b0102f" stroke-width="1.4"/>
<text transform="translate(443.80,455.10) scale(1.077,1)" font-size="7.70" text-anchor="start" fill="#222" font-weight="normal"  stroke="#222" stroke-width="0.20">&gt;6 to 12 (n=44)</text>
<line x1="429.5" y1="461.50" x2="440.4" y2="461.50" stroke="#5aaee6" stroke-width="1.4"/>
<text transform="translate(443.80,464.30) scale(1.077,1)" font-size="7.70" text-anchor="start" fill="#222" font-weight="normal"  stroke="#222" stroke-width="0.20">&gt;12 to 18 (n=128)</text>
<line x1="429.5" y1="470.10" x2="440.4" y2="470.10" stroke="#4a2a7e" stroke-width="1.4"/>
<text transform="translate(443.80,472.90) scale(1.077,1)" font-size="7.70" text-anchor="start" fill="#222" font-weight="normal"  stroke="#222" stroke-width="0.20">&gt;18 to 24 (n=78)</text>
<line x1="429.5" y1="479.30" x2="440.4" y2="479.30" stroke="#ef9d2d" stroke-width="1.4"/>
<text transform="translate(443.80,482.10) scale(1.077,1)" font-size="7.70" text-anchor="start" fill="#222" font-weight="normal"  stroke="#222" stroke-width="0.20">&gt;24 to 30 (n=48)</text>
<line x1="429.5" y1="488.10" x2="440.4" y2="488.10" stroke="#6ab04c" stroke-width="1.4"/>
<text transform="translate(443.80,490.90) scale(1.077,1)" font-size="7.70" text-anchor="start" fill="#222" font-weight="normal"  stroke="#222" stroke-width="0.20">&gt;30 to 36 (n=28)</text>
</svg>
</body></html>
